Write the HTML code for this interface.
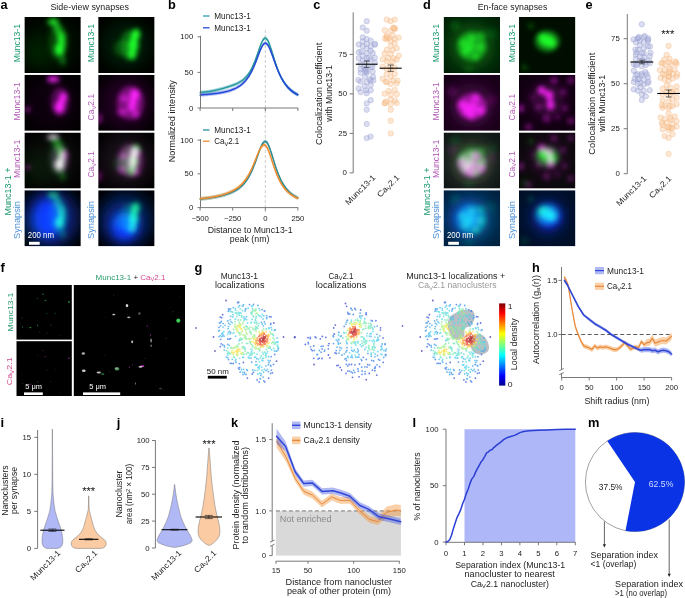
<!DOCTYPE html><html><head><meta charset="utf-8"><title>Figure</title><style>html,body{margin:0;padding:0;background:#fff}svg{display:block}text{font-family:"Liberation Sans",sans-serif}</style></head><body><svg width="685" height="598" viewBox="0 0 685 598" font-family="'Liberation Sans', sans-serif">
<defs>
<filter id="b3" x="-50%" y="-50%" width="200%" height="200%"><feGaussianBlur stdDeviation="2.7"/></filter>
<filter id="b4" x="-50%" y="-50%" width="200%" height="200%"><feGaussianBlur stdDeviation="4"/></filter>
<filter id="b5" x="-50%" y="-50%" width="200%" height="200%"><feGaussianBlur stdDeviation="4.5"/></filter>
<filter id="b8" x="-50%" y="-50%" width="200%" height="200%"><feGaussianBlur stdDeviation="8"/></filter>
<filter id="b1" x="-50%" y="-50%" width="200%" height="200%"><feGaussianBlur stdDeviation="0.5"/></filter>
<linearGradient id="jet" x1="0" y1="1" x2="0" y2="0">
<stop offset="0" stop-color="#00008f"/><stop offset="0.12" stop-color="#0000ff"/><stop offset="0.37" stop-color="#00ffff"/><stop offset="0.5" stop-color="#80ff80"/><stop offset="0.63" stop-color="#ffff00"/><stop offset="0.88" stop-color="#ff0000"/><stop offset="1" stop-color="#800000"/>
</linearGradient>
</defs>
<rect width="685" height="598" fill="#fff"/>
<clipPath id="c1"><rect x="24.4" y="17" width="56.4" height="56.1"/></clipPath>
<g clip-path="url(#c1)" style="isolation:isolate"><rect x="24.4" y="17" width="56.4" height="56.1" fill="#000"/>
<g style="mix-blend-mode:screen"><g filter="url(#b8)" fill="#1fff2a"><ellipse cx="35.7" cy="53.5" rx="16.9" ry="16.8" opacity="0.08"/><ellipse cx="52.6" cy="45.0" rx="28.2" ry="28.1" opacity="0.06"/></g><g filter="url(#b3)" fill="#1fff2a"><ellipse cx="53.2" cy="22.0" rx="5.6" ry="3.9" opacity="0.8"/><ellipse cx="57.7" cy="29.3" rx="3.9" ry="5.0" opacity="0.6"/><ellipse cx="61.1" cy="37.2" rx="4.2" ry="5.6" opacity="0.85"/><ellipse cx="59.4" cy="49.5" rx="4.8" ry="6.2" opacity="1"/><ellipse cx="59.9" cy="48.4" rx="2.8" ry="3.9" opacity="1"/><ellipse cx="61.6" cy="43.4" rx="3.9" ry="5.0" opacity="0.8"/><ellipse cx="62.8" cy="60.8" rx="3.4" ry="5.0" opacity="0.35"/><ellipse cx="58.2" cy="42.2" rx="9.6" ry="18.5" opacity="0.2"/></g></g>
</g>
<clipPath id="c2"><rect x="24.4" y="74.75" width="56.4" height="56.1"/></clipPath>
<g clip-path="url(#c2)" style="isolation:isolate"><rect x="24.4" y="74.75" width="56.4" height="56.1" fill="#000"/>
<g style="mix-blend-mode:screen"><g filter="url(#b8)" fill="#ff22ff"><ellipse cx="52.6" cy="102.8" rx="28.2" ry="28.1" opacity="0.05"/></g><g filter="url(#b3)" fill="#ff22ff"><ellipse cx="53.2" cy="79.2" rx="6.2" ry="3.1" opacity="0.9"/><ellipse cx="63.3" cy="96.6" rx="3.9" ry="4.2" opacity="0.95"/><ellipse cx="59.4" cy="107.3" rx="4.8" ry="5.6" opacity="1"/><ellipse cx="59.4" cy="107.3" rx="2.8" ry="3.4" opacity="1"/><ellipse cx="61.6" cy="101.7" rx="3.7" ry="4.5" opacity="0.9"/><ellipse cx="27.8" cy="109.5" rx="2.5" ry="2.5" opacity="0.6"/><ellipse cx="59.9" cy="101.7" rx="9.6" ry="14.6" opacity="0.28"/></g></g>
</g>
<clipPath id="c3"><rect x="24.4" y="132.5" width="56.4" height="56.1"/></clipPath>
<g clip-path="url(#c3)" style="isolation:isolate"><rect x="24.4" y="132.5" width="56.4" height="56.1" fill="#000"/>
<g style="mix-blend-mode:screen"><g filter="url(#b8)" fill="#1fff2a"><ellipse cx="35.7" cy="169.0" rx="16.9" ry="16.8" opacity="0.0576"/><ellipse cx="52.6" cy="160.6" rx="28.2" ry="28.1" opacity="0.043199999999999995"/></g><g filter="url(#b3)" fill="#1fff2a"><ellipse cx="53.2" cy="137.5" rx="5.6" ry="3.9" opacity="0.576"/><ellipse cx="57.7" cy="144.8" rx="3.9" ry="5.0" opacity="0.432"/><ellipse cx="61.1" cy="152.7" rx="4.2" ry="5.6" opacity="0.612"/><ellipse cx="59.4" cy="165.0" rx="4.8" ry="6.2" opacity="0.72"/><ellipse cx="59.9" cy="163.9" rx="2.8" ry="3.9" opacity="0.72"/><ellipse cx="61.6" cy="158.9" rx="3.9" ry="5.0" opacity="0.576"/><ellipse cx="62.8" cy="176.3" rx="3.4" ry="5.0" opacity="0.252"/><ellipse cx="58.2" cy="157.7" rx="9.6" ry="18.5" opacity="0.144"/></g></g>
<g style="mix-blend-mode:screen"><g filter="url(#b8)" fill="#ff22ff"><ellipse cx="52.6" cy="160.6" rx="28.2" ry="28.1" opacity="0.036"/></g><g filter="url(#b3)" fill="#ff22ff"><ellipse cx="53.2" cy="137.0" rx="6.2" ry="3.1" opacity="0.648"/><ellipse cx="63.3" cy="154.4" rx="3.9" ry="4.2" opacity="0.6839999999999999"/><ellipse cx="59.4" cy="165.0" rx="4.8" ry="5.6" opacity="0.72"/><ellipse cx="59.4" cy="165.0" rx="2.8" ry="3.4" opacity="0.72"/><ellipse cx="61.6" cy="159.4" rx="3.7" ry="4.5" opacity="0.648"/><ellipse cx="27.8" cy="167.3" rx="2.5" ry="2.5" opacity="0.432"/><ellipse cx="59.9" cy="159.4" rx="9.6" ry="14.6" opacity="0.2016"/></g></g>
</g>
<clipPath id="c4"><rect x="24.4" y="190.25" width="56.4" height="56.1"/></clipPath>
<g clip-path="url(#c4)" style="isolation:isolate"><rect x="24.4" y="190.25" width="56.4" height="56.1" fill="#000"/>
<g style="mix-blend-mode:screen"><g filter="url(#b8)" fill="#1030ff"><ellipse cx="52.6" cy="218.3" rx="28.2" ry="28.1" opacity="0.35"/><ellipse cx="47.0" cy="218.3" rx="21.4" ry="26.9" opacity="0.4"/></g><g filter="url(#b5)" fill="#1030ff"><ellipse cx="48.1" cy="218.3" rx="13.5" ry="18.0" opacity="1"/><ellipse cx="49.8" cy="221.1" rx="9.0" ry="12.3" opacity="0.8"/></g></g>
<g style="mix-blend-mode:screen"><g filter="url(#b8)" fill="#10ff70"><ellipse cx="35.7" cy="226.7" rx="16.9" ry="16.8" opacity="0.0576"/><ellipse cx="52.6" cy="218.3" rx="28.2" ry="28.1" opacity="0.043199999999999995"/></g><g filter="url(#b3)" fill="#10ff70"><ellipse cx="53.2" cy="195.3" rx="5.6" ry="3.9" opacity="0.576"/><ellipse cx="57.7" cy="202.6" rx="3.9" ry="5.0" opacity="0.432"/><ellipse cx="61.1" cy="210.4" rx="4.2" ry="5.6" opacity="0.612"/><ellipse cx="59.4" cy="222.8" rx="4.8" ry="6.2" opacity="0.72"/><ellipse cx="59.9" cy="221.7" rx="2.8" ry="3.9" opacity="0.72"/><ellipse cx="61.6" cy="216.6" rx="3.9" ry="5.0" opacity="0.576"/><ellipse cx="62.8" cy="234.0" rx="3.4" ry="5.0" opacity="0.252"/><ellipse cx="58.2" cy="215.5" rx="9.6" ry="18.5" opacity="0.144"/></g></g>
</g>
<clipPath id="c5"><rect x="98.2" y="17" width="56.4" height="56.1"/></clipPath>
<g clip-path="url(#c5)" style="isolation:isolate"><rect x="98.2" y="17" width="56.4" height="56.1" fill="#000"/>
<g style="mix-blend-mode:screen"><g filter="url(#b8)" fill="#1fff2a"><ellipse cx="126.4" cy="45.0" rx="25.4" ry="25.2" opacity="0.1"/></g><g filter="url(#b3)" fill="#1fff2a"><ellipse cx="136.0" cy="34.4" rx="4.2" ry="5.6" opacity="1"/><ellipse cx="133.2" cy="45.0" rx="4.8" ry="6.2" opacity="1"/><ellipse cx="132.0" cy="54.6" rx="4.2" ry="5.0" opacity="0.95"/><ellipse cx="133.7" cy="42.2" rx="3.4" ry="11.2" opacity="1"/><ellipse cx="129.8" cy="45.0" rx="9.6" ry="15.1" opacity="0.33"/><ellipse cx="121.9" cy="48.4" rx="8.5" ry="8.4" opacity="0.2"/></g></g>
</g>
<clipPath id="c6"><rect x="98.2" y="74.75" width="56.4" height="56.1"/></clipPath>
<g clip-path="url(#c6)" style="isolation:isolate"><rect x="98.2" y="74.75" width="56.4" height="56.1" fill="#000"/>
<g style="mix-blend-mode:screen"><g filter="url(#b8)" fill="#ff22ff"><ellipse cx="126.4" cy="102.8" rx="28.2" ry="28.1" opacity="0.12"/></g><g filter="url(#b3)" fill="#ff22ff"><ellipse cx="134.9" cy="94.4" rx="4.8" ry="5.6" opacity="1"/><ellipse cx="134.3" cy="96.1" rx="2.8" ry="3.4" opacity="1"/><ellipse cx="133.2" cy="100.6" rx="3.9" ry="6.7" opacity="0.9"/><ellipse cx="124.1" cy="98.3" rx="3.9" ry="3.4" opacity="0.65"/><ellipse cx="132.0" cy="106.7" rx="4.5" ry="5.0" opacity="0.85"/><ellipse cx="121.9" cy="112.3" rx="5.1" ry="3.9" opacity="0.5"/><ellipse cx="136.0" cy="114.6" rx="3.7" ry="3.6" opacity="0.65"/><ellipse cx="130.3" cy="102.8" rx="13.5" ry="16.8" opacity="0.4"/><ellipse cx="99.3" cy="118.5" rx="2.8" ry="5.6" opacity="0.45"/></g></g>
</g>
<clipPath id="c7"><rect x="98.2" y="132.5" width="56.4" height="56.1"/></clipPath>
<g clip-path="url(#c7)" style="isolation:isolate"><rect x="98.2" y="132.5" width="56.4" height="56.1" fill="#000"/>
<g style="mix-blend-mode:screen"><g filter="url(#b8)" fill="#1fff2a"><ellipse cx="126.4" cy="160.6" rx="25.4" ry="25.2" opacity="0.072"/></g><g filter="url(#b3)" fill="#1fff2a"><ellipse cx="136.0" cy="149.9" rx="4.2" ry="5.6" opacity="0.72"/><ellipse cx="133.2" cy="160.6" rx="4.8" ry="6.2" opacity="0.72"/><ellipse cx="132.0" cy="170.1" rx="4.2" ry="5.0" opacity="0.6839999999999999"/><ellipse cx="133.7" cy="157.7" rx="3.4" ry="11.2" opacity="0.72"/><ellipse cx="129.8" cy="160.6" rx="9.6" ry="15.1" opacity="0.2376"/><ellipse cx="121.9" cy="163.9" rx="8.5" ry="8.4" opacity="0.144"/></g></g>
<g style="mix-blend-mode:screen"><g filter="url(#b8)" fill="#ff22ff"><ellipse cx="126.4" cy="160.6" rx="28.2" ry="28.1" opacity="0.08639999999999999"/></g><g filter="url(#b3)" fill="#ff22ff"><ellipse cx="134.9" cy="152.1" rx="4.8" ry="5.6" opacity="0.72"/><ellipse cx="134.3" cy="153.8" rx="2.8" ry="3.4" opacity="0.72"/><ellipse cx="133.2" cy="158.3" rx="3.9" ry="6.7" opacity="0.648"/><ellipse cx="124.1" cy="156.1" rx="3.9" ry="3.4" opacity="0.46799999999999997"/><ellipse cx="132.0" cy="164.5" rx="4.5" ry="5.0" opacity="0.612"/><ellipse cx="121.9" cy="170.1" rx="5.1" ry="3.9" opacity="0.36"/><ellipse cx="136.0" cy="172.3" rx="3.7" ry="3.6" opacity="0.46799999999999997"/><ellipse cx="130.3" cy="160.6" rx="13.5" ry="16.8" opacity="0.288"/><ellipse cx="99.3" cy="176.3" rx="2.8" ry="5.6" opacity="0.324"/></g></g>
</g>
<clipPath id="c8"><rect x="98.2" y="190.25" width="56.4" height="56.1"/></clipPath>
<g clip-path="url(#c8)" style="isolation:isolate"><rect x="98.2" y="190.25" width="56.4" height="56.1" fill="#000"/>
<g style="mix-blend-mode:screen"><g filter="url(#b8)" fill="#1030ff"><ellipse cx="123.6" cy="223.9" rx="21.4" ry="22.4" opacity="0.4"/><ellipse cx="126.4" cy="218.3" rx="28.2" ry="28.1" opacity="0.22"/></g><g filter="url(#b5)" fill="#1030ff"><ellipse cx="124.7" cy="226.2" rx="12.4" ry="13.5" opacity="1"/><ellipse cx="126.4" cy="227.3" rx="8.5" ry="9.5" opacity="0.8"/></g></g>
<g style="mix-blend-mode:screen"><g filter="url(#b8)" fill="#10ff70"><ellipse cx="126.4" cy="218.3" rx="25.4" ry="25.2" opacity="0.072"/></g><g filter="url(#b3)" fill="#10ff70"><ellipse cx="136.0" cy="207.6" rx="4.2" ry="5.6" opacity="0.72"/><ellipse cx="133.2" cy="218.3" rx="4.8" ry="6.2" opacity="0.72"/><ellipse cx="132.0" cy="227.8" rx="4.2" ry="5.0" opacity="0.6839999999999999"/><ellipse cx="133.7" cy="215.5" rx="3.4" ry="11.2" opacity="0.72"/><ellipse cx="129.8" cy="218.3" rx="9.6" ry="15.1" opacity="0.2376"/><ellipse cx="121.9" cy="221.7" rx="8.5" ry="8.4" opacity="0.144"/></g></g>
</g>
<clipPath id="c9"><rect x="443.6" y="17" width="56.5" height="56.1"/></clipPath>
<g clip-path="url(#c9)" style="isolation:isolate"><rect x="443.6" y="17" width="56.5" height="56.1" fill="#000"/>
<g style="mix-blend-mode:screen"><g filter="url(#b8)" fill="#1fff2a"><ellipse cx="471.9" cy="46.2" rx="23.7" ry="23.6" opacity="0.22"/><ellipse cx="471.9" cy="45.0" rx="50.9" ry="50.5" opacity="0.12"/></g><g filter="url(#b3)" fill="#1fff2a"><ellipse cx="469.6" cy="47.3" rx="4.8" ry="4.8" opacity="0.7"/><ellipse cx="462.8" cy="42.8" rx="4.2" ry="4.2" opacity="0.65"/><ellipse cx="471.3" cy="38.9" rx="4.2" ry="4.2" opacity="0.65"/><ellipse cx="481.5" cy="35.5" rx="4.0" ry="3.9" opacity="0.4"/><ellipse cx="475.8" cy="56.8" rx="3.7" ry="3.6" opacity="0.6"/><ellipse cx="465.1" cy="51.8" rx="4.2" ry="4.2" opacity="0.65"/><ellipse cx="480.3" cy="47.3" rx="4.0" ry="4.2" opacity="0.6"/><ellipse cx="471.9" cy="46.2" rx="14.7" ry="14.6" opacity="0.45"/><ellipse cx="454.9" cy="25.4" rx="5.7" ry="5.6" opacity="0.15"/><ellipse cx="491.6" cy="33.8" rx="5.7" ry="5.6" opacity="0.12"/><ellipse cx="469.0" cy="68.6" rx="5.7" ry="3.4" opacity="0.15"/></g></g>
</g>
<clipPath id="c10"><rect x="443.6" y="74.75" width="56.5" height="56.1"/></clipPath>
<g clip-path="url(#c10)" style="isolation:isolate"><rect x="443.6" y="74.75" width="56.5" height="56.1" fill="#000"/>
<g style="mix-blend-mode:screen"><g filter="url(#b8)" fill="#ff22ff"><ellipse cx="471.9" cy="102.8" rx="50.9" ry="50.5" opacity="0.09"/><ellipse cx="471.9" cy="105.6" rx="22.6" ry="22.4" opacity="0.16"/></g><g filter="url(#b3)" fill="#ff22ff"><ellipse cx="471.3" cy="107.3" rx="6.2" ry="5.6" opacity="0.85"/><ellipse cx="462.2" cy="104.5" rx="4.5" ry="4.5" opacity="0.85"/><ellipse cx="475.8" cy="97.8" rx="4.5" ry="4.5" opacity="0.8"/><ellipse cx="480.9" cy="110.7" rx="4.5" ry="4.5" opacity="0.85"/><ellipse cx="471.3" cy="115.7" rx="4.5" ry="3.9" opacity="0.85"/><ellipse cx="466.8" cy="111.2" rx="4.5" ry="4.5" opacity="0.85"/><ellipse cx="471.9" cy="106.7" rx="14.7" ry="12.9" opacity="0.5"/><ellipse cx="452.1" cy="91.6" rx="5.7" ry="5.6" opacity="0.15"/><ellipse cx="491.6" cy="100.0" rx="5.7" ry="5.6" opacity="0.12"/></g></g>
</g>
<clipPath id="c11"><rect x="443.6" y="132.5" width="56.5" height="56.1"/></clipPath>
<g clip-path="url(#c11)" style="isolation:isolate"><rect x="443.6" y="132.5" width="56.5" height="56.1" fill="#000"/>
<g style="mix-blend-mode:screen"><g filter="url(#b8)" fill="#1fff2a"><ellipse cx="471.9" cy="161.7" rx="23.7" ry="23.6" opacity="0.15839999999999999"/><ellipse cx="471.9" cy="160.6" rx="50.9" ry="50.5" opacity="0.08639999999999999"/></g><g filter="url(#b3)" fill="#1fff2a"><ellipse cx="469.6" cy="162.8" rx="4.8" ry="4.8" opacity="0.504"/><ellipse cx="462.8" cy="158.3" rx="4.2" ry="4.2" opacity="0.46799999999999997"/><ellipse cx="471.3" cy="154.4" rx="4.2" ry="4.2" opacity="0.46799999999999997"/><ellipse cx="481.5" cy="151.0" rx="4.0" ry="3.9" opacity="0.288"/><ellipse cx="475.8" cy="172.3" rx="3.7" ry="3.6" opacity="0.432"/><ellipse cx="465.1" cy="167.3" rx="4.2" ry="4.2" opacity="0.46799999999999997"/><ellipse cx="480.3" cy="162.8" rx="4.0" ry="4.2" opacity="0.432"/><ellipse cx="471.9" cy="161.7" rx="14.7" ry="14.6" opacity="0.324"/><ellipse cx="454.9" cy="140.9" rx="5.7" ry="5.6" opacity="0.108"/><ellipse cx="491.6" cy="149.3" rx="5.7" ry="5.6" opacity="0.08639999999999999"/><ellipse cx="469.0" cy="184.1" rx="5.7" ry="3.4" opacity="0.108"/></g></g>
<g style="mix-blend-mode:screen"><g filter="url(#b8)" fill="#ff22ff"><ellipse cx="471.9" cy="160.6" rx="50.9" ry="50.5" opacity="0.0648"/><ellipse cx="471.9" cy="163.4" rx="22.6" ry="22.4" opacity="0.1152"/></g><g filter="url(#b3)" fill="#ff22ff"><ellipse cx="471.3" cy="165.0" rx="6.2" ry="5.6" opacity="0.612"/><ellipse cx="462.2" cy="162.2" rx="4.5" ry="4.5" opacity="0.612"/><ellipse cx="475.8" cy="155.5" rx="4.5" ry="4.5" opacity="0.576"/><ellipse cx="480.9" cy="168.4" rx="4.5" ry="4.5" opacity="0.612"/><ellipse cx="471.3" cy="173.5" rx="4.5" ry="3.9" opacity="0.612"/><ellipse cx="466.8" cy="169.0" rx="4.5" ry="4.5" opacity="0.612"/><ellipse cx="471.9" cy="164.5" rx="14.7" ry="12.9" opacity="0.36"/><ellipse cx="452.1" cy="149.3" rx="5.7" ry="5.6" opacity="0.108"/><ellipse cx="491.6" cy="157.7" rx="5.7" ry="5.6" opacity="0.08639999999999999"/></g></g>
</g>
<clipPath id="c12"><rect x="443.6" y="190.25" width="56.5" height="56.1"/></clipPath>
<g clip-path="url(#c12)" style="isolation:isolate"><rect x="443.6" y="190.25" width="56.5" height="56.1" fill="#000"/>
<g style="mix-blend-mode:screen"><g filter="url(#b8)" fill="#1030ff"><ellipse cx="471.9" cy="218.3" rx="50.9" ry="50.5" opacity="0.22"/><ellipse cx="469.0" cy="218.3" rx="22.6" ry="22.4" opacity="0.4"/></g><g filter="url(#b5)" fill="#1030ff"><ellipse cx="469.0" cy="218.3" rx="13.6" ry="13.5" opacity="0.8"/><ellipse cx="469.0" cy="217.2" rx="7.9" ry="7.9" opacity="0.6"/></g></g>
<g style="mix-blend-mode:screen"><g filter="url(#b8)" fill="#10ff70"><ellipse cx="471.9" cy="219.4" rx="23.7" ry="23.6" opacity="0.15839999999999999"/><ellipse cx="471.9" cy="218.3" rx="50.9" ry="50.5" opacity="0.08639999999999999"/></g><g filter="url(#b3)" fill="#10ff70"><ellipse cx="469.6" cy="220.5" rx="4.8" ry="4.8" opacity="0.504"/><ellipse cx="462.8" cy="216.1" rx="4.2" ry="4.2" opacity="0.46799999999999997"/><ellipse cx="471.3" cy="212.1" rx="4.2" ry="4.2" opacity="0.46799999999999997"/><ellipse cx="481.5" cy="208.8" rx="4.0" ry="3.9" opacity="0.288"/><ellipse cx="475.8" cy="230.1" rx="3.7" ry="3.6" opacity="0.432"/><ellipse cx="465.1" cy="225.0" rx="4.2" ry="4.2" opacity="0.46799999999999997"/><ellipse cx="480.3" cy="220.5" rx="4.0" ry="4.2" opacity="0.432"/><ellipse cx="471.9" cy="219.4" rx="14.7" ry="14.6" opacity="0.324"/><ellipse cx="454.9" cy="198.7" rx="5.7" ry="5.6" opacity="0.108"/><ellipse cx="491.6" cy="207.1" rx="5.7" ry="5.6" opacity="0.08639999999999999"/><ellipse cx="469.0" cy="241.9" rx="5.7" ry="3.4" opacity="0.108"/></g></g>
</g>
<clipPath id="c13"><rect x="519" y="17" width="56.4" height="56.1"/></clipPath>
<g clip-path="url(#c13)" style="isolation:isolate"><rect x="519" y="17" width="56.4" height="56.1" fill="#000"/>
<g style="mix-blend-mode:screen"><g filter="url(#b8)" fill="#1fff2a"><ellipse cx="547.2" cy="45.0" rx="50.8" ry="50.5" opacity="0.05"/></g><g filter="url(#b3)" fill="#1fff2a"><ellipse cx="542.7" cy="37.8" rx="4.8" ry="4.8" opacity="0.9"/><ellipse cx="551.7" cy="43.4" rx="4.8" ry="4.8" opacity="0.9"/><ellipse cx="547.2" cy="40.6" rx="7.3" ry="6.2" opacity="0.9"/><ellipse cx="547.2" cy="41.1" rx="12.4" ry="10.7" opacity="0.45"/><ellipse cx="530.8" cy="26.0" rx="2.8" ry="2.8" opacity="0.3"/><ellipse cx="524.6" cy="67.5" rx="3.4" ry="3.4" opacity="0.2"/></g></g>
</g>
<clipPath id="c14"><rect x="519" y="74.75" width="56.4" height="56.1"/></clipPath>
<g clip-path="url(#c14)" style="isolation:isolate"><rect x="519" y="74.75" width="56.4" height="56.1" fill="#000"/>
<g style="mix-blend-mode:screen"><g filter="url(#b8)" fill="#ff22ff"><ellipse cx="547.2" cy="100.0" rx="16.9" ry="16.8" opacity="0.18"/><ellipse cx="547.2" cy="102.8" rx="50.8" ry="50.5" opacity="0.06"/></g><g filter="url(#b3)" fill="#ff22ff"><ellipse cx="541.6" cy="90.5" rx="3.9" ry="3.9" opacity="0.95"/><ellipse cx="548.9" cy="94.4" rx="4.5" ry="3.9" opacity="0.95"/><ellipse cx="550.6" cy="105.6" rx="3.7" ry="4.5" opacity="0.95"/><ellipse cx="550.0" cy="100.0" rx="2.8" ry="4.5" opacity="0.8"/><ellipse cx="554.0" cy="80.4" rx="3.4" ry="3.4" opacity="0.45"/><ellipse cx="520.7" cy="108.4" rx="2.8" ry="3.9" opacity="0.6"/><ellipse cx="570.9" cy="80.4" rx="3.4" ry="3.4" opacity="0.4"/><ellipse cx="564.7" cy="108.4" rx="3.4" ry="3.4" opacity="0.3"/><ellipse cx="546.6" cy="118.5" rx="3.4" ry="3.9" opacity="0.4"/><ellipse cx="570.9" cy="120.8" rx="3.4" ry="3.4" opacity="0.4"/><ellipse cx="528.6" cy="126.9" rx="3.9" ry="2.8" opacity="0.4"/><ellipse cx="538.7" cy="106.7" rx="3.4" ry="3.4" opacity="0.35"/><ellipse cx="563.0" cy="92.1" rx="3.4" ry="3.4" opacity="0.35"/><ellipse cx="557.4" cy="116.8" rx="2.8" ry="2.8" opacity="0.3"/><ellipse cx="533.1" cy="97.2" rx="2.8" ry="2.8" opacity="0.25"/></g></g>
</g>
<clipPath id="c15"><rect x="519" y="132.5" width="56.4" height="56.1"/></clipPath>
<g clip-path="url(#c15)" style="isolation:isolate"><rect x="519" y="132.5" width="56.4" height="56.1" fill="#000"/>
<g style="mix-blend-mode:screen"><g filter="url(#b8)" fill="#1fff2a"><ellipse cx="547.2" cy="160.6" rx="50.8" ry="50.5" opacity="0.036"/></g><g filter="url(#b3)" fill="#1fff2a"><ellipse cx="542.7" cy="153.3" rx="4.8" ry="4.8" opacity="0.648"/><ellipse cx="551.7" cy="158.9" rx="4.8" ry="4.8" opacity="0.648"/><ellipse cx="547.2" cy="156.1" rx="7.3" ry="6.2" opacity="0.648"/><ellipse cx="547.2" cy="156.6" rx="12.4" ry="10.7" opacity="0.324"/><ellipse cx="530.8" cy="141.5" rx="2.8" ry="2.8" opacity="0.216"/><ellipse cx="524.6" cy="183.0" rx="3.4" ry="3.4" opacity="0.144"/></g></g>
<g style="mix-blend-mode:screen"><g filter="url(#b8)" fill="#ff22ff"><ellipse cx="547.2" cy="157.7" rx="16.9" ry="16.8" opacity="0.1296"/><ellipse cx="547.2" cy="160.6" rx="50.8" ry="50.5" opacity="0.043199999999999995"/></g><g filter="url(#b3)" fill="#ff22ff"><ellipse cx="541.6" cy="148.2" rx="3.9" ry="3.9" opacity="0.6839999999999999"/><ellipse cx="548.9" cy="152.1" rx="4.5" ry="3.9" opacity="0.6839999999999999"/><ellipse cx="550.6" cy="163.4" rx="3.7" ry="4.5" opacity="0.6839999999999999"/><ellipse cx="550.0" cy="157.7" rx="2.8" ry="4.5" opacity="0.576"/><ellipse cx="554.0" cy="138.1" rx="3.4" ry="3.4" opacity="0.324"/><ellipse cx="520.7" cy="166.2" rx="2.8" ry="3.9" opacity="0.432"/><ellipse cx="570.9" cy="138.1" rx="3.4" ry="3.4" opacity="0.288"/><ellipse cx="564.7" cy="166.2" rx="3.4" ry="3.4" opacity="0.216"/><ellipse cx="546.6" cy="176.3" rx="3.4" ry="3.9" opacity="0.288"/><ellipse cx="570.9" cy="178.5" rx="3.4" ry="3.4" opacity="0.288"/><ellipse cx="528.6" cy="184.7" rx="3.9" ry="2.8" opacity="0.288"/><ellipse cx="538.7" cy="164.5" rx="3.4" ry="3.4" opacity="0.252"/><ellipse cx="563.0" cy="149.9" rx="3.4" ry="3.4" opacity="0.252"/><ellipse cx="557.4" cy="174.6" rx="2.8" ry="2.8" opacity="0.216"/><ellipse cx="533.1" cy="154.9" rx="2.8" ry="2.8" opacity="0.18"/></g></g>
</g>
<clipPath id="c16"><rect x="519" y="190.25" width="56.4" height="56.1"/></clipPath>
<g clip-path="url(#c16)" style="isolation:isolate"><rect x="519" y="190.25" width="56.4" height="56.1" fill="#000"/>
<g style="mix-blend-mode:screen"><g filter="url(#b8)" fill="#1030ff"><ellipse cx="547.2" cy="218.3" rx="50.8" ry="50.5" opacity="0.14"/><ellipse cx="547.2" cy="217.2" rx="18.0" ry="18.0" opacity="0.35"/></g><g filter="url(#b5)" fill="#1030ff"><ellipse cx="548.9" cy="216.1" rx="11.3" ry="11.2" opacity="1"/><ellipse cx="547.2" cy="215.5" rx="7.3" ry="6.7" opacity="0.8"/></g></g>
<g style="mix-blend-mode:screen"><g filter="url(#b8)" fill="#10ff70"><ellipse cx="547.2" cy="218.3" rx="50.8" ry="50.5" opacity="0.036"/></g><g filter="url(#b3)" fill="#10ff70"><ellipse cx="542.7" cy="211.0" rx="4.8" ry="4.8" opacity="0.648"/><ellipse cx="551.7" cy="216.6" rx="4.8" ry="4.8" opacity="0.648"/><ellipse cx="547.2" cy="213.8" rx="7.3" ry="6.2" opacity="0.648"/><ellipse cx="547.2" cy="214.4" rx="12.4" ry="10.7" opacity="0.324"/><ellipse cx="530.8" cy="199.2" rx="2.8" ry="2.8" opacity="0.216"/><ellipse cx="524.6" cy="240.7" rx="3.4" ry="3.4" opacity="0.144"/></g></g>
</g>
<rect x="29" y="241.8" width="10.7" height="3" fill="#fff"/>
<text x="27.8" y="238.4" font-size="8.3" fill="#fff" text-anchor="start" textLength="26.2" lengthAdjust="spacingAndGlyphs" >200 nm</text>
<rect x="448.2" y="241.8" width="10.7" height="3" fill="#fff"/>
<text x="447.0" y="238.4" font-size="8.3" fill="#fff" text-anchor="start" textLength="26.2" lengthAdjust="spacingAndGlyphs" >200 nm</text>
<text x="89.7" y="10.2" font-size="8.6" fill="#222" text-anchor="middle" textLength="78.6" lengthAdjust="spacingAndGlyphs" >Side-view synapses</text>
<text x="512.5" y="10.2" font-size="8.6" fill="#222" text-anchor="middle" textLength="69.6" lengthAdjust="spacingAndGlyphs" >En-face synapses</text>
<text x="20.0" y="62.2" font-size="8.6" fill="#1b9a6e" text-anchor="start" transform="rotate(-90 20.0 62.2)" textLength="38.2" lengthAdjust="spacingAndGlyphs" >Munc13-1</text>
<text x="20.0" y="120.4" font-size="8.6" fill="#b25ab5" text-anchor="start" transform="rotate(-90 20.0 120.4)" textLength="38.2" lengthAdjust="spacingAndGlyphs" >Munc13-1</text>
<text x="20.0" y="178" font-size="8.6" fill="#b25ab5" text-anchor="start" transform="rotate(-90 20.0 178)" textLength="38.2" lengthAdjust="spacingAndGlyphs" >Munc13-1</text>
<text x="11.2" y="215.5" font-size="8.6" fill="#1b9a6e" text-anchor="start" transform="rotate(-90 11.2 215.5)" textLength="48.0" lengthAdjust="spacingAndGlyphs" >Munc13-1 +</text>
<text x="20.0" y="239" font-size="8.6" fill="#4a8fd6" text-anchor="start" transform="rotate(-90 20.0 239)" textLength="38.0" lengthAdjust="spacingAndGlyphs" >Synapsin</text>
<text x="94.3" y="62.2" font-size="8.6" fill="#1b9a6e" text-anchor="start" transform="rotate(-90 94.3 62.2)" textLength="38.2" lengthAdjust="spacingAndGlyphs" >Munc13-1</text>
<text x="94.3" y="120.4" font-size="8.6" fill="#b25ab5" text-anchor="start" transform="rotate(-90 94.3 120.4)" textLength="26.5" lengthAdjust="spacingAndGlyphs" >Ca<tspan font-size="70%" dy="1.5">V</tspan><tspan dy="-1.5">2.1</tspan></text>
<text x="94.3" y="177.5" font-size="8.6" fill="#b25ab5" text-anchor="start" transform="rotate(-90 94.3 177.5)" textLength="26.5" lengthAdjust="spacingAndGlyphs" >Ca<tspan font-size="70%" dy="1.5">V</tspan><tspan dy="-1.5">2.1</tspan></text>
<text x="94.3" y="239" font-size="8.6" fill="#4a8fd6" text-anchor="start" transform="rotate(-90 94.3 239)" textLength="38.0" lengthAdjust="spacingAndGlyphs" >Synapsin</text>
<text x="439.1" y="62.2" font-size="8.6" fill="#1b9a6e" text-anchor="start" transform="rotate(-90 439.1 62.2)" textLength="38.2" lengthAdjust="spacingAndGlyphs" >Munc13-1</text>
<text x="439.1" y="120.4" font-size="8.6" fill="#b25ab5" text-anchor="start" transform="rotate(-90 439.1 120.4)" textLength="38.2" lengthAdjust="spacingAndGlyphs" >Munc13-1</text>
<text x="439.1" y="178" font-size="8.6" fill="#b25ab5" text-anchor="start" transform="rotate(-90 439.1 178)" textLength="38.2" lengthAdjust="spacingAndGlyphs" >Munc13-1</text>
<text x="430.3" y="215.5" font-size="8.6" fill="#1b9a6e" text-anchor="start" transform="rotate(-90 430.3 215.5)" textLength="48.0" lengthAdjust="spacingAndGlyphs" >Munc13-1 +</text>
<text x="439.1" y="239" font-size="8.6" fill="#4a8fd6" text-anchor="start" transform="rotate(-90 439.1 239)" textLength="38.0" lengthAdjust="spacingAndGlyphs" >Synapsin</text>
<text x="514.7" y="62.2" font-size="8.6" fill="#1b9a6e" text-anchor="start" transform="rotate(-90 514.7 62.2)" textLength="38.2" lengthAdjust="spacingAndGlyphs" >Munc13-1</text>
<text x="514.7" y="120.4" font-size="8.6" fill="#b25ab5" text-anchor="start" transform="rotate(-90 514.7 120.4)" textLength="26.5" lengthAdjust="spacingAndGlyphs" >Ca<tspan font-size="70%" dy="1.5">V</tspan><tspan dy="-1.5">2.1</tspan></text>
<text x="514.7" y="177.5" font-size="8.6" fill="#b25ab5" text-anchor="start" transform="rotate(-90 514.7 177.5)" textLength="26.5" lengthAdjust="spacingAndGlyphs" >Ca<tspan font-size="70%" dy="1.5">V</tspan><tspan dy="-1.5">2.1</tspan></text>
<text x="514.7" y="239" font-size="8.6" fill="#4a8fd6" text-anchor="start" transform="rotate(-90 514.7 239)" textLength="38.0" lengthAdjust="spacingAndGlyphs" >Synapsin</text>
<text x="0.6" y="9.2" font-size="12.8" fill="#000" text-anchor="start" font-weight="bold" textLength="7.1" lengthAdjust="spacingAndGlyphs" >a</text>
<text x="168" y="9.2" font-size="12.8" fill="#000" text-anchor="start" font-weight="bold" textLength="7.8" lengthAdjust="spacingAndGlyphs" >b</text>
<text x="313.2" y="9.2" font-size="12.8" fill="#000" text-anchor="start" font-weight="bold" textLength="7.1" lengthAdjust="spacingAndGlyphs" >c</text>
<text x="423" y="9.2" font-size="12.8" fill="#000" text-anchor="start" font-weight="bold" textLength="7.8" lengthAdjust="spacingAndGlyphs" >d</text>
<text x="585.5" y="9.2" font-size="12.8" fill="#000" text-anchor="start" font-weight="bold" textLength="7.1" lengthAdjust="spacingAndGlyphs" >e</text>
<text x="0.6" y="272.4" font-size="12.8" fill="#000" text-anchor="start" font-weight="bold" textLength="4.3" lengthAdjust="spacingAndGlyphs" >f</text>
<text x="194.6" y="272" font-size="12.8" fill="#000" text-anchor="start" font-weight="bold" textLength="7.8" lengthAdjust="spacingAndGlyphs" >g</text>
<text x="532" y="271.6" font-size="12.8" fill="#000" text-anchor="start" font-weight="bold" textLength="7.8" lengthAdjust="spacingAndGlyphs" >h</text>
<text x="0.6" y="427.2" font-size="12.8" fill="#000" text-anchor="start" font-weight="bold" textLength="3.6" lengthAdjust="spacingAndGlyphs" >i</text>
<text x="116.8" y="427.2" font-size="12.8" fill="#000" text-anchor="start" font-weight="bold" textLength="3.6" lengthAdjust="spacingAndGlyphs" >j</text>
<text x="231" y="427.3" font-size="12.8" fill="#000" text-anchor="start" font-weight="bold" textLength="7.1" lengthAdjust="spacingAndGlyphs" >k</text>
<text x="412.6" y="427.3" font-size="12.8" fill="#000" text-anchor="start" font-weight="bold" textLength="3.6" lengthAdjust="spacingAndGlyphs" >l</text>
<text x="588" y="427.3" font-size="12.8" fill="#000" text-anchor="start" font-weight="bold" textLength="11.4" lengthAdjust="spacingAndGlyphs" >m</text>
<line x1="265.30" y1="30.00" x2="265.30" y2="212.00" stroke="#aaa" stroke-width="0.6" stroke-dasharray="3 2"/>
<polygon points="200.1,90.6 200.8,90.6 201.4,90.5 202.1,90.5 202.7,90.4 203.4,90.4 204.0,90.3 204.7,90.2 205.3,90.2 206.0,90.1 206.6,90.0 207.3,89.9 207.9,89.9 208.6,89.8 209.2,89.7 209.9,89.6 210.5,89.5 211.2,89.4 211.8,89.2 212.5,89.1 213.1,89.0 213.8,88.9 214.4,88.7 215.1,88.6 215.7,88.5 216.4,88.3 217.1,88.1 217.7,88.0 218.4,87.8 219.0,87.7 219.7,87.5 220.3,87.3 221.0,87.1 221.6,87.0 222.3,86.8 222.9,86.6 223.6,86.4 224.2,86.2 224.9,86.0 225.5,85.8 226.2,85.6 226.8,85.4 227.5,85.2 228.1,85.0 228.8,84.8 229.4,84.6 230.1,84.4 230.7,84.1 231.4,83.9 232.0,83.7 232.7,83.5 233.4,83.2 234.0,83.0 234.7,82.7 235.3,82.4 236.0,82.2 236.6,81.9 237.3,81.6 237.9,81.3 238.6,80.9 239.2,80.6 239.9,80.2 240.5,79.8 241.2,79.4 241.8,79.0 242.5,78.5 243.1,78.0 243.8,77.4 244.4,76.8 245.1,76.2 245.7,75.5 246.4,74.8 247.0,74.0 247.7,73.2 248.3,72.3 249.0,71.4 249.7,70.3 250.3,69.2 251.0,68.1 251.6,66.8 252.3,65.5 252.9,64.1 253.6,62.6 254.2,61.1 254.9,59.4 255.5,57.7 256.2,56.0 256.8,54.1 257.5,52.3 258.1,50.4 258.8,48.5 259.4,46.6 260.1,44.8 260.7,43.0 261.4,41.4 262.0,40.0 262.7,38.7 263.3,37.7 264.0,37.0 264.6,36.5 265.3,36.4 266.0,36.6 266.6,37.1 267.3,37.9 267.9,38.9 268.6,40.3 269.2,41.8 269.9,43.6 270.5,45.5 271.2,47.5 271.8,49.5 272.5,51.6 273.1,53.8 273.8,55.9 274.4,58.0 275.1,60.0 275.7,62.0 276.4,63.9 277.0,65.7 277.7,67.5 278.3,69.2 279.0,70.8 279.6,72.3 280.3,73.7 280.9,75.1 281.6,76.4 282.3,77.6 282.9,78.7 283.6,79.8 284.2,80.8 284.9,81.8 285.5,82.7 286.2,83.5 286.8,84.3 287.5,85.1 288.1,85.8 288.8,86.5 289.4,87.1 290.1,87.7 290.7,88.3 291.4,88.8 292.0,89.3 292.7,89.8 293.3,90.3 294.0,90.7 294.6,91.1 295.3,91.5 295.9,91.9 296.6,92.2 297.2,92.6 297.9,92.9 297.9,96.5 297.2,96.2 296.6,95.8 295.9,95.5 295.3,95.1 294.6,94.7 294.0,94.3 293.3,93.9 292.7,93.4 292.0,92.9 291.4,92.4 290.7,91.9 290.1,91.3 289.4,90.7 288.8,90.1 288.1,89.4 287.5,88.7 286.8,87.9 286.2,87.1 285.5,86.3 284.9,85.4 284.2,84.4 283.6,83.4 282.9,82.3 282.3,81.2 281.6,80.0 280.9,78.7 280.3,77.3 279.6,75.9 279.0,74.4 278.3,72.8 277.7,71.1 277.0,69.3 276.4,67.5 275.7,65.6 275.1,63.6 274.4,61.6 273.8,59.5 273.1,57.4 272.5,55.2 271.8,53.1 271.2,51.1 270.5,49.1 269.9,47.2 269.2,45.4 268.6,43.9 267.9,42.5 267.3,41.5 266.6,40.7 266.0,40.2 265.3,40.0 264.6,40.1 264.0,40.6 263.3,41.3 262.7,42.3 262.0,43.6 261.4,45.0 260.7,46.6 260.1,48.4 259.4,50.2 258.8,52.1 258.1,54.0 257.5,55.9 256.8,57.7 256.2,59.6 255.5,61.3 254.9,63.0 254.2,64.7 253.6,66.2 252.9,67.7 252.3,69.1 251.6,70.4 251.0,71.7 250.3,72.8 249.7,73.9 249.0,75.0 248.3,75.9 247.7,76.8 247.0,77.6 246.4,78.4 245.7,79.1 245.1,79.8 244.4,80.4 243.8,81.0 243.1,81.6 242.5,82.1 241.8,82.6 241.2,83.0 240.5,83.4 239.9,83.8 239.2,84.2 238.6,84.5 237.9,84.9 237.3,85.2 236.6,85.5 236.0,85.8 235.3,86.0 234.7,86.3 234.0,86.6 233.4,86.8 232.7,87.1 232.0,87.3 231.4,87.5 230.7,87.7 230.1,88.0 229.4,88.2 228.8,88.4 228.1,88.6 227.5,88.8 226.8,89.0 226.2,89.2 225.5,89.4 224.9,89.6 224.2,89.8 223.6,90.0 222.9,90.2 222.3,90.4 221.6,90.6 221.0,90.7 220.3,90.9 219.7,91.1 219.0,91.3 218.4,91.4 217.7,91.6 217.1,91.7 216.4,91.9 215.7,92.1 215.1,92.2 214.4,92.3 213.8,92.5 213.1,92.6 212.5,92.7 211.8,92.8 211.2,93.0 210.5,93.1 209.9,93.2 209.2,93.3 208.6,93.4 207.9,93.5 207.3,93.5 206.6,93.6 206.0,93.7 205.3,93.8 204.7,93.8 204.0,93.9 203.4,94.0 202.7,94.0 202.1,94.1 201.4,94.1 200.8,94.2 200.1,94.2" fill="#2a9db5" opacity="0.4"/>
<polygon points="200.1,93.1 200.8,93.1 201.4,93.0 202.1,93.0 202.7,92.9 203.4,92.9 204.0,92.8 204.7,92.8 205.3,92.7 206.0,92.7 206.6,92.6 207.3,92.6 207.9,92.5 208.6,92.5 209.2,92.4 209.9,92.3 210.5,92.3 211.2,92.2 211.8,92.1 212.5,92.1 213.1,92.0 213.8,91.9 214.4,91.8 215.1,91.8 215.7,91.7 216.4,91.6 217.1,91.5 217.7,91.4 218.4,91.3 219.0,91.2 219.7,91.1 220.3,91.0 221.0,90.9 221.6,90.8 222.3,90.6 222.9,90.5 223.6,90.4 224.2,90.2 224.9,90.1 225.5,89.9 226.2,89.8 226.8,89.6 227.5,89.5 228.1,89.3 228.8,89.1 229.4,88.9 230.1,88.7 230.7,88.5 231.4,88.2 232.0,88.0 232.7,87.7 233.4,87.5 234.0,87.2 234.7,86.9 235.3,86.6 236.0,86.3 236.6,86.0 237.3,85.6 237.9,85.2 238.6,84.8 239.2,84.4 239.9,84.0 240.5,83.5 241.2,83.0 241.8,82.5 242.5,81.9 243.1,81.3 243.8,80.7 244.4,80.1 245.1,79.4 245.7,78.6 246.4,77.8 247.0,77.0 247.7,76.1 248.3,75.2 249.0,74.2 249.7,73.1 250.3,72.0 251.0,70.8 251.6,69.6 252.3,68.3 252.9,66.9 253.6,65.5 254.2,64.0 254.9,62.4 255.5,60.8 256.2,59.1 256.8,57.4 257.5,55.6 258.1,53.9 258.8,52.2 259.4,50.5 260.1,48.8 260.7,47.3 261.4,45.8 262.0,44.6 262.7,43.5 263.3,42.6 264.0,41.9 264.6,41.5 265.3,41.4 266.0,41.5 266.6,41.9 267.3,42.6 267.9,43.4 268.6,44.5 269.2,45.8 269.9,47.2 270.5,48.8 271.2,50.5 271.8,52.2 272.5,54.0 273.1,55.8 273.8,57.7 274.4,59.5 275.1,61.3 275.7,63.1 276.4,64.8 277.0,66.5 277.7,68.1 278.3,69.7 279.0,71.2 279.6,72.6 280.3,73.9 280.9,75.2 281.6,76.5 282.3,77.6 282.9,78.7 283.6,79.8 284.2,80.8 284.9,81.7 285.5,82.6 286.2,83.5 286.8,84.3 287.5,85.0 288.1,85.8 288.8,86.4 289.4,87.1 290.1,87.7 290.7,88.3 291.4,88.8 292.0,89.3 292.7,89.8 293.3,90.3 294.0,90.7 294.6,91.2 295.3,91.6 295.9,92.0 296.6,92.3 297.2,92.7 297.9,93.0 297.9,96.6 297.2,96.3 296.6,95.9 295.9,95.6 295.3,95.2 294.6,94.8 294.0,94.3 293.3,93.9 292.7,93.4 292.0,92.9 291.4,92.4 290.7,91.9 290.1,91.3 289.4,90.7 288.8,90.0 288.1,89.4 287.5,88.6 286.8,87.9 286.2,87.1 285.5,86.2 284.9,85.3 284.2,84.4 283.6,83.4 282.9,82.3 282.3,81.2 281.6,80.1 280.9,78.8 280.3,77.5 279.6,76.2 279.0,74.8 278.3,73.3 277.7,71.7 277.0,70.1 276.4,68.4 275.7,66.7 275.1,64.9 274.4,63.1 273.8,61.3 273.1,59.4 272.5,57.6 271.8,55.8 271.2,54.1 270.5,52.4 269.9,50.8 269.2,49.4 268.6,48.1 267.9,47.0 267.3,46.2 266.6,45.5 266.0,45.1 265.3,45.0 264.6,45.1 264.0,45.5 263.3,46.2 262.7,47.1 262.0,48.2 261.4,49.4 260.7,50.9 260.1,52.4 259.4,54.1 258.8,55.8 258.1,57.5 257.5,59.2 256.8,61.0 256.2,62.7 255.5,64.4 254.9,66.0 254.2,67.6 253.6,69.1 252.9,70.5 252.3,71.9 251.6,73.2 251.0,74.4 250.3,75.6 249.7,76.7 249.0,77.8 248.3,78.8 247.7,79.7 247.0,80.6 246.4,81.4 245.7,82.2 245.1,83.0 244.4,83.7 243.8,84.3 243.1,84.9 242.5,85.5 241.8,86.1 241.2,86.6 240.5,87.1 239.9,87.6 239.2,88.0 238.6,88.4 237.9,88.8 237.3,89.2 236.6,89.6 236.0,89.9 235.3,90.2 234.7,90.5 234.0,90.8 233.4,91.1 232.7,91.3 232.0,91.6 231.4,91.8 230.7,92.1 230.1,92.3 229.4,92.5 228.8,92.7 228.1,92.9 227.5,93.1 226.8,93.2 226.2,93.4 225.5,93.5 224.9,93.7 224.2,93.8 223.6,94.0 222.9,94.1 222.3,94.2 221.6,94.4 221.0,94.5 220.3,94.6 219.7,94.7 219.0,94.8 218.4,94.9 217.7,95.0 217.1,95.1 216.4,95.2 215.7,95.3 215.1,95.4 214.4,95.4 213.8,95.5 213.1,95.6 212.5,95.7 211.8,95.7 211.2,95.8 210.5,95.9 209.9,95.9 209.2,96.0 208.6,96.1 207.9,96.1 207.3,96.2 206.6,96.2 206.0,96.3 205.3,96.3 204.7,96.4 204.0,96.4 203.4,96.5 202.7,96.5 202.1,96.6 201.4,96.6 200.8,96.7 200.1,96.7" fill="#2a50e0" opacity="0.35"/>
<polyline points="200.1,92.4 200.8,92.4 201.4,92.3 202.1,92.3 202.7,92.2 203.4,92.2 204.0,92.1 204.7,92.0 205.3,92.0 206.0,91.9 206.6,91.8 207.3,91.7 207.9,91.7 208.6,91.6 209.2,91.5 209.9,91.4 210.5,91.3 211.2,91.2 211.8,91.0 212.5,90.9 213.1,90.8 213.8,90.7 214.4,90.5 215.1,90.4 215.7,90.3 216.4,90.1 217.1,89.9 217.7,89.8 218.4,89.6 219.0,89.5 219.7,89.3 220.3,89.1 221.0,88.9 221.6,88.8 222.3,88.6 222.9,88.4 223.6,88.2 224.2,88.0 224.9,87.8 225.5,87.6 226.2,87.4 226.8,87.2 227.5,87.0 228.1,86.8 228.8,86.6 229.4,86.4 230.1,86.2 230.7,85.9 231.4,85.7 232.0,85.5 232.7,85.3 233.4,85.0 234.0,84.8 234.7,84.5 235.3,84.2 236.0,84.0 236.6,83.7 237.3,83.4 237.9,83.1 238.6,82.7 239.2,82.4 239.9,82.0 240.5,81.6 241.2,81.2 241.8,80.8 242.5,80.3 243.1,79.8 243.8,79.2 244.4,78.6 245.1,78.0 245.7,77.3 246.4,76.6 247.0,75.8 247.7,75.0 248.3,74.1 249.0,73.2 249.7,72.1 250.3,71.0 251.0,69.9 251.6,68.6 252.3,67.3 252.9,65.9 253.6,64.4 254.2,62.9 254.9,61.2 255.5,59.5 256.2,57.8 256.8,55.9 257.5,54.1 258.1,52.2 258.8,50.3 259.4,48.4 260.1,46.6 260.7,44.8 261.4,43.2 262.0,41.8 262.7,40.5 263.3,39.5 264.0,38.8 264.6,38.3 265.3,38.2 266.0,38.4 266.6,38.9 267.3,39.7 267.9,40.7 268.6,42.1 269.2,43.6 269.9,45.4 270.5,47.3 271.2,49.3 271.8,51.3 272.5,53.4 273.1,55.6 273.8,57.7 274.4,59.8 275.1,61.8 275.7,63.8 276.4,65.7 277.0,67.5 277.7,69.3 278.3,71.0 279.0,72.6 279.6,74.1 280.3,75.5 280.9,76.9 281.6,78.2 282.3,79.4 282.9,80.5 283.6,81.6 284.2,82.6 284.9,83.6 285.5,84.5 286.2,85.3 286.8,86.1 287.5,86.9 288.1,87.6 288.8,88.3 289.4,88.9 290.1,89.5 290.7,90.1 291.4,90.6 292.0,91.1 292.7,91.6 293.3,92.1 294.0,92.5 294.6,92.9 295.3,93.3 295.9,93.7 296.6,94.0 297.2,94.4 297.9,94.7" fill="none" stroke="#2a9a9a" stroke-width="1.5" stroke-linejoin="round" stroke-linecap="round" />
<polyline points="200.1,94.9 200.8,94.9 201.4,94.8 202.1,94.8 202.7,94.7 203.4,94.7 204.0,94.6 204.7,94.6 205.3,94.5 206.0,94.5 206.6,94.4 207.3,94.4 207.9,94.3 208.6,94.3 209.2,94.2 209.9,94.1 210.5,94.1 211.2,94.0 211.8,93.9 212.5,93.9 213.1,93.8 213.8,93.7 214.4,93.6 215.1,93.6 215.7,93.5 216.4,93.4 217.1,93.3 217.7,93.2 218.4,93.1 219.0,93.0 219.7,92.9 220.3,92.8 221.0,92.7 221.6,92.6 222.3,92.4 222.9,92.3 223.6,92.2 224.2,92.0 224.9,91.9 225.5,91.7 226.2,91.6 226.8,91.4 227.5,91.3 228.1,91.1 228.8,90.9 229.4,90.7 230.1,90.5 230.7,90.3 231.4,90.0 232.0,89.8 232.7,89.5 233.4,89.3 234.0,89.0 234.7,88.7 235.3,88.4 236.0,88.1 236.6,87.8 237.3,87.4 237.9,87.0 238.6,86.6 239.2,86.2 239.9,85.8 240.5,85.3 241.2,84.8 241.8,84.3 242.5,83.7 243.1,83.1 243.8,82.5 244.4,81.9 245.1,81.2 245.7,80.4 246.4,79.6 247.0,78.8 247.7,77.9 248.3,77.0 249.0,76.0 249.7,74.9 250.3,73.8 251.0,72.6 251.6,71.4 252.3,70.1 252.9,68.7 253.6,67.3 254.2,65.8 254.9,64.2 255.5,62.6 256.2,60.9 256.8,59.2 257.5,57.4 258.1,55.7 258.8,54.0 259.4,52.3 260.1,50.6 260.7,49.1 261.4,47.6 262.0,46.4 262.7,45.3 263.3,44.4 264.0,43.7 264.6,43.3 265.3,43.2 266.0,43.3 266.6,43.7 267.3,44.4 267.9,45.2 268.6,46.3 269.2,47.6 269.9,49.0 270.5,50.6 271.2,52.3 271.8,54.0 272.5,55.8 273.1,57.6 273.8,59.5 274.4,61.3 275.1,63.1 275.7,64.9 276.4,66.6 277.0,68.3 277.7,69.9 278.3,71.5 279.0,73.0 279.6,74.4 280.3,75.7 280.9,77.0 281.6,78.3 282.3,79.4 282.9,80.5 283.6,81.6 284.2,82.6 284.9,83.5 285.5,84.4 286.2,85.3 286.8,86.1 287.5,86.8 288.1,87.6 288.8,88.2 289.4,88.9 290.1,89.5 290.7,90.1 291.4,90.6 292.0,91.1 292.7,91.6 293.3,92.1 294.0,92.5 294.6,93.0 295.3,93.4 295.9,93.8 296.6,94.1 297.2,94.5 297.9,94.8" fill="none" stroke="#2348d8" stroke-width="1.5" stroke-linejoin="round" stroke-linecap="round" />
<line x1="200.50" y1="35.80" x2="200.50" y2="108.00" stroke="#6a6a6a" stroke-width="0.9" />
<line x1="200.50" y1="108.00" x2="298.20" y2="108.00" stroke="#6a6a6a" stroke-width="0.9" />
<line x1="197.50" y1="108.00" x2="200.50" y2="108.00" stroke="#6a6a6a" stroke-width="0.9" />
<text x="193.2" y="110.6" font-size="7.2" fill="#222" text-anchor="end" textLength="4.3" lengthAdjust="spacingAndGlyphs" >0</text>
<line x1="197.50" y1="72.40" x2="200.50" y2="72.40" stroke="#6a6a6a" stroke-width="0.9" />
<text x="193.2" y="75.0" font-size="7.2" fill="#222" text-anchor="end" textLength="8.6" lengthAdjust="spacingAndGlyphs" >50</text>
<line x1="197.50" y1="36.80" x2="200.50" y2="36.80" stroke="#6a6a6a" stroke-width="0.9" />
<text x="193.2" y="39.4" font-size="7.2" fill="#222" text-anchor="end" textLength="12.9" lengthAdjust="spacingAndGlyphs" >100</text>
<line x1="200.10" y1="108.00" x2="200.10" y2="111.00" stroke="#6a6a6a" stroke-width="0.9" />
<line x1="232.70" y1="108.00" x2="232.70" y2="111.00" stroke="#6a6a6a" stroke-width="0.9" />
<line x1="265.30" y1="108.00" x2="265.30" y2="111.00" stroke="#6a6a6a" stroke-width="0.9" />
<line x1="297.90" y1="108.00" x2="297.90" y2="111.00" stroke="#6a6a6a" stroke-width="0.9" />
<line x1="200.50" y1="139.10" x2="200.50" y2="207.60" stroke="#6a6a6a" stroke-width="0.9" />
<line x1="200.50" y1="207.60" x2="298.20" y2="207.60" stroke="#6a6a6a" stroke-width="0.9" />
<line x1="197.50" y1="207.60" x2="200.50" y2="207.60" stroke="#6a6a6a" stroke-width="0.9" />
<text x="193.2" y="210.2" font-size="7.2" fill="#222" text-anchor="end" textLength="4.3" lengthAdjust="spacingAndGlyphs" >0</text>
<line x1="197.50" y1="173.85" x2="200.50" y2="173.85" stroke="#6a6a6a" stroke-width="0.9" />
<text x="193.2" y="176.45" font-size="7.2" fill="#222" text-anchor="end" textLength="8.6" lengthAdjust="spacingAndGlyphs" >50</text>
<line x1="197.50" y1="140.10" x2="200.50" y2="140.10" stroke="#6a6a6a" stroke-width="0.9" />
<text x="193.2" y="142.7" font-size="7.2" fill="#222" text-anchor="end" textLength="12.9" lengthAdjust="spacingAndGlyphs" >100</text>
<line x1="200.10" y1="207.60" x2="200.10" y2="210.60" stroke="#6a6a6a" stroke-width="0.9" />
<line x1="232.70" y1="207.60" x2="232.70" y2="210.60" stroke="#6a6a6a" stroke-width="0.9" />
<line x1="265.30" y1="207.60" x2="265.30" y2="210.60" stroke="#6a6a6a" stroke-width="0.9" />
<line x1="297.90" y1="207.60" x2="297.90" y2="210.60" stroke="#6a6a6a" stroke-width="0.9" />
<polygon points="200.1,197.1 200.8,197.0 201.4,197.0 202.1,196.9 202.7,196.8 203.4,196.8 204.0,196.7 204.7,196.7 205.3,196.6 206.0,196.5 206.6,196.4 207.3,196.4 207.9,196.3 208.6,196.2 209.2,196.1 209.9,196.0 210.5,195.9 211.2,195.8 211.8,195.7 212.5,195.6 213.1,195.5 213.8,195.4 214.4,195.3 215.1,195.2 215.7,195.1 216.4,194.9 217.1,194.8 217.7,194.7 218.4,194.5 219.0,194.4 219.7,194.2 220.3,194.1 221.0,193.9 221.6,193.8 222.3,193.6 222.9,193.4 223.6,193.2 224.2,193.1 224.9,192.9 225.5,192.7 226.2,192.5 226.8,192.2 227.5,192.0 228.1,191.8 228.8,191.6 229.4,191.3 230.1,191.1 230.7,190.8 231.4,190.5 232.0,190.2 232.7,189.9 233.4,189.6 234.0,189.3 234.7,189.0 235.3,188.6 236.0,188.3 236.6,187.9 237.3,187.5 237.9,187.0 238.6,186.6 239.2,186.1 239.9,185.6 240.5,185.1 241.2,184.5 241.8,183.9 242.5,183.3 243.1,182.6 243.8,181.9 244.4,181.2 245.1,180.4 245.7,179.5 246.4,178.7 247.0,177.7 247.7,176.7 248.3,175.7 249.0,174.5 249.7,173.4 250.3,172.1 251.0,170.8 251.6,169.4 252.3,168.0 252.9,166.5 253.6,164.9 254.2,163.2 254.9,161.5 255.5,159.8 256.2,158.0 256.8,156.1 257.5,154.3 258.1,152.4 258.8,150.6 259.4,148.8 260.1,147.1 260.7,145.5 261.4,144.1 262.0,142.7 262.7,141.6 263.3,140.7 264.0,140.1 264.6,139.7 265.3,139.5 266.0,139.7 266.6,140.2 267.3,141.0 267.9,142.1 268.6,143.4 269.2,145.0 269.9,146.7 270.5,148.6 271.2,150.6 271.8,152.6 272.5,154.8 273.1,156.9 273.8,159.0 274.4,161.1 275.1,163.1 275.7,165.1 276.4,167.0 277.0,168.9 277.7,170.6 278.3,172.3 279.0,173.9 279.6,175.4 280.3,176.8 280.9,178.2 281.6,179.5 282.3,180.7 282.9,181.8 283.6,182.9 284.2,183.9 284.9,184.9 285.5,185.8 286.2,186.6 286.8,187.4 287.5,188.2 288.1,188.9 288.8,189.6 289.4,190.2 290.1,190.8 290.7,191.4 291.4,191.9 292.0,192.4 292.7,192.9 293.3,193.4 294.0,193.8 294.6,194.2 295.3,194.6 295.9,195.0 296.6,195.3 297.2,195.7 297.9,196.0 297.9,199.8 297.2,199.5 296.6,199.1 295.9,198.8 295.3,198.4 294.6,198.0 294.0,197.6 293.3,197.2 292.7,196.7 292.0,196.2 291.4,195.7 290.7,195.2 290.1,194.6 289.4,194.0 288.8,193.4 288.1,192.7 287.5,192.0 286.8,191.2 286.2,190.4 285.5,189.6 284.9,188.7 284.2,187.7 283.6,186.7 282.9,185.6 282.3,184.5 281.6,183.3 280.9,182.0 280.3,180.6 279.6,179.2 279.0,177.7 278.3,176.1 277.7,174.4 277.0,172.7 276.4,170.8 275.7,168.9 275.1,166.9 274.4,164.9 273.8,162.8 273.1,160.7 272.5,158.6 271.8,156.4 271.2,154.4 270.5,152.4 269.9,150.5 269.2,148.8 268.6,147.2 267.9,145.9 267.3,144.8 266.6,144.0 266.0,143.5 265.3,143.3 264.6,143.5 264.0,143.9 263.3,144.5 262.7,145.4 262.0,146.5 261.4,147.9 260.7,149.3 260.1,150.9 259.4,152.6 258.8,154.4 258.1,156.2 257.5,158.1 256.8,159.9 256.2,161.8 255.5,163.6 254.9,165.3 254.2,167.0 253.6,168.7 252.9,170.3 252.3,171.8 251.6,173.2 251.0,174.6 250.3,175.9 249.7,177.2 249.0,178.3 248.3,179.5 247.7,180.5 247.0,181.5 246.4,182.5 245.7,183.3 245.1,184.2 244.4,185.0 243.8,185.7 243.1,186.4 242.5,187.1 241.8,187.7 241.2,188.3 240.5,188.9 239.9,189.4 239.2,189.9 238.6,190.4 237.9,190.8 237.3,191.3 236.6,191.7 236.0,192.1 235.3,192.4 234.7,192.8 234.0,193.1 233.4,193.4 232.7,193.7 232.0,194.0 231.4,194.3 230.7,194.6 230.1,194.9 229.4,195.1 228.8,195.4 228.1,195.6 227.5,195.8 226.8,196.0 226.2,196.3 225.5,196.5 224.9,196.7 224.2,196.9 223.6,197.0 222.9,197.2 222.3,197.4 221.6,197.6 221.0,197.7 220.3,197.9 219.7,198.0 219.0,198.2 218.4,198.3 217.7,198.5 217.1,198.6 216.4,198.7 215.7,198.9 215.1,199.0 214.4,199.1 213.8,199.2 213.1,199.3 212.5,199.4 211.8,199.5 211.2,199.6 210.5,199.7 209.9,199.8 209.2,199.9 208.6,200.0 207.9,200.1 207.3,200.2 206.6,200.2 206.0,200.3 205.3,200.4 204.7,200.5 204.0,200.5 203.4,200.6 202.7,200.6 202.1,200.7 201.4,200.8 200.8,200.8 200.1,200.9" fill="#2a9db5" opacity="0.4"/>
<polygon points="200.1,196.8 200.8,196.8 201.4,196.7 202.1,196.6 202.7,196.6 203.4,196.5 204.0,196.4 204.7,196.4 205.3,196.3 206.0,196.2 206.6,196.1 207.3,196.0 207.9,196.0 208.6,195.9 209.2,195.8 209.9,195.7 210.5,195.6 211.2,195.5 211.8,195.4 212.5,195.3 213.1,195.1 213.8,195.0 214.4,194.9 215.1,194.8 215.7,194.6 216.4,194.5 217.1,194.3 217.7,194.2 218.4,194.0 219.0,193.9 219.7,193.7 220.3,193.5 221.0,193.4 221.6,193.2 222.3,193.0 222.9,192.8 223.6,192.6 224.2,192.4 224.9,192.2 225.5,192.0 226.2,191.7 226.8,191.5 227.5,191.3 228.1,191.0 228.8,190.7 229.4,190.5 230.1,190.2 230.7,189.9 231.4,189.6 232.0,189.3 232.7,189.0 233.4,188.6 234.0,188.2 234.7,187.9 235.3,187.5 236.0,187.1 236.6,186.6 237.3,186.2 237.9,185.7 238.6,185.2 239.2,184.7 239.9,184.1 240.5,183.5 241.2,182.9 241.8,182.3 242.5,181.6 243.1,180.9 243.8,180.1 244.4,179.3 245.1,178.4 245.7,177.5 246.4,176.6 247.0,175.6 247.7,174.6 248.3,173.4 249.0,172.3 249.7,171.1 250.3,169.8 251.0,168.5 251.6,167.1 252.3,165.6 252.9,164.1 253.6,162.6 254.2,161.0 254.9,159.4 255.5,157.8 256.2,156.1 256.8,154.5 257.5,152.9 258.1,151.4 258.8,149.9 259.4,148.5 260.1,147.2 260.7,146.0 261.4,145.0 262.0,144.2 262.7,143.5 263.3,143.1 264.0,142.9 264.6,143.0 265.3,143.3 266.0,143.9 266.6,144.9 267.3,146.0 267.9,147.4 268.6,149.0 269.2,150.7 269.9,152.5 270.5,154.4 271.2,156.4 271.8,158.4 272.5,160.4 273.1,162.3 273.8,164.3 274.4,166.2 275.1,168.0 275.7,169.7 276.4,171.4 277.0,173.0 277.7,174.5 278.3,176.0 279.0,177.4 279.6,178.7 280.3,179.9 280.9,181.1 281.6,182.2 282.3,183.2 282.9,184.2 283.6,185.1 284.2,186.0 284.9,186.8 285.5,187.6 286.2,188.3 286.8,189.0 287.5,189.6 288.1,190.2 288.8,190.8 289.4,191.3 290.1,191.9 290.7,192.4 291.4,192.8 292.0,193.3 292.7,193.7 293.3,194.1 294.0,194.4 294.6,194.8 295.3,195.1 295.9,195.5 296.6,195.8 297.2,196.1 297.9,196.3 297.9,200.1 297.2,199.9 296.6,199.6 295.9,199.3 295.3,198.9 294.6,198.6 294.0,198.2 293.3,197.9 292.7,197.5 292.0,197.1 291.4,196.6 290.7,196.2 290.1,195.7 289.4,195.1 288.8,194.6 288.1,194.0 287.5,193.4 286.8,192.8 286.2,192.1 285.5,191.4 284.9,190.6 284.2,189.8 283.6,188.9 282.9,188.0 282.3,187.0 281.6,186.0 280.9,184.9 280.3,183.7 279.6,182.5 279.0,181.2 278.3,179.8 277.7,178.3 277.0,176.8 276.4,175.2 275.7,173.5 275.1,171.8 274.4,170.0 273.8,168.1 273.1,166.1 272.5,164.2 271.8,162.2 271.2,160.2 270.5,158.2 269.9,156.3 269.2,154.5 268.6,152.8 267.9,151.2 267.3,149.8 266.6,148.7 266.0,147.7 265.3,147.1 264.6,146.8 264.0,146.7 263.3,146.9 262.7,147.3 262.0,148.0 261.4,148.8 260.7,149.8 260.1,151.0 259.4,152.3 258.8,153.7 258.1,155.2 257.5,156.7 256.8,158.3 256.2,159.9 255.5,161.6 254.9,163.2 254.2,164.8 253.6,166.4 252.9,167.9 252.3,169.4 251.6,170.9 251.0,172.3 250.3,173.6 249.7,174.9 249.0,176.1 248.3,177.2 247.7,178.4 247.0,179.4 246.4,180.4 245.7,181.3 245.1,182.2 244.4,183.1 243.8,183.9 243.1,184.7 242.5,185.4 241.8,186.1 241.2,186.7 240.5,187.3 239.9,187.9 239.2,188.5 238.6,189.0 237.9,189.5 237.3,190.0 236.6,190.4 236.0,190.9 235.3,191.3 234.7,191.7 234.0,192.0 233.4,192.4 232.7,192.8 232.0,193.1 231.4,193.4 230.7,193.7 230.1,194.0 229.4,194.3 228.8,194.5 228.1,194.8 227.5,195.1 226.8,195.3 226.2,195.5 225.5,195.8 224.9,196.0 224.2,196.2 223.6,196.4 222.9,196.6 222.3,196.8 221.6,197.0 221.0,197.2 220.3,197.3 219.7,197.5 219.0,197.7 218.4,197.8 217.7,198.0 217.1,198.1 216.4,198.3 215.7,198.4 215.1,198.6 214.4,198.7 213.8,198.8 213.1,198.9 212.5,199.1 211.8,199.2 211.2,199.3 210.5,199.4 209.9,199.5 209.2,199.6 208.6,199.7 207.9,199.8 207.3,199.8 206.6,199.9 206.0,200.0 205.3,200.1 204.7,200.2 204.0,200.2 203.4,200.3 202.7,200.4 202.1,200.4 201.4,200.5 200.8,200.6 200.1,200.6" fill="#f59a3c" opacity="0.4"/>
<polyline points="200.1,199.0 200.8,198.9 201.4,198.9 202.1,198.8 202.7,198.7 203.4,198.7 204.0,198.6 204.7,198.6 205.3,198.5 206.0,198.4 206.6,198.3 207.3,198.3 207.9,198.2 208.6,198.1 209.2,198.0 209.9,197.9 210.5,197.8 211.2,197.7 211.8,197.6 212.5,197.5 213.1,197.4 213.8,197.3 214.4,197.2 215.1,197.1 215.7,197.0 216.4,196.8 217.1,196.7 217.7,196.6 218.4,196.4 219.0,196.3 219.7,196.1 220.3,196.0 221.0,195.8 221.6,195.7 222.3,195.5 222.9,195.3 223.6,195.1 224.2,195.0 224.9,194.8 225.5,194.6 226.2,194.4 226.8,194.1 227.5,193.9 228.1,193.7 228.8,193.5 229.4,193.2 230.1,193.0 230.7,192.7 231.4,192.4 232.0,192.1 232.7,191.8 233.4,191.5 234.0,191.2 234.7,190.9 235.3,190.5 236.0,190.2 236.6,189.8 237.3,189.4 237.9,188.9 238.6,188.5 239.2,188.0 239.9,187.5 240.5,187.0 241.2,186.4 241.8,185.8 242.5,185.2 243.1,184.5 243.8,183.8 244.4,183.1 245.1,182.3 245.7,181.4 246.4,180.6 247.0,179.6 247.7,178.6 248.3,177.6 249.0,176.4 249.7,175.3 250.3,174.0 251.0,172.7 251.6,171.3 252.3,169.9 252.9,168.4 253.6,166.8 254.2,165.1 254.9,163.4 255.5,161.7 256.2,159.9 256.8,158.0 257.5,156.2 258.1,154.3 258.8,152.5 259.4,150.7 260.1,149.0 260.7,147.4 261.4,146.0 262.0,144.6 262.7,143.5 263.3,142.6 264.0,142.0 264.6,141.6 265.3,141.4 266.0,141.6 266.6,142.1 267.3,142.9 267.9,144.0 268.6,145.3 269.2,146.9 269.9,148.6 270.5,150.5 271.2,152.5 271.8,154.5 272.5,156.7 273.1,158.8 273.8,160.9 274.4,163.0 275.1,165.0 275.7,167.0 276.4,168.9 277.0,170.8 277.7,172.5 278.3,174.2 279.0,175.8 279.6,177.3 280.3,178.7 280.9,180.1 281.6,181.4 282.3,182.6 282.9,183.7 283.6,184.8 284.2,185.8 284.9,186.8 285.5,187.7 286.2,188.5 286.8,189.3 287.5,190.1 288.1,190.8 288.8,191.5 289.4,192.1 290.1,192.7 290.7,193.3 291.4,193.8 292.0,194.3 292.7,194.8 293.3,195.3 294.0,195.7 294.6,196.1 295.3,196.5 295.9,196.9 296.6,197.2 297.2,197.6 297.9,197.9" fill="none" stroke="#2a8a90" stroke-width="1.5" stroke-linejoin="round" stroke-linecap="round" />
<polyline points="200.1,198.7 200.8,198.7 201.4,198.6 202.1,198.5 202.7,198.5 203.4,198.4 204.0,198.3 204.7,198.3 205.3,198.2 206.0,198.1 206.6,198.0 207.3,197.9 207.9,197.9 208.6,197.8 209.2,197.7 209.9,197.6 210.5,197.5 211.2,197.4 211.8,197.3 212.5,197.2 213.1,197.0 213.8,196.9 214.4,196.8 215.1,196.7 215.7,196.5 216.4,196.4 217.1,196.2 217.7,196.1 218.4,195.9 219.0,195.8 219.7,195.6 220.3,195.4 221.0,195.3 221.6,195.1 222.3,194.9 222.9,194.7 223.6,194.5 224.2,194.3 224.9,194.1 225.5,193.9 226.2,193.6 226.8,193.4 227.5,193.2 228.1,192.9 228.8,192.6 229.4,192.4 230.1,192.1 230.7,191.8 231.4,191.5 232.0,191.2 232.7,190.9 233.4,190.5 234.0,190.1 234.7,189.8 235.3,189.4 236.0,189.0 236.6,188.5 237.3,188.1 237.9,187.6 238.6,187.1 239.2,186.6 239.9,186.0 240.5,185.4 241.2,184.8 241.8,184.2 242.5,183.5 243.1,182.8 243.8,182.0 244.4,181.2 245.1,180.3 245.7,179.4 246.4,178.5 247.0,177.5 247.7,176.5 248.3,175.3 249.0,174.2 249.7,173.0 250.3,171.7 251.0,170.4 251.6,169.0 252.3,167.5 252.9,166.0 253.6,164.5 254.2,162.9 254.9,161.3 255.5,159.7 256.2,158.0 256.8,156.4 257.5,154.8 258.1,153.3 258.8,151.8 259.4,150.4 260.1,149.1 260.7,147.9 261.4,146.9 262.0,146.1 262.7,145.4 263.3,145.0 264.0,144.8 264.6,144.9 265.3,145.2 266.0,145.8 266.6,146.8 267.3,147.9 267.9,149.3 268.6,150.9 269.2,152.6 269.9,154.4 270.5,156.3 271.2,158.3 271.8,160.3 272.5,162.3 273.1,164.2 273.8,166.2 274.4,168.1 275.1,169.9 275.7,171.6 276.4,173.3 277.0,174.9 277.7,176.4 278.3,177.9 279.0,179.3 279.6,180.6 280.3,181.8 280.9,183.0 281.6,184.1 282.3,185.1 282.9,186.1 283.6,187.0 284.2,187.9 284.9,188.7 285.5,189.5 286.2,190.2 286.8,190.9 287.5,191.5 288.1,192.1 288.8,192.7 289.4,193.2 290.1,193.8 290.7,194.3 291.4,194.7 292.0,195.2 292.7,195.6 293.3,196.0 294.0,196.3 294.6,196.7 295.3,197.0 295.9,197.4 296.6,197.7 297.2,198.0 297.9,198.2" fill="none" stroke="#f08c2e" stroke-width="1.5" stroke-linejoin="round" stroke-linecap="round" />
<text x="200.10000000000002" y="220.8" font-size="7.2" fill="#222" text-anchor="middle" textLength="17.4" lengthAdjust="spacingAndGlyphs" >−500</text>
<text x="232.70000000000002" y="220.8" font-size="7.2" fill="#222" text-anchor="middle" textLength="17.4" lengthAdjust="spacingAndGlyphs" >−250</text>
<text x="265.3" y="220.8" font-size="7.2" fill="#222" text-anchor="middle" textLength="4.3" lengthAdjust="spacingAndGlyphs" >0</text>
<text x="297.90000000000003" y="220.8" font-size="7.2" fill="#222" text-anchor="middle" textLength="12.9" lengthAdjust="spacingAndGlyphs" >250</text>
<text x="250.1" y="233.2" font-size="8.5" fill="#222" text-anchor="middle" textLength="84.8" lengthAdjust="spacingAndGlyphs" >Distance to Munc13-1</text>
<text x="249.6" y="241.8" font-size="8.5" fill="#222" text-anchor="middle" textLength="39.6" lengthAdjust="spacingAndGlyphs" >peak (nm)</text>
<text x="175.4" y="121.2" font-size="8.5" fill="#222" text-anchor="middle" transform="rotate(-90 175.4 121.2)" textLength="82.3" lengthAdjust="spacingAndGlyphs" >Normalized intensity</text>
<line x1="203.00" y1="16.00" x2="209.50" y2="16.00" stroke="#2a9db5" stroke-width="1.3" />
<text x="214.3" y="18.9" font-size="8.3" fill="#222" text-anchor="start" textLength="36.4" lengthAdjust="spacingAndGlyphs" >Munc13-1</text>
<line x1="203.00" y1="27.80" x2="209.50" y2="27.80" stroke="#2348d8" stroke-width="1.3" />
<text x="214.3" y="30.7" font-size="8.3" fill="#222" text-anchor="start" textLength="36.4" lengthAdjust="spacingAndGlyphs" >Munc13-1</text>
<line x1="203.00" y1="130.00" x2="209.50" y2="130.00" stroke="#2a8fa5" stroke-width="1.3" />
<text x="214.3" y="132.8" font-size="8.3" fill="#222" text-anchor="start" textLength="36.4" lengthAdjust="spacingAndGlyphs" >Munc13-1</text>
<line x1="203.00" y1="141.20" x2="209.50" y2="141.20" stroke="#f08c2e" stroke-width="1.3" />
<text x="214.3" y="144.1" font-size="8.3" fill="#222" text-anchor="start" textLength="25.0" lengthAdjust="spacingAndGlyphs" >Ca<tspan font-size="70%" dy="1.5">V</tspan><tspan dy="-1.5">2.1</tspan></text>
<line x1="353.20" y1="12.40" x2="353.20" y2="172.90" stroke="#6a6a6a" stroke-width="0.9" />
<line x1="349.60" y1="172.90" x2="353.20" y2="172.90" stroke="#6a6a6a" stroke-width="0.9" />
<text x="347" y="175.4" font-size="7" fill="#222" text-anchor="end" textLength="4.4" lengthAdjust="spacingAndGlyphs" >0</text>
<line x1="349.60" y1="133.40" x2="353.20" y2="133.40" stroke="#6a6a6a" stroke-width="0.9" />
<text x="347" y="135.9" font-size="7" fill="#222" text-anchor="end" textLength="8.7" lengthAdjust="spacingAndGlyphs" >25</text>
<line x1="349.60" y1="93.90" x2="353.20" y2="93.90" stroke="#6a6a6a" stroke-width="0.9" />
<text x="347" y="96.4" font-size="7" fill="#222" text-anchor="end" textLength="8.7" lengthAdjust="spacingAndGlyphs" >50</text>
<line x1="349.60" y1="54.40" x2="353.20" y2="54.40" stroke="#6a6a6a" stroke-width="0.9" />
<text x="347" y="56.900000000000006" font-size="7" fill="#222" text-anchor="end" textLength="8.7" lengthAdjust="spacingAndGlyphs" >75</text>
<g fill="#aab1dc" fill-opacity="0.42" stroke="#989fcf" stroke-opacity="0.55" stroke-width="0.7">
<circle cx="366.7" cy="138.1" r="2.7"/>
<circle cx="370.7" cy="136.6" r="2.7"/>
<circle cx="366.7" cy="123.9" r="2.7"/>
<circle cx="366.7" cy="109.7" r="2.7"/>
<circle cx="366.7" cy="103.4" r="2.7"/>
<circle cx="370.7" cy="100.2" r="2.7"/>
<circle cx="366.7" cy="93.2" r="2.7"/>
<circle cx="360.7" cy="92.1" r="2.7"/>
<circle cx="370.7" cy="90.3" r="2.7"/>
<circle cx="366.0" cy="90.2" r="2.7"/>
<circle cx="358.7" cy="88.4" r="2.7"/>
<circle cx="364.7" cy="86.2" r="2.7"/>
<circle cx="370.7" cy="85.3" r="2.7"/>
<circle cx="366.7" cy="82.1" r="2.7"/>
<circle cx="360.7" cy="81.6" r="2.7"/>
<circle cx="370.7" cy="80.6" r="2.7"/>
<circle cx="373.3" cy="80.4" r="2.7"/>
<circle cx="358.4" cy="80.0" r="2.7"/>
<circle cx="369.7" cy="79.1" r="2.7"/>
<circle cx="364.7" cy="76.8" r="2.7"/>
<circle cx="373.0" cy="76.8" r="2.7"/>
<circle cx="366.7" cy="72.9" r="2.7"/>
<circle cx="360.7" cy="72.7" r="2.7"/>
<circle cx="372.7" cy="71.7" r="2.7"/>
<circle cx="366.7" cy="71.4" r="2.7"/>
<circle cx="365.2" cy="71.3" r="2.7"/>
<circle cx="365.8" cy="69.7" r="2.7"/>
<circle cx="360.6" cy="69.1" r="2.7"/>
<circle cx="364.8" cy="68.6" r="2.7"/>
<circle cx="370.7" cy="67.2" r="2.7"/>
<circle cx="364.0" cy="67.0" r="2.7"/>
<circle cx="372.3" cy="66.8" r="2.7"/>
<circle cx="360.7" cy="64.1" r="2.7"/>
<circle cx="366.7" cy="62.9" r="2.7"/>
<circle cx="374.7" cy="62.7" r="2.7"/>
<circle cx="362.7" cy="60.3" r="2.7"/>
<circle cx="370.7" cy="59.5" r="2.7"/>
<circle cx="366.7" cy="58.3" r="2.7"/>
<circle cx="358.7" cy="58.3" r="2.7"/>
<circle cx="374.7" cy="57.8" r="2.7"/>
<circle cx="368.9" cy="57.5" r="2.7"/>
<circle cx="362.7" cy="55.7" r="2.7"/>
<circle cx="366.7" cy="53.3" r="2.7"/>
<circle cx="372.7" cy="53.0" r="2.7"/>
<circle cx="358.7" cy="52.2" r="2.7"/>
<circle cx="361.3" cy="51.7" r="2.7"/>
<circle cx="370.7" cy="50.8" r="2.7"/>
<circle cx="366.7" cy="48.3" r="2.7"/>
<circle cx="370.7" cy="46.3" r="2.7"/>
<circle cx="362.7" cy="46.3" r="2.7"/>
<circle cx="374.7" cy="44.7" r="2.7"/>
<circle cx="358.7" cy="44.5" r="2.7"/>
<circle cx="366.7" cy="43.9" r="2.7"/>
<circle cx="375.0" cy="43.9" r="2.7"/>
<circle cx="362.7" cy="41.5" r="2.7"/>
<circle cx="370.7" cy="40.7" r="2.7"/>
<circle cx="366.7" cy="39.0" r="2.7"/>
<circle cx="362.7" cy="37.3" r="2.7"/>
<circle cx="366.7" cy="30.7" r="2.7"/>
<circle cx="362.7" cy="27.5" r="2.7"/>
<circle cx="366.7" cy="21.2" r="2.7"/>
</g>
<g fill="#f9c79a" fill-opacity="0.42" stroke="#f5b27c" stroke-opacity="0.55" stroke-width="0.7">
<circle cx="390.7" cy="133.4" r="2.7"/>
<circle cx="390.7" cy="120.8" r="2.7"/>
<circle cx="390.7" cy="109.7" r="2.7"/>
<circle cx="390.7" cy="104.1" r="2.7"/>
<circle cx="384.7" cy="103.2" r="2.7"/>
<circle cx="396.7" cy="103.0" r="2.7"/>
<circle cx="385.1" cy="103.0" r="2.7"/>
<circle cx="385.9" cy="101.5" r="2.7"/>
<circle cx="394.9" cy="100.5" r="2.7"/>
<circle cx="390.7" cy="99.5" r="2.7"/>
<circle cx="390.7" cy="94.6" r="2.7"/>
<circle cx="396.7" cy="94.2" r="2.7"/>
<circle cx="384.7" cy="93.7" r="2.7"/>
<circle cx="388.7" cy="90.9" r="2.7"/>
<circle cx="394.7" cy="89.9" r="2.7"/>
<circle cx="390.7" cy="84.0" r="2.7"/>
<circle cx="396.7" cy="83.3" r="2.7"/>
<circle cx="386.7" cy="82.1" r="2.7"/>
<circle cx="385.8" cy="81.7" r="2.7"/>
<circle cx="397.6" cy="80.6" r="2.7"/>
<circle cx="393.1" cy="80.4" r="2.7"/>
<circle cx="382.7" cy="78.7" r="2.7"/>
<circle cx="390.7" cy="76.7" r="2.7"/>
<circle cx="386.7" cy="74.3" r="2.7"/>
<circle cx="394.7" cy="74.1" r="2.7"/>
<circle cx="390.7" cy="70.2" r="2.7"/>
<circle cx="386.7" cy="68.7" r="2.7"/>
<circle cx="394.7" cy="67.8" r="2.7"/>
<circle cx="382.7" cy="66.6" r="2.7"/>
<circle cx="390.7" cy="65.5" r="2.7"/>
<circle cx="392.7" cy="61.6" r="2.7"/>
<circle cx="386.7" cy="61.2" r="2.7"/>
<circle cx="396.7" cy="59.5" r="2.7"/>
<circle cx="382.7" cy="59.2" r="2.7"/>
<circle cx="393.4" cy="58.3" r="2.7"/>
<circle cx="388.1" cy="58.0" r="2.7"/>
<circle cx="398.7" cy="55.7" r="2.7"/>
<circle cx="390.7" cy="53.8" r="2.7"/>
<circle cx="384.7" cy="53.5" r="2.7"/>
<circle cx="392.7" cy="50.1" r="2.7"/>
<circle cx="386.7" cy="49.8" r="2.7"/>
<circle cx="396.7" cy="48.3" r="2.7"/>
<circle cx="390.7" cy="45.8" r="2.7"/>
<circle cx="394.7" cy="43.3" r="2.7"/>
<circle cx="390.7" cy="40.8" r="2.7"/>
<circle cx="386.7" cy="39.1" r="2.7"/>
<circle cx="394.7" cy="38.9" r="2.7"/>
<circle cx="385.0" cy="38.5" r="2.7"/>
<circle cx="389.1" cy="38.0" r="2.7"/>
<circle cx="398.7" cy="37.6" r="2.7"/>
<circle cx="386.7" cy="36.9" r="2.7"/>
<circle cx="386.6" cy="35.7" r="2.7"/>
<circle cx="392.7" cy="35.1" r="2.7"/>
<circle cx="390.7" cy="30.8" r="2.7"/>
<circle cx="384.7" cy="30.3" r="2.7"/>
<circle cx="394.7" cy="29.1" r="2.7"/>
<circle cx="394.9" cy="28.3" r="2.7"/>
<circle cx="393.5" cy="28.3" r="2.7"/>
<circle cx="393.3" cy="27.7" r="2.7"/>
<circle cx="390.7" cy="21.2" r="2.7"/>
<circle cx="386.7" cy="19.6" r="2.7"/>
<circle cx="394.7" cy="19.6" r="2.7"/>
</g>
<line x1="355.80" y1="64.20" x2="377.60" y2="64.20" stroke="#000" stroke-width="1.1" />
<line x1="366.70" y1="61.00" x2="366.70" y2="67.40" stroke="#111" stroke-width="0.6" />
<line x1="363.70" y1="61.00" x2="369.70" y2="61.00" stroke="#111" stroke-width="0.6" />
<line x1="363.70" y1="67.40" x2="369.70" y2="67.40" stroke="#111" stroke-width="0.6" />
<line x1="379.60" y1="68.20" x2="401.70" y2="68.20" stroke="#000" stroke-width="1.1" />
<line x1="390.65" y1="65.00" x2="390.65" y2="71.40" stroke="#111" stroke-width="0.6" />
<line x1="387.65" y1="65.00" x2="393.65" y2="65.00" stroke="#111" stroke-width="0.6" />
<line x1="387.65" y1="71.40" x2="393.65" y2="71.40" stroke="#111" stroke-width="0.6" />
<text x="376" y="178" font-size="8" fill="#222" text-anchor="end" transform="rotate(-45 376 178)" textLength="38.8" lengthAdjust="spacingAndGlyphs" >Munc13-1</text>
<text x="400" y="178" font-size="8" fill="#222" text-anchor="end" transform="rotate(-45 400 178)" textLength="27.9" lengthAdjust="spacingAndGlyphs" >Ca<tspan font-size="70%" dy="1.5">V</tspan><tspan dy="-1.5">2.1</tspan></text>
<text x="322.3" y="93.8" font-size="8.5" fill="#222" text-anchor="middle" transform="rotate(-90 322.3 93.8)" textLength="102.3" lengthAdjust="spacingAndGlyphs" >Colocalization coefficient</text>
<text x="332" y="93.5" font-size="8.5" fill="#222" text-anchor="middle" transform="rotate(-90 332 93.5)" textLength="56.6" lengthAdjust="spacingAndGlyphs" >with Munc13-1</text>
<line x1="627.30" y1="14.00" x2="627.30" y2="173.70" stroke="#6a6a6a" stroke-width="0.9" />
<line x1="623.70" y1="173.70" x2="627.30" y2="173.70" stroke="#6a6a6a" stroke-width="0.9" />
<text x="619.8" y="176.2" font-size="7" fill="#222" text-anchor="end" textLength="4.4" lengthAdjust="spacingAndGlyphs" >0</text>
<line x1="623.70" y1="128.70" x2="627.30" y2="128.70" stroke="#6a6a6a" stroke-width="0.9" />
<text x="619.8" y="131.2" font-size="7" fill="#222" text-anchor="end" textLength="8.7" lengthAdjust="spacingAndGlyphs" >25</text>
<line x1="623.70" y1="83.70" x2="627.30" y2="83.70" stroke="#6a6a6a" stroke-width="0.9" />
<text x="619.8" y="86.19999999999999" font-size="7" fill="#222" text-anchor="end" textLength="8.7" lengthAdjust="spacingAndGlyphs" >50</text>
<line x1="623.70" y1="38.70" x2="627.30" y2="38.70" stroke="#6a6a6a" stroke-width="0.9" />
<text x="619.8" y="41.19999999999999" font-size="7" fill="#222" text-anchor="end" textLength="8.7" lengthAdjust="spacingAndGlyphs" >75</text>
<g fill="#aab1dc" fill-opacity="0.42" stroke="#989fcf" stroke-opacity="0.55" stroke-width="0.7">
<circle cx="641.8" cy="99.9" r="2.7"/>
<circle cx="645.8" cy="96.3" r="2.7"/>
<circle cx="641.8" cy="94.5" r="2.7"/>
<circle cx="643.8" cy="90.8" r="2.7"/>
<circle cx="637.8" cy="90.7" r="2.7"/>
<circle cx="649.8" cy="90.2" r="2.7"/>
<circle cx="633.8" cy="89.3" r="2.7"/>
<circle cx="640.3" cy="87.3" r="2.7"/>
<circle cx="643.8" cy="84.6" r="2.7"/>
<circle cx="637.8" cy="83.8" r="2.7"/>
<circle cx="647.8" cy="83.2" r="2.7"/>
<circle cx="640.5" cy="82.8" r="2.7"/>
<circle cx="633.8" cy="82.0" r="2.7"/>
<circle cx="648.5" cy="81.6" r="2.7"/>
<circle cx="643.8" cy="79.5" r="2.7"/>
<circle cx="637.8" cy="79.2" r="2.7"/>
<circle cx="639.2" cy="78.9" r="2.7"/>
<circle cx="634.7" cy="78.8" r="2.7"/>
<circle cx="647.8" cy="77.1" r="2.7"/>
<circle cx="641.8" cy="75.3" r="2.7"/>
<circle cx="635.8" cy="74.8" r="2.7"/>
<circle cx="646.7" cy="74.2" r="2.7"/>
<circle cx="637.5" cy="74.1" r="2.7"/>
<circle cx="641.6" cy="73.6" r="2.7"/>
<circle cx="645.3" cy="72.0" r="2.7"/>
<circle cx="633.8" cy="70.7" r="2.7"/>
<circle cx="641.8" cy="66.2" r="2.7"/>
<circle cx="635.8" cy="65.1" r="2.7"/>
<circle cx="645.8" cy="64.9" r="2.7"/>
<circle cx="636.8" cy="64.7" r="2.7"/>
<circle cx="633.7" cy="64.1" r="2.7"/>
<circle cx="649.8" cy="63.0" r="2.7"/>
<circle cx="645.0" cy="62.4" r="2.7"/>
<circle cx="639.8" cy="60.8" r="2.7"/>
<circle cx="649.0" cy="60.6" r="2.7"/>
<circle cx="643.0" cy="60.2" r="2.7"/>
<circle cx="635.8" cy="58.9" r="2.7"/>
<circle cx="644.4" cy="57.2" r="2.7"/>
<circle cx="639.8" cy="56.4" r="2.7"/>
<circle cx="649.8" cy="56.1" r="2.7"/>
<circle cx="635.8" cy="54.7" r="2.7"/>
<circle cx="643.8" cy="53.1" r="2.7"/>
<circle cx="641.9" cy="53.1" r="2.7"/>
<circle cx="650.5" cy="52.7" r="2.7"/>
<circle cx="636.5" cy="52.4" r="2.7"/>
<circle cx="638.2" cy="49.6" r="2.7"/>
<circle cx="635.4" cy="49.5" r="2.7"/>
<circle cx="643.8" cy="48.2" r="2.7"/>
<circle cx="647.8" cy="46.5" r="2.7"/>
<circle cx="650.0" cy="46.4" r="2.7"/>
<circle cx="639.8" cy="45.2" r="2.7"/>
<circle cx="643.8" cy="42.3" r="2.7"/>
<circle cx="635.8" cy="42.2" r="2.7"/>
<circle cx="647.8" cy="41.0" r="2.7"/>
<circle cx="639.8" cy="40.6" r="2.7"/>
<circle cx="648.1" cy="39.8" r="2.7"/>
<circle cx="633.5" cy="39.4" r="2.7"/>
<circle cx="637.8" cy="38.4" r="2.7"/>
<circle cx="638.0" cy="38.3" r="2.7"/>
<circle cx="648.1" cy="38.3" r="2.7"/>
<circle cx="643.8" cy="37.2" r="2.7"/>
<circle cx="639.0" cy="37.0" r="2.7"/>
<circle cx="644.7" cy="36.1" r="2.7"/>
<circle cx="641.8" cy="24.3" r="2.7"/>
</g>
<g fill="#f9c79a" fill-opacity="0.42" stroke="#f5b27c" stroke-opacity="0.55" stroke-width="0.7">
<circle cx="668.6" cy="153.9" r="2.7"/>
<circle cx="668.6" cy="137.7" r="2.7"/>
<circle cx="664.6" cy="135.9" r="2.7"/>
<circle cx="672.6" cy="134.1" r="2.7"/>
<circle cx="668.6" cy="129.8" r="2.7"/>
<circle cx="662.6" cy="129.2" r="2.7"/>
<circle cx="672.6" cy="128.1" r="2.7"/>
<circle cx="670.8" cy="127.9" r="2.7"/>
<circle cx="668.8" cy="127.1" r="2.7"/>
<circle cx="667.6" cy="127.0" r="2.7"/>
<circle cx="676.6" cy="126.5" r="2.7"/>
<circle cx="662.6" cy="124.9" r="2.7"/>
<circle cx="672.6" cy="123.9" r="2.7"/>
<circle cx="666.6" cy="122.8" r="2.7"/>
<circle cx="661.9" cy="122.7" r="2.7"/>
<circle cx="676.6" cy="121.1" r="2.7"/>
<circle cx="670.6" cy="119.8" r="2.7"/>
<circle cx="664.6" cy="118.9" r="2.7"/>
<circle cx="670.2" cy="117.7" r="2.7"/>
<circle cx="660.6" cy="117.5" r="2.7"/>
<circle cx="674.6" cy="116.4" r="2.7"/>
<circle cx="668.6" cy="113.4" r="2.7"/>
<circle cx="668.6" cy="108.0" r="2.7"/>
<circle cx="662.6" cy="107.7" r="2.7"/>
<circle cx="672.6" cy="106.0" r="2.7"/>
<circle cx="669.8" cy="106.0" r="2.7"/>
<circle cx="664.3" cy="105.7" r="2.7"/>
<circle cx="661.8" cy="105.0" r="2.7"/>
<circle cx="676.6" cy="104.1" r="2.7"/>
<circle cx="668.6" cy="101.3" r="2.7"/>
<circle cx="662.6" cy="100.1" r="2.7"/>
<circle cx="672.6" cy="99.2" r="2.7"/>
<circle cx="676.6" cy="97.7" r="2.7"/>
<circle cx="668.6" cy="95.0" r="2.7"/>
<circle cx="662.6" cy="94.2" r="2.7"/>
<circle cx="672.6" cy="92.7" r="2.7"/>
<circle cx="672.1" cy="92.1" r="2.7"/>
<circle cx="666.6" cy="91.2" r="2.7"/>
<circle cx="676.6" cy="91.0" r="2.7"/>
<circle cx="662.6" cy="88.8" r="2.7"/>
<circle cx="670.6" cy="87.7" r="2.7"/>
<circle cx="676.6" cy="86.5" r="2.7"/>
<circle cx="666.6" cy="85.1" r="2.7"/>
<circle cx="668.6" cy="80.9" r="2.7"/>
<circle cx="664.6" cy="79.5" r="2.7"/>
<circle cx="672.6" cy="78.6" r="2.7"/>
<circle cx="660.6" cy="77.8" r="2.7"/>
<circle cx="668.6" cy="76.6" r="2.7"/>
<circle cx="676.6" cy="76.5" r="2.7"/>
<circle cx="669.0" cy="76.1" r="2.7"/>
<circle cx="664.6" cy="74.7" r="2.7"/>
<circle cx="677.3" cy="74.1" r="2.7"/>
<circle cx="672.6" cy="73.8" r="2.7"/>
<circle cx="662.7" cy="73.8" r="2.7"/>
<circle cx="668.8" cy="73.1" r="2.7"/>
<circle cx="669.7" cy="71.0" r="2.7"/>
<circle cx="659.8" cy="70.1" r="2.7"/>
<circle cx="664.6" cy="69.8" r="2.7"/>
<circle cx="674.6" cy="69.7" r="2.7"/>
<circle cx="669.5" cy="68.6" r="2.7"/>
<circle cx="670.6" cy="64.5" r="2.7"/>
<circle cx="664.6" cy="64.4" r="2.7"/>
<circle cx="676.6" cy="64.0" r="2.7"/>
<circle cx="661.2" cy="63.6" r="2.7"/>
<circle cx="662.7" cy="62.7" r="2.7"/>
<circle cx="675.4" cy="62.4" r="2.7"/>
<circle cx="669.1" cy="62.1" r="2.7"/>
<circle cx="675.5" cy="61.7" r="2.7"/>
<circle cx="664.2" cy="59.5" r="2.7"/>
<circle cx="669.6" cy="58.7" r="2.7"/>
<circle cx="666.6" cy="54.9" r="2.7"/>
<circle cx="668.6" cy="45.9" r="2.7"/>
</g>
<line x1="630.40" y1="62.00" x2="653.30" y2="62.00" stroke="#000" stroke-width="1.1" />
<line x1="641.85" y1="60.20" x2="641.85" y2="63.80" stroke="#111" stroke-width="0.6" />
<line x1="638.85" y1="60.20" x2="644.85" y2="60.20" stroke="#111" stroke-width="0.6" />
<line x1="638.85" y1="63.80" x2="644.85" y2="63.80" stroke="#111" stroke-width="0.6" />
<line x1="657.20" y1="93.50" x2="680.00" y2="93.50" stroke="#000" stroke-width="1.1" />
<line x1="668.60" y1="90.00" x2="668.60" y2="97.00" stroke="#111" stroke-width="0.6" />
<line x1="665.60" y1="90.00" x2="671.60" y2="90.00" stroke="#111" stroke-width="0.6" />
<line x1="665.60" y1="97.00" x2="671.60" y2="97.00" stroke="#111" stroke-width="0.6" />
<text x="667.8" y="37.5" font-size="10.5" fill="#111" text-anchor="middle" textLength="13.1" lengthAdjust="spacingAndGlyphs" >***</text>
<text x="647" y="179" font-size="8" fill="#222" text-anchor="end" transform="rotate(-45 647 179)" textLength="38.8" lengthAdjust="spacingAndGlyphs" >Munc13-1</text>
<text x="672" y="179" font-size="8" fill="#222" text-anchor="end" transform="rotate(-45 672 179)" textLength="27.9" lengthAdjust="spacingAndGlyphs" >Ca<tspan font-size="70%" dy="1.5">V</tspan><tspan dy="-1.5">2.1</tspan></text>
<text x="595.2" y="103.7" font-size="8.5" fill="#222" text-anchor="middle" transform="rotate(-90 595.2 103.7)" textLength="102.0" lengthAdjust="spacingAndGlyphs" >Colocalization coefficient</text>
<text x="605.3" y="103.3" font-size="8.5" fill="#222" text-anchor="middle" transform="rotate(-90 605.3 103.3)" textLength="56.8" lengthAdjust="spacingAndGlyphs" >with Munc13-1</text>
<rect x="16.5" y="285" width="55.3" height="54.6" fill="#000"/>
<rect x="16.5" y="341.2" width="55.3" height="54.8" fill="#000"/>
<rect x="73.8" y="285" width="111.2" height="111" fill="#000"/>
<g fill="#38d060" filter="url(#b1)">
<ellipse cx="43.0" cy="294.3" rx="0.68" ry="0.68" opacity="0.65"/>
<ellipse cx="37.5" cy="298.6" rx="0.77" ry="0.51" opacity="0.40"/>
<ellipse cx="45.3" cy="300.3" rx="1.10" ry="0.59" opacity="0.57"/>
<ellipse cx="69.0" cy="301.9" rx="0.85" ry="0.85" opacity="0.73"/>
<ellipse cx="46.9" cy="313.4" rx="0.51" ry="0.77" opacity="0.40"/>
<ellipse cx="55.2" cy="313.4" rx="0.51" ry="0.68" opacity="0.40"/>
<ellipse cx="22.0" cy="317.8" rx="0.59" ry="0.59" opacity="0.40"/>
<ellipse cx="22.6" cy="327.0" rx="0.51" ry="0.68" opacity="0.57"/>
<ellipse cx="30.3" cy="327.6" rx="1.19" ry="0.59" opacity="0.65"/>
<ellipse cx="37.5" cy="325.4" rx="0.68" ry="0.85" opacity="0.48"/>
<ellipse cx="50.8" cy="324.9" rx="0.85" ry="0.51" opacity="0.32"/>
<ellipse cx="39.7" cy="332.0" rx="0.51" ry="0.51" opacity="0.40"/>
<ellipse cx="46.9" cy="333.0" rx="0.51" ry="0.51" opacity="0.40"/>
<ellipse cx="59.6" cy="335.8" rx="0.68" ry="0.42" opacity="0.32"/>
<ellipse cx="32.0" cy="306.8" rx="0.42" ry="0.42" opacity="0.24"/>
<ellipse cx="63.5" cy="317.8" rx="0.42" ry="0.42" opacity="0.24"/>
</g>
<g fill="#c040c0" filter="url(#b1)">
<ellipse cx="43.0" cy="350.6" rx="0.68" ry="0.68" opacity="0.46"/>
<ellipse cx="37.5" cy="355.0" rx="0.77" ry="0.51" opacity="0.28"/>
<ellipse cx="45.3" cy="356.6" rx="1.10" ry="0.59" opacity="0.40"/>
<ellipse cx="69.0" cy="358.3" rx="0.85" ry="0.85" opacity="0.51"/>
<ellipse cx="46.9" cy="369.9" rx="0.51" ry="0.77" opacity="0.28"/>
<ellipse cx="55.2" cy="369.9" rx="0.51" ry="0.68" opacity="0.28"/>
<ellipse cx="22.0" cy="374.3" rx="0.59" ry="0.59" opacity="0.28"/>
<ellipse cx="22.6" cy="383.6" rx="0.51" ry="0.68" opacity="0.40"/>
<ellipse cx="30.3" cy="384.2" rx="1.19" ry="0.59" opacity="0.46"/>
<ellipse cx="37.5" cy="382.0" rx="0.68" ry="0.85" opacity="0.34"/>
<ellipse cx="50.8" cy="381.4" rx="0.85" ry="0.51" opacity="0.23"/>
<ellipse cx="39.7" cy="388.6" rx="0.51" ry="0.51" opacity="0.28"/>
<ellipse cx="46.9" cy="389.7" rx="0.51" ry="0.51" opacity="0.28"/>
<ellipse cx="59.6" cy="392.4" rx="0.68" ry="0.42" opacity="0.23"/>
<ellipse cx="32.0" cy="363.2" rx="0.42" ry="0.42" opacity="0.17"/>
<ellipse cx="63.5" cy="374.3" rx="0.42" ry="0.42" opacity="0.17"/>
</g>
<g fill="#40e060" filter="url(#b1)">
<ellipse cx="178.3" cy="320.6" rx="2.04" ry="2.21" opacity="0.85"/>
<ellipse cx="178.3" cy="320.6" rx="1.02" ry="1.10" opacity="0.95"/>
<ellipse cx="117.2" cy="369.0" rx="2.38" ry="1.70" opacity="0.47"/>
<ellipse cx="102.7" cy="374.0" rx="1.70" ry="0.85" opacity="0.57"/>
<ellipse cx="172.8" cy="311.7" rx="0.68" ry="0.68" opacity="0.28"/>
<ellipse cx="113.8" cy="295.0" rx="0.68" ry="0.51" opacity="0.28"/>
<ellipse cx="104.9" cy="355.1" rx="0.59" ry="0.59" opacity="0.24"/>
<ellipse cx="179.4" cy="296.1" rx="0.59" ry="0.59" opacity="0.19"/>
</g>
<g fill="#d040d0" filter="url(#b1)">
<ellipse cx="142.2" cy="366.2" rx="2.21" ry="0.85" opacity="0.85"/>
<ellipse cx="147.2" cy="326.2" rx="0.59" ry="1.02" opacity="0.47"/>
<ellipse cx="150.5" cy="335.1" rx="0.51" ry="1.36" opacity="0.47"/>
<ellipse cx="129.4" cy="367.4" rx="0.59" ry="0.85" opacity="0.47"/>
<ellipse cx="132.7" cy="365.1" rx="0.51" ry="0.68" opacity="0.47"/>
<ellipse cx="106.0" cy="317.3" rx="0.51" ry="0.51" opacity="0.38"/>
<ellipse cx="166.1" cy="338.4" rx="0.68" ry="0.51" opacity="0.38"/>
<ellipse cx="145.0" cy="358.5" rx="0.51" ry="0.51" opacity="0.38"/>
<ellipse cx="109.4" cy="371.8" rx="0.51" ry="0.51" opacity="0.38"/>
<ellipse cx="82.7" cy="347.3" rx="0.42" ry="0.42" opacity="0.38"/>
<ellipse cx="123.8" cy="380.7" rx="0.42" ry="0.42" opacity="0.28"/>
<ellipse cx="156.1" cy="385.2" rx="0.51" ry="0.51" opacity="0.28"/>
<ellipse cx="163.9" cy="389.6" rx="0.51" ry="0.51" opacity="0.28"/>
<ellipse cx="143.9" cy="349.6" rx="0.42" ry="0.42" opacity="0.28"/>
</g>
<g fill="#e0e0e0" filter="url(#b1)">
<ellipse cx="127.0" cy="305.6" rx="1.27" ry="1.70" opacity="0.95"/>
<ellipse cx="113.8" cy="314.5" rx="1.53" ry="0.85" opacity="0.85"/>
<ellipse cx="128.8" cy="317.3" rx="1.70" ry="0.85" opacity="0.76"/>
<ellipse cx="139.4" cy="313.4" rx="1.10" ry="1.27" opacity="0.43"/>
<ellipse cx="132.2" cy="341.8" rx="1.02" ry="1.36" opacity="0.85"/>
<ellipse cx="151.1" cy="340.6" rx="0.77" ry="2.04" opacity="0.66"/>
<ellipse cx="151.1" cy="345.7" rx="0.68" ry="1.27" opacity="0.57"/>
<ellipse cx="83.3" cy="353.4" rx="1.70" ry="1.27" opacity="0.76"/>
<ellipse cx="83.8" cy="370.7" rx="1.87" ry="1.19" opacity="0.90"/>
<ellipse cx="98.8" cy="372.4" rx="2.21" ry="1.02" opacity="0.85"/>
<ellipse cx="116.6" cy="368.5" rx="2.04" ry="1.36" opacity="0.52"/>
<ellipse cx="140.5" cy="366.8" rx="2.04" ry="0.85" opacity="0.85"/>
<ellipse cx="135.5" cy="383.5" rx="0.51" ry="1.27" opacity="0.47"/>
<ellipse cx="160.5" cy="388.5" rx="1.70" ry="0.77" opacity="0.28"/>
</g>
<rect x="24" y="392.4" width="18.8" height="2.6" fill="#fff"/>
<text x="25.2" y="388.6" font-size="8" fill="#fff" text-anchor="start" textLength="16.7" lengthAdjust="spacingAndGlyphs" >5 μm</text>
<rect x="83" y="392.4" width="37.2" height="2.6" fill="#fff"/>
<text x="89.3" y="388.6" font-size="8" fill="#fff" text-anchor="start" textLength="16.7" lengthAdjust="spacingAndGlyphs" >5 μm</text>
<text x="12.5" y="312" font-size="8" fill="#2a9d6f" text-anchor="middle" transform="rotate(-90 12.5 312)" textLength="38.8" lengthAdjust="spacingAndGlyphs" >Munc13-1</text>
<text x="12.5" y="371.3" font-size="8" fill="#d4488c" text-anchor="middle" transform="rotate(-90 12.5 371.3)" textLength="27.9" lengthAdjust="spacingAndGlyphs" >Ca<tspan font-size="70%" dy="1.5">V</tspan><tspan dy="-1.5">2.1</tspan></text>
<text x="130.5" y="279.5" font-size="8" text-anchor="middle"><tspan fill="#2a9d6f">Munc13-1</tspan><tspan fill="#222"> + </tspan><tspan fill="#d4488c">Ca</tspan><tspan fill="#d4488c" font-size="70%" dy="1.5">V</tspan><tspan fill="#d4488c" dy="-1.5">2.1</tspan></text>
<g opacity="0.75"><circle cx="283.5" cy="337.0" r=".9" fill="#3834ad"/><circle cx="226.0" cy="300.5" r=".9" fill="#3834ad"/><circle cx="294.5" cy="337.5" r=".9" fill="#3834ad"/><circle cx="215.0" cy="351.0" r=".9" fill="#3834ad"/><circle cx="276.5" cy="361.2" r=".9" fill="#353cc4"/><circle cx="213.5" cy="337.0" r=".9" fill="#353cc4"/><circle cx="222.6" cy="314.7" r=".9" fill="#3341d3"/><circle cx="273.8" cy="323.0" r=".9" fill="#3245df"/><circle cx="247.4" cy="378.1" r=".9" fill="#3245df"/><circle cx="271.0" cy="316.8" r=".9" fill="#3354e2"/><circle cx="268.6" cy="378.2" r=".9" fill="#3354e2"/><circle cx="243.4" cy="362.5" r=".9" fill="#3354e2"/><circle cx="272.4" cy="372.8" r=".9" fill="#3354e2"/><circle cx="257.1" cy="379.8" r=".9" fill="#3354e2"/><circle cx="252.3" cy="374.0" r=".9" fill="#3663e4"/><circle cx="221.2" cy="343.8" r=".9" fill="#3663e4"/><circle cx="253.4" cy="372.3" r=".9" fill="#3663e4"/><circle cx="220.3" cy="317.2" r=".9" fill="#3663e4"/><circle cx="237.7" cy="302.5" r=".9" fill="#3663e4"/><circle cx="221.7" cy="317.7" r=".9" fill="#3663e4"/><circle cx="269.6" cy="316.7" r=".9" fill="#3663e4"/><circle cx="259.2" cy="381.9" r=".9" fill="#3663e4"/><circle cx="220.3" cy="346.7" r=".9" fill="#3663e4"/><circle cx="263.8" cy="380.8" r=".9" fill="#3871e5"/><circle cx="270.8" cy="323.3" r=".9" fill="#3871e5"/><circle cx="227.7" cy="339.1" r=".9" fill="#3871e5"/><circle cx="233.3" cy="363.5" r=".9" fill="#3871e5"/><circle cx="264.8" cy="381.9" r=".9" fill="#3871e5"/><circle cx="264.6" cy="311.1" r=".9" fill="#3871e5"/><circle cx="230.3" cy="363.3" r=".9" fill="#3871e5"/><circle cx="249.6" cy="304.6" r=".9" fill="#3871e5"/><circle cx="274.7" cy="354.5" r=".9" fill="#3871e5"/><circle cx="238.4" cy="368.1" r=".9" fill="#3871e5"/><circle cx="273.5" cy="364.4" r=".9" fill="#3871e5"/><circle cx="229.2" cy="339.2" r=".9" fill="#3871e5"/><circle cx="270.6" cy="373.4" r=".9" fill="#3871e5"/><circle cx="230.6" cy="338.6" r=".9" fill="#3871e5"/><circle cx="228.5" cy="359.6" r=".9" fill="#397fe6"/><circle cx="219.0" cy="327.3" r=".9" fill="#397fe6"/><circle cx="239.2" cy="369.2" r=".9" fill="#397fe6"/><circle cx="238.5" cy="302.6" r=".9" fill="#397fe6"/><circle cx="271.4" cy="370.1" r=".9" fill="#397fe6"/><circle cx="220.7" cy="339.3" r=".9" fill="#397fe6"/><circle cx="231.7" cy="363.4" r=".9" fill="#397fe6"/><circle cx="239.7" cy="367.3" r=".9" fill="#397fe6"/><circle cx="262.0" cy="309.6" r=".9" fill="#397fe6"/><circle cx="270.7" cy="324.6" r=".9" fill="#397fe6"/><circle cx="238.6" cy="302.1" r=".9" fill="#397fe6"/><circle cx="264.4" cy="310.9" r=".9" fill="#397fe6"/><circle cx="221.3" cy="321.4" r=".9" fill="#397fe6"/><circle cx="222.7" cy="345.0" r=".9" fill="#397fe6"/><circle cx="271.2" cy="356.7" r=".9" fill="#3b8ce8"/><circle cx="275.2" cy="329.9" r=".9" fill="#3b8ce8"/><circle cx="268.4" cy="364.7" r=".9" fill="#3b8ce8"/><circle cx="228.6" cy="309.0" r=".9" fill="#3b8ce8"/><circle cx="239.4" cy="363.6" r=".9" fill="#3b8ce8"/><circle cx="253.5" cy="304.5" r=".9" fill="#3b8ce8"/><circle cx="251.7" cy="362.2" r=".9" fill="#3b8ce8"/><circle cx="246.0" cy="374.4" r=".9" fill="#3b8ce8"/><circle cx="246.8" cy="369.6" r=".9" fill="#3b8ce8"/><circle cx="229.1" cy="308.9" r=".9" fill="#3b8ce8"/><circle cx="268.5" cy="371.6" r=".9" fill="#3b8ce8"/><circle cx="229.0" cy="310.0" r=".9" fill="#3b8ce8"/><circle cx="219.4" cy="322.9" r=".9" fill="#3b8ce8"/><circle cx="240.2" cy="371.9" r=".9" fill="#3d99e9"/><circle cx="266.9" cy="317.6" r=".9" fill="#3d99e9"/><circle cx="220.4" cy="322.9" r=".9" fill="#3d99e9"/><circle cx="224.3" cy="345.7" r=".9" fill="#3d99e9"/><circle cx="270.2" cy="360.7" r=".9" fill="#3d99e9"/><circle cx="264.4" cy="321.9" r=".9" fill="#3d99e9"/><circle cx="220.5" cy="325.8" r=".9" fill="#3d99e9"/><circle cx="227.7" cy="344.4" r=".9" fill="#3d99e9"/><circle cx="270.6" cy="365.4" r=".9" fill="#3d99e9"/><circle cx="227.8" cy="320.9" r=".9" fill="#3d99e9"/><circle cx="244.4" cy="372.5" r=".9" fill="#3d99e9"/><circle cx="252.8" cy="369.9" r=".9" fill="#3d99e9"/><circle cx="243.0" cy="374.6" r=".9" fill="#3d99e9"/><circle cx="270.9" cy="366.1" r=".9" fill="#3d99e9"/><circle cx="245.9" cy="308.7" r=".9" fill="#3d99e9"/><circle cx="245.5" cy="309.5" r=".9" fill="#3d99e9"/><circle cx="228.6" cy="323.3" r=".9" fill="#3d99e9"/><circle cx="269.0" cy="362.5" r=".9" fill="#3d99e9"/><circle cx="228.2" cy="311.3" r=".9" fill="#3d99e9"/><circle cx="263.1" cy="377.1" r=".9" fill="#3d99e9"/><circle cx="258.0" cy="305.5" r=".9" fill="#3d99e9"/><circle cx="219.3" cy="330.4" r=".9" fill="#3d99e9"/><circle cx="230.8" cy="332.6" r=".9" fill="#3d99e9"/><circle cx="223.1" cy="323.6" r=".9" fill="#3d99e9"/><circle cx="224.6" cy="347.1" r=".9" fill="#3d99e9"/><circle cx="230.1" cy="319.8" r=".9" fill="#3fa5ea"/><circle cx="236.0" cy="362.3" r=".9" fill="#3fa5ea"/><circle cx="226.4" cy="357.1" r=".9" fill="#3fa5ea"/><circle cx="278.1" cy="349.9" r=".9" fill="#3fa5ea"/><circle cx="218.7" cy="330.9" r=".9" fill="#3fa5ea"/><circle cx="222.1" cy="336.5" r=".9" fill="#3fa5ea"/><circle cx="266.0" cy="370.6" r=".9" fill="#3fa5ea"/><circle cx="276.6" cy="351.2" r=".9" fill="#3fa5ea"/><circle cx="266.5" cy="318.6" r=".9" fill="#3fa5ea"/><circle cx="260.7" cy="375.4" r=".9" fill="#3fa5ea"/><circle cx="260.5" cy="378.7" r=".9" fill="#3fa5ea"/><circle cx="266.7" cy="315.7" r=".9" fill="#3fa5ea"/><circle cx="219.1" cy="336.7" r=".9" fill="#3fa5ea"/><circle cx="244.8" cy="373.8" r=".9" fill="#3fa5ea"/><circle cx="230.6" cy="308.9" r=".9" fill="#3fa5ea"/><circle cx="225.1" cy="325.3" r=".9" fill="#3fa5ea"/><circle cx="261.3" cy="322.3" r=".9" fill="#3fa5ea"/><circle cx="260.1" cy="378.7" r=".9" fill="#3fa5ea"/><circle cx="223.1" cy="335.2" r=".9" fill="#3fa5ea"/><circle cx="274.4" cy="330.3" r=".9" fill="#3fa5ea"/><circle cx="247.4" cy="370.6" r=".9" fill="#3fa5ea"/><circle cx="262.2" cy="324.0" r=".9" fill="#3fa5ea"/><circle cx="243.5" cy="304.6" r=".9" fill="#3fa5ea"/><circle cx="276.3" cy="351.2" r=".9" fill="#3fa5ea"/><circle cx="239.6" cy="305.7" r=".9" fill="#3fa5ea"/><circle cx="229.5" cy="331.4" r=".9" fill="#3fa5ea"/><circle cx="245.1" cy="311.0" r=".9" fill="#40b1ec"/><circle cx="222.1" cy="333.4" r=".9" fill="#40b1ec"/><circle cx="242.6" cy="372.4" r=".9" fill="#40b1ec"/><circle cx="231.1" cy="321.8" r=".9" fill="#40b1ec"/><circle cx="277.1" cy="337.9" r=".9" fill="#40b1ec"/><circle cx="233.2" cy="307.6" r=".9" fill="#40b1ec"/><circle cx="235.5" cy="360.9" r=".9" fill="#40b1ec"/><circle cx="245.2" cy="318.6" r=".9" fill="#40b1ec"/><circle cx="220.2" cy="335.8" r=".9" fill="#40b1ec"/><circle cx="259.1" cy="308.6" r=".9" fill="#40b1ec"/><circle cx="228.5" cy="326.6" r=".9" fill="#40b1ec"/><circle cx="265.9" cy="365.9" r=".9" fill="#40b1ec"/><circle cx="278.5" cy="348.2" r=".9" fill="#40b1ec"/><circle cx="224.3" cy="350.1" r=".9" fill="#40b1ec"/><circle cx="241.5" cy="369.5" r=".9" fill="#40b1ec"/><circle cx="230.7" cy="316.4" r=".9" fill="#40b1ec"/><circle cx="246.5" cy="316.7" r=".9" fill="#40b1ec"/><circle cx="256.8" cy="358.7" r=".9" fill="#40b1ec"/><circle cx="256.0" cy="361.6" r=".9" fill="#40b1ec"/><circle cx="229.1" cy="345.4" r=".9" fill="#40b1ec"/><circle cx="243.2" cy="305.8" r=".9" fill="#42bded"/><circle cx="263.8" cy="315.9" r=".9" fill="#42bded"/><circle cx="223.0" cy="327.1" r=".9" fill="#42bded"/><circle cx="263.5" cy="372.0" r=".9" fill="#42bded"/><circle cx="230.2" cy="333.9" r=".9" fill="#42bded"/><circle cx="263.3" cy="325.9" r=".9" fill="#42bded"/><circle cx="255.7" cy="364.8" r=".9" fill="#42bded"/><circle cx="243.6" cy="369.5" r=".9" fill="#42bded"/><circle cx="268.8" cy="328.0" r=".9" fill="#42bded"/><circle cx="265.1" cy="324.0" r=".9" fill="#42bded"/><circle cx="227.8" cy="357.7" r=".9" fill="#42bded"/><circle cx="228.1" cy="328.7" r=".9" fill="#42bded"/><circle cx="239.1" cy="340.5" r=".9" fill="#42bded"/><circle cx="262.0" cy="360.2" r=".9" fill="#42bded"/><circle cx="258.3" cy="367.4" r=".9" fill="#42bded"/><circle cx="274.5" cy="351.0" r=".9" fill="#42bded"/><circle cx="271.1" cy="327.6" r=".9" fill="#42bded"/><circle cx="264.4" cy="369.3" r=".9" fill="#42bded"/><circle cx="229.9" cy="324.4" r=".9" fill="#42bded"/><circle cx="254.9" cy="370.6" r=".9" fill="#42bded"/><circle cx="242.4" cy="305.9" r=".9" fill="#42bded"/><circle cx="257.9" cy="373.9" r=".9" fill="#42bded"/><circle cx="263.0" cy="318.9" r=".9" fill="#42bded"/><circle cx="261.3" cy="373.8" r=".9" fill="#42bded"/><circle cx="232.3" cy="359.3" r=".9" fill="#42bded"/><circle cx="221.7" cy="334.3" r=".9" fill="#42bded"/><circle cx="267.4" cy="369.5" r=".9" fill="#42bded"/><circle cx="228.5" cy="332.4" r=".9" fill="#42bded"/><circle cx="251.0" cy="358.0" r=".9" fill="#42bded"/><circle cx="242.9" cy="357.5" r=".9" fill="#42bded"/><circle cx="235.3" cy="308.4" r=".9" fill="#43c8ee"/><circle cx="244.0" cy="317.0" r=".9" fill="#43c8ee"/><circle cx="277.9" cy="348.0" r=".9" fill="#43c8ee"/><circle cx="268.6" cy="356.7" r=".9" fill="#43c8ee"/><circle cx="246.6" cy="319.7" r=".9" fill="#43c8ee"/><circle cx="249.2" cy="358.2" r=".9" fill="#43c8ee"/><circle cx="243.4" cy="357.2" r=".9" fill="#43c8ee"/><circle cx="230.3" cy="311.4" r=".9" fill="#43c8ee"/><circle cx="232.2" cy="322.8" r=".9" fill="#43c8ee"/><circle cx="259.8" cy="373.2" r=".9" fill="#43c8ee"/><circle cx="268.1" cy="360.5" r=".9" fill="#43c8ee"/><circle cx="257.0" cy="364.8" r=".9" fill="#43c8ee"/><circle cx="251.7" cy="306.2" r=".9" fill="#43c8ee"/><circle cx="235.6" cy="336.2" r=".9" fill="#43c8ee"/><circle cx="262.9" cy="360.8" r=".9" fill="#43c8ee"/><circle cx="224.1" cy="336.2" r=".9" fill="#43c8ee"/><circle cx="259.2" cy="366.9" r=".9" fill="#43c8ee"/><circle cx="233.0" cy="314.7" r=".9" fill="#43c8ee"/><circle cx="244.2" cy="319.0" r=".9" fill="#43c8ee"/><circle cx="260.0" cy="316.1" r=".9" fill="#43c8ee"/><circle cx="277.8" cy="341.9" r=".9" fill="#43c8ee"/><circle cx="222.8" cy="333.0" r=".9" fill="#43c8ee"/><circle cx="255.6" cy="356.9" r=".9" fill="#43c8ee"/><circle cx="258.4" cy="359.4" r=".9" fill="#43c8ee"/><circle cx="251.2" cy="322.5" r=".9" fill="#45d3ef"/><circle cx="249.5" cy="355.6" r=".9" fill="#45d3ef"/><circle cx="248.3" cy="357.3" r=".9" fill="#45d3ef"/><circle cx="261.7" cy="367.3" r=".9" fill="#45d3ef"/><circle cx="271.7" cy="329.7" r=".9" fill="#45d3ef"/><circle cx="238.5" cy="307.2" r=".9" fill="#45d3ef"/><circle cx="223.8" cy="331.7" r=".9" fill="#45d3ef"/><circle cx="271.5" cy="349.7" r=".9" fill="#45d3ef"/><circle cx="256.2" cy="365.1" r=".9" fill="#45d3ef"/><circle cx="258.0" cy="367.6" r=".9" fill="#45d3ef"/><circle cx="265.6" cy="354.3" r=".9" fill="#45d3ef"/><circle cx="251.5" cy="351.9" r=".9" fill="#45d3ef"/><circle cx="255.6" cy="320.3" r=".9" fill="#45d3ef"/><circle cx="235.3" cy="319.2" r=".9" fill="#45d3ef"/><circle cx="269.1" cy="328.6" r=".9" fill="#45d3ef"/><circle cx="261.3" cy="317.1" r=".9" fill="#45d3ef"/><circle cx="233.0" cy="316.9" r=".9" fill="#45d3ef"/><circle cx="235.9" cy="359.5" r=".9" fill="#45d3ef"/><circle cx="252.9" cy="305.8" r=".9" fill="#45d3ef"/><circle cx="277.7" cy="345.1" r=".9" fill="#4bd9e8"/><circle cx="254.7" cy="357.4" r=".9" fill="#4bd9e8"/><circle cx="259.9" cy="365.6" r=".9" fill="#4bd9e8"/><circle cx="265.7" cy="353.3" r=".9" fill="#4bd9e8"/><circle cx="276.3" cy="342.2" r=".9" fill="#4bd9e8"/><circle cx="266.9" cy="353.3" r=".9" fill="#4bd9e8"/><circle cx="248.2" cy="308.0" r=".9" fill="#4bd9e8"/><circle cx="243.6" cy="346.6" r=".9" fill="#4bd9e8"/><circle cx="242.6" cy="310.7" r=".9" fill="#4bd9e8"/><circle cx="270.0" cy="348.2" r=".9" fill="#4bd9e8"/><circle cx="252.1" cy="319.5" r=".9" fill="#4bd9e8"/><circle cx="244.9" cy="348.0" r=".9" fill="#4bd9e8"/><circle cx="276.6" cy="342.0" r=".9" fill="#4bd9e8"/><circle cx="277.7" cy="342.4" r=".9" fill="#4bd9e8"/><circle cx="239.1" cy="313.7" r=".9" fill="#4bd9e8"/><circle cx="247.6" cy="323.0" r=".9" fill="#4bd9e8"/><circle cx="227.7" cy="355.0" r=".9" fill="#4bd9e8"/><circle cx="262.4" cy="314.5" r=".9" fill="#4bd9e8"/><circle cx="263.6" cy="358.3" r=".9" fill="#4bd9e8"/><circle cx="262.7" cy="358.3" r=".9" fill="#4bd9e8"/><circle cx="235.5" cy="310.2" r=".9" fill="#4bd9e8"/><circle cx="259.2" cy="315.9" r=".9" fill="#4bd9e8"/><circle cx="260.3" cy="357.8" r=".9" fill="#53dbde"/><circle cx="255.4" cy="319.9" r=".9" fill="#53dbde"/><circle cx="232.6" cy="312.1" r=".9" fill="#53dbde"/><circle cx="239.3" cy="315.2" r=".9" fill="#53dbde"/><circle cx="227.4" cy="353.6" r=".9" fill="#53dbde"/><circle cx="241.0" cy="313.0" r=".9" fill="#53dbde"/><circle cx="233.9" cy="332.7" r=".9" fill="#53dbde"/><circle cx="250.6" cy="355.1" r=".9" fill="#53dbde"/><circle cx="244.6" cy="347.9" r=".9" fill="#53dbde"/><circle cx="238.7" cy="312.5" r=".9" fill="#53dbde"/><circle cx="252.1" cy="349.9" r=".9" fill="#53dbde"/><circle cx="257.1" cy="354.2" r=".9" fill="#53dbde"/><circle cx="277.9" cy="347.0" r=".9" fill="#53dbde"/><circle cx="274.0" cy="341.9" r=".9" fill="#53dbde"/><circle cx="257.5" cy="370.6" r=".9" fill="#53dbde"/><circle cx="263.3" cy="353.9" r=".9" fill="#53dbde"/><circle cx="259.4" cy="361.9" r=".9" fill="#53dbde"/><circle cx="259.2" cy="369.0" r=".9" fill="#53dbde"/><circle cx="233.1" cy="333.3" r=".9" fill="#53dbde"/><circle cx="275.4" cy="343.7" r=".9" fill="#53dbde"/><circle cx="227.6" cy="334.3" r=".9" fill="#53dbde"/><circle cx="262.0" cy="370.2" r=".9" fill="#53dbde"/><circle cx="239.9" cy="313.1" r=".9" fill="#53dbde"/><circle cx="231.7" cy="311.7" r=".9" fill="#53dbde"/><circle cx="259.5" cy="350.8" r=".9" fill="#5bded4"/><circle cx="251.1" cy="312.4" r=".9" fill="#5bded4"/><circle cx="259.8" cy="310.3" r=".9" fill="#5bded4"/><circle cx="244.0" cy="354.3" r=".9" fill="#5bded4"/><circle cx="264.7" cy="352.2" r=".9" fill="#5bded4"/><circle cx="250.6" cy="353.7" r=".9" fill="#5bded4"/><circle cx="236.8" cy="316.5" r=".9" fill="#5bded4"/><circle cx="240.4" cy="308.9" r=".9" fill="#5bded4"/><circle cx="266.1" cy="355.8" r=".9" fill="#5bded4"/><circle cx="246.3" cy="326.4" r=".9" fill="#5bded4"/><circle cx="273.5" cy="335.7" r=".9" fill="#5bded4"/><circle cx="256.3" cy="316.7" r=".9" fill="#5bded4"/><circle cx="251.9" cy="354.5" r=".9" fill="#5bded4"/><circle cx="254.3" cy="322.5" r=".9" fill="#5bded4"/><circle cx="267.7" cy="351.6" r=".9" fill="#5bded4"/><circle cx="234.2" cy="357.5" r=".9" fill="#5bded4"/><circle cx="239.9" cy="338.9" r=".9" fill="#5bded4"/><circle cx="226.5" cy="350.7" r=".9" fill="#5bded4"/><circle cx="256.8" cy="322.1" r=".9" fill="#5bded4"/><circle cx="251.0" cy="322.7" r=".9" fill="#5bded4"/><circle cx="236.7" cy="312.5" r=".9" fill="#5bded4"/><circle cx="235.4" cy="313.0" r=".9" fill="#5bded4"/><circle cx="251.1" cy="349.1" r=".9" fill="#5bded4"/><circle cx="274.1" cy="339.1" r=".9" fill="#5bded4"/><circle cx="258.2" cy="314.9" r=".9" fill="#5bded4"/><circle cx="251.1" cy="313.6" r=".9" fill="#63e1c9"/><circle cx="255.9" cy="328.1" r=".9" fill="#63e1c9"/><circle cx="266.0" cy="357.3" r=".9" fill="#63e1c9"/><circle cx="257.1" cy="328.2" r=".9" fill="#63e1c9"/><circle cx="254.4" cy="353.0" r=".9" fill="#63e1c9"/><circle cx="247.7" cy="343.4" r=".9" fill="#63e1c9"/><circle cx="246.2" cy="326.1" r=".9" fill="#63e1c9"/><circle cx="255.8" cy="329.5" r=".9" fill="#63e1c9"/><circle cx="266.4" cy="328.9" r=".9" fill="#63e1c9"/><circle cx="258.7" cy="323.5" r=".9" fill="#63e1c9"/><circle cx="256.8" cy="327.3" r=".9" fill="#63e1c9"/><circle cx="266.3" cy="328.9" r=".9" fill="#63e1c9"/><circle cx="227.8" cy="348.1" r=".9" fill="#63e1c9"/><circle cx="265.6" cy="355.6" r=".9" fill="#63e1c9"/><circle cx="254.9" cy="322.7" r=".9" fill="#63e1c9"/><circle cx="273.8" cy="348.4" r=".9" fill="#63e1c9"/><circle cx="248.7" cy="352.9" r=".9" fill="#63e1c9"/><circle cx="256.6" cy="327.2" r=".9" fill="#63e1c9"/><circle cx="241.9" cy="316.1" r=".9" fill="#63e1c9"/><circle cx="252.5" cy="308.5" r=".9" fill="#63e1c9"/><circle cx="261.2" cy="356.0" r=".9" fill="#63e1c9"/><circle cx="243.9" cy="320.7" r=".9" fill="#63e1c9"/><circle cx="274.2" cy="344.0" r=".9" fill="#6be4c0"/><circle cx="229.7" cy="353.4" r=".9" fill="#6be4c0"/><circle cx="256.0" cy="318.2" r=".9" fill="#6be4c0"/><circle cx="252.1" cy="312.3" r=".9" fill="#6be4c0"/><circle cx="238.1" cy="320.0" r=".9" fill="#6be4c0"/><circle cx="273.0" cy="334.7" r=".9" fill="#6be4c0"/><circle cx="244.1" cy="348.8" r=".9" fill="#6be4c0"/><circle cx="253.1" cy="315.9" r=".9" fill="#6be4c0"/><circle cx="252.2" cy="353.2" r=".9" fill="#6be4c0"/><circle cx="237.1" cy="313.9" r=".9" fill="#6be4c0"/><circle cx="241.4" cy="315.4" r=".9" fill="#6be4c0"/><circle cx="240.6" cy="339.6" r=".9" fill="#6be4c0"/><circle cx="245.0" cy="349.3" r=".9" fill="#6be4c0"/><circle cx="241.7" cy="317.3" r=".9" fill="#6be4c0"/><circle cx="272.9" cy="334.2" r=".9" fill="#6be4c0"/><circle cx="277.2" cy="345.9" r=".9" fill="#6be4c0"/><circle cx="239.7" cy="358.2" r=".9" fill="#6be4c0"/><circle cx="229.6" cy="353.5" r=".9" fill="#6be4c0"/><circle cx="262.5" cy="352.2" r=".9" fill="#6be4c0"/><circle cx="255.2" cy="328.7" r=".9" fill="#6be4c0"/><circle cx="253.5" cy="316.7" r=".9" fill="#6be4c0"/><circle cx="241.1" cy="340.2" r=".9" fill="#6be4c0"/><circle cx="258.5" cy="326.0" r=".9" fill="#6be4c0"/><circle cx="256.1" cy="309.1" r=".9" fill="#72e7b6"/><circle cx="228.1" cy="352.1" r=".9" fill="#72e7b6"/><circle cx="252.2" cy="312.4" r=".9" fill="#72e7b6"/><circle cx="231.0" cy="347.5" r=".9" fill="#72e7b6"/><circle cx="253.0" cy="309.8" r=".9" fill="#72e7b6"/><circle cx="270.2" cy="347.3" r=".9" fill="#72e7b6"/><circle cx="245.2" cy="351.1" r=".9" fill="#72e7b6"/><circle cx="252.8" cy="310.6" r=".9" fill="#72e7b6"/><circle cx="266.5" cy="349.7" r=".9" fill="#72e7b6"/><circle cx="249.9" cy="331.7" r=".9" fill="#72e7b6"/><circle cx="241.3" cy="338.8" r=".9" fill="#72e7b6"/><circle cx="228.7" cy="352.9" r=".9" fill="#72e7b6"/><circle cx="245.8" cy="336.9" r=".9" fill="#72e7b6"/><circle cx="243.0" cy="347.1" r=".9" fill="#72e7b6"/><circle cx="228.4" cy="352.3" r=".9" fill="#72e7b6"/><circle cx="255.4" cy="326.6" r=".9" fill="#72e7b6"/><circle cx="257.8" cy="328.6" r=".9" fill="#72e7b6"/><circle cx="252.7" cy="347.1" r=".9" fill="#72e7b6"/><circle cx="247.2" cy="326.9" r=".9" fill="#72e7b6"/><circle cx="247.5" cy="352.7" r=".9" fill="#72e7b6"/><circle cx="250.3" cy="332.1" r=".9" fill="#7ae9ac"/><circle cx="242.6" cy="339.1" r=".9" fill="#7ae9ac"/><circle cx="256.6" cy="324.0" r=".9" fill="#7ae9ac"/><circle cx="256.0" cy="310.1" r=".9" fill="#7ae9ac"/><circle cx="249.8" cy="341.4" r=".9" fill="#7ae9ac"/><circle cx="235.1" cy="321.7" r=".9" fill="#7ae9ac"/><circle cx="252.6" cy="328.9" r=".9" fill="#7ae9ac"/><circle cx="274.7" cy="343.4" r=".9" fill="#7ae9ac"/><circle cx="251.9" cy="314.2" r=".9" fill="#7ae9ac"/><circle cx="268.5" cy="348.1" r=".9" fill="#7ae9ac"/><circle cx="250.5" cy="332.9" r=".9" fill="#7ae9ac"/><circle cx="242.0" cy="342.9" r=".9" fill="#7ae9ac"/><circle cx="240.0" cy="332.7" r=".9" fill="#7ae9ac"/><circle cx="249.3" cy="329.7" r=".9" fill="#7ae9ac"/><circle cx="252.7" cy="311.8" r=".9" fill="#7ae9ac"/><circle cx="238.9" cy="343.7" r=".9" fill="#7ae9ac"/><circle cx="248.8" cy="328.2" r=".9" fill="#7ae9ac"/><circle cx="246.4" cy="343.3" r=".9" fill="#7ae9ac"/><circle cx="246.3" cy="354.0" r=".9" fill="#7ae9ac"/><circle cx="250.7" cy="331.7" r=".9" fill="#81eca3"/><circle cx="269.6" cy="346.3" r=".9" fill="#81eca3"/><circle cx="263.6" cy="329.1" r=".9" fill="#81eca3"/><circle cx="251.4" cy="334.0" r=".9" fill="#81eca3"/><circle cx="238.6" cy="332.5" r=".9" fill="#81eca3"/><circle cx="240.6" cy="320.0" r=".9" fill="#81eca3"/><circle cx="247.1" cy="329.1" r=".9" fill="#81eca3"/><circle cx="271.3" cy="333.7" r=".9" fill="#81eca3"/><circle cx="240.9" cy="338.2" r=".9" fill="#81eca3"/><circle cx="233.5" cy="356.8" r=".9" fill="#81eca3"/><circle cx="233.6" cy="329.5" r=".9" fill="#81eca3"/><circle cx="255.3" cy="309.4" r=".9" fill="#81eca3"/><circle cx="230.6" cy="353.8" r=".9" fill="#81eca3"/><circle cx="239.8" cy="334.9" r=".9" fill="#89ee99"/><circle cx="246.7" cy="338.9" r=".9" fill="#89ee99"/><circle cx="251.4" cy="344.4" r=".9" fill="#89ee99"/><circle cx="250.2" cy="342.3" r=".9" fill="#89ee99"/><circle cx="238.0" cy="344.6" r=".9" fill="#89ee99"/><circle cx="250.8" cy="343.8" r=".9" fill="#89ee99"/><circle cx="252.5" cy="345.7" r=".9" fill="#89ee99"/><circle cx="236.5" cy="346.1" r=".9" fill="#89ee99"/><circle cx="267.5" cy="347.1" r=".9" fill="#89ee99"/><circle cx="255.6" cy="313.8" r=".9" fill="#89ee99"/><circle cx="255.2" cy="310.4" r=".9" fill="#89ee99"/><circle cx="259.9" cy="349.0" r=".9" fill="#89ee99"/><circle cx="254.0" cy="329.9" r=".9" fill="#89ee99"/><circle cx="245.1" cy="329.2" r=".9" fill="#89ee99"/><circle cx="272.5" cy="342.2" r=".9" fill="#89ee99"/><circle cx="239.2" cy="333.3" r=".9" fill="#89ee99"/><circle cx="271.8" cy="343.4" r=".9" fill="#89ee99"/><circle cx="242.4" cy="347.0" r=".9" fill="#89ee99"/><circle cx="239.1" cy="322.1" r=".9" fill="#89ee99"/><circle cx="237.1" cy="346.6" r=".9" fill="#89ee99"/><circle cx="250.4" cy="327.3" r=".9" fill="#89ee99"/><circle cx="246.1" cy="339.3" r=".9" fill="#93ef90"/><circle cx="256.5" cy="348.4" r=".9" fill="#93ef90"/><circle cx="246.0" cy="338.5" r=".9" fill="#93ef90"/><circle cx="231.1" cy="348.1" r=".9" fill="#93ef90"/><circle cx="232.8" cy="348.2" r=".9" fill="#93ef90"/><circle cx="258.5" cy="349.0" r=".9" fill="#93ef90"/><circle cx="255.0" cy="311.1" r=".9" fill="#93ef90"/><circle cx="234.8" cy="326.7" r=".9" fill="#93ef90"/><circle cx="236.4" cy="347.0" r=".9" fill="#93ef90"/><circle cx="271.0" cy="333.6" r=".9" fill="#93ef90"/><circle cx="245.1" cy="335.9" r=".9" fill="#93ef90"/><circle cx="273.1" cy="338.0" r=".9" fill="#93ef90"/><circle cx="270.2" cy="331.9" r=".9" fill="#93ef90"/><circle cx="243.6" cy="327.7" r=".9" fill="#9fef87"/><circle cx="242.9" cy="323.0" r=".9" fill="#9fef87"/><circle cx="254.4" cy="335.0" r=".9" fill="#9fef87"/><circle cx="253.9" cy="335.7" r=".9" fill="#9fef87"/><circle cx="243.1" cy="335.1" r=".9" fill="#9fef87"/><circle cx="236.8" cy="354.9" r=".9" fill="#9fef87"/><circle cx="255.9" cy="348.7" r=".9" fill="#9fef87"/><circle cx="244.3" cy="337.7" r=".9" fill="#9fef87"/><circle cx="252.7" cy="327.8" r=".9" fill="#9fef87"/><circle cx="254.8" cy="348.0" r=".9" fill="#9fef87"/><circle cx="257.1" cy="313.5" r=".9" fill="#9fef87"/><circle cx="242.3" cy="354.0" r=".9" fill="#9fef87"/><circle cx="241.6" cy="354.2" r=".9" fill="#9fef87"/><circle cx="239.8" cy="323.4" r=".9" fill="#9fef87"/><circle cx="256.8" cy="313.1" r=".9" fill="#9fef87"/><circle cx="252.8" cy="336.7" r=".9" fill="#9fef87"/><circle cx="238.2" cy="346.9" r=".9" fill="#9fef87"/><circle cx="234.7" cy="324.3" r=".9" fill="#9fef87"/><circle cx="246.5" cy="333.9" r=".9" fill="#9fef87"/><circle cx="243.0" cy="352.6" r=".9" fill="#9fef87"/><circle cx="248.5" cy="338.7" r=".9" fill="#9fef87"/><circle cx="250.0" cy="339.2" r=".9" fill="#9fef87"/><circle cx="247.1" cy="333.6" r=".9" fill="#abef7f"/><circle cx="237.2" cy="355.4" r=".9" fill="#abef7f"/><circle cx="242.1" cy="347.9" r=".9" fill="#abef7f"/><circle cx="235.4" cy="326.3" r=".9" fill="#abef7f"/><circle cx="242.3" cy="324.3" r=".9" fill="#abef7f"/><circle cx="244.4" cy="335.3" r=".9" fill="#abef7f"/><circle cx="253.9" cy="338.0" r=".9" fill="#abef7f"/><circle cx="244.4" cy="335.4" r=".9" fill="#abef7f"/><circle cx="241.3" cy="333.9" r=".9" fill="#abef7f"/><circle cx="234.3" cy="347.9" r=".9" fill="#abef7f"/><circle cx="246.1" cy="332.1" r=".9" fill="#abef7f"/><circle cx="242.3" cy="331.5" r=".9" fill="#abef7f"/><circle cx="262.3" cy="330.7" r=".9" fill="#abef7f"/><circle cx="234.6" cy="348.1" r=".9" fill="#abef7f"/><circle cx="245.7" cy="330.0" r=".9" fill="#abef7f"/><circle cx="254.9" cy="336.1" r=".9" fill="#abef7f"/><circle cx="256.1" cy="331.4" r=".9" fill="#b7ef76"/><circle cx="234.6" cy="347.3" r=".9" fill="#b7ef76"/><circle cx="249.3" cy="338.8" r=".9" fill="#b7ef76"/><circle cx="244.5" cy="327.1" r=".9" fill="#b7ef76"/><circle cx="234.4" cy="347.6" r=".9" fill="#b7ef76"/><circle cx="240.5" cy="324.7" r=".9" fill="#b7ef76"/><circle cx="236.2" cy="329.3" r=".9" fill="#b7ef76"/><circle cx="233.2" cy="354.6" r=".9" fill="#b7ef76"/><circle cx="236.0" cy="327.5" r=".9" fill="#b7ef76"/><circle cx="258.3" cy="348.5" r=".9" fill="#b7ef76"/><circle cx="237.4" cy="326.5" r=".9" fill="#b7ef76"/><circle cx="241.3" cy="353.5" r=".9" fill="#c2ef6e"/><circle cx="231.4" cy="352.2" r=".9" fill="#c2ef6e"/><circle cx="237.4" cy="331.3" r=".9" fill="#c2ef6e"/><circle cx="237.3" cy="353.5" r=".9" fill="#c2ef6e"/><circle cx="236.9" cy="353.4" r=".9" fill="#ceee65"/><circle cx="260.4" cy="347.6" r=".9" fill="#ceee65"/><circle cx="239.9" cy="325.8" r=".9" fill="#ceee65"/><circle cx="252.0" cy="338.3" r=".9" fill="#ceee65"/><circle cx="236.7" cy="328.6" r=".9" fill="#ceee65"/><circle cx="263.2" cy="331.6" r=".9" fill="#ceee65"/><circle cx="236.8" cy="328.8" r=".9" fill="#ceee65"/><circle cx="237.1" cy="325.6" r=".9" fill="#ceee65"/><circle cx="236.5" cy="354.1" r=".9" fill="#d9ee5d"/><circle cx="267.8" cy="345.3" r=".9" fill="#d9ee5d"/><circle cx="238.6" cy="325.6" r=".9" fill="#d9ee5d"/><circle cx="254.9" cy="337.8" r=".9" fill="#d9ee5d"/><circle cx="237.5" cy="330.4" r=".9" fill="#d9ee5d"/><circle cx="238.0" cy="354.7" r=".9" fill="#d9ee5d"/><circle cx="237.6" cy="330.0" r=".9" fill="#d9ee5d"/><circle cx="242.2" cy="331.1" r=".9" fill="#d9ee5d"/><circle cx="239.1" cy="325.5" r=".9" fill="#d9ee5d"/><circle cx="239.8" cy="324.9" r=".9" fill="#e5ee55"/><circle cx="266.6" cy="346.2" r=".9" fill="#e5ee55"/><circle cx="238.6" cy="326.4" r=".9" fill="#e5ee55"/><circle cx="239.8" cy="351.3" r=".9" fill="#e5ee55"/><circle cx="239.9" cy="326.2" r=".9" fill="#e5ee55"/><circle cx="258.8" cy="331.9" r=".9" fill="#e5ee55"/><circle cx="241.4" cy="352.6" r=".9" fill="#f0ee4c"/><circle cx="259.9" cy="333.1" r=".9" fill="#f0ee4c"/><circle cx="251.9" cy="341.3" r=".9" fill="#f0ee4c"/><circle cx="270.5" cy="339.5" r=".9" fill="#f0ee4c"/><circle cx="237.8" cy="348.8" r=".9" fill="#f0ee4c"/><circle cx="232.3" cy="350.7" r=".9" fill="#f0ee4c"/><circle cx="255.8" cy="346.5" r=".9" fill="#f0ee4c"/><circle cx="239.5" cy="327.1" r=".9" fill="#faec45"/><circle cx="253.3" cy="341.9" r=".9" fill="#faec45"/><circle cx="237.3" cy="349.6" r=".9" fill="#faec45"/><circle cx="238.4" cy="351.8" r=".9" fill="#faec45"/><circle cx="235.4" cy="351.0" r=".9" fill="#faec45"/><circle cx="239.9" cy="327.7" r=".9" fill="#faec45"/><circle cx="234.0" cy="352.7" r=".9" fill="#faec45"/><circle cx="269.3" cy="342.7" r=".9" fill="#faec45"/><circle cx="240.9" cy="328.7" r=".9" fill="#faec45"/><circle cx="253.8" cy="339.4" r=".9" fill="#faec45"/><circle cx="233.8" cy="352.5" r=".9" fill="#fae343"/><circle cx="268.4" cy="334.9" r=".9" fill="#fae343"/><circle cx="268.9" cy="335.3" r=".9" fill="#fae343"/><circle cx="255.7" cy="339.6" r=".9" fill="#fada41"/><circle cx="255.2" cy="343.9" r=".9" fill="#fada41"/><circle cx="261.8" cy="333.1" r=".9" fill="#fada41"/><circle cx="232.5" cy="352.8" r=".9" fill="#fada41"/><circle cx="266.0" cy="331.7" r=".9" fill="#fada41"/><circle cx="262.3" cy="333.0" r=".9" fill="#fada41"/><circle cx="237.2" cy="351.0" r=".9" fill="#fada41"/><circle cx="262.9" cy="346.9" r=".9" fill="#fada41"/><circle cx="236.7" cy="351.9" r=".9" fill="#fada41"/><circle cx="241.5" cy="329.2" r=".9" fill="#fada41"/><circle cx="254.7" cy="343.3" r=".9" fill="#fada41"/><circle cx="237.6" cy="350.5" r=".9" fill="#fad13e"/><circle cx="268.8" cy="334.6" r=".9" fill="#fad13e"/><circle cx="237.8" cy="350.0" r=".9" fill="#fad13e"/><circle cx="267.7" cy="343.3" r=".9" fill="#fac83c"/><circle cx="263.7" cy="332.5" r=".9" fill="#fac83c"/><circle cx="260.0" cy="334.0" r=".9" fill="#fac83c"/><circle cx="263.4" cy="332.7" r=".9" fill="#fac83c"/><circle cx="239.8" cy="349.3" r=".9" fill="#fac83c"/><circle cx="263.6" cy="346.2" r=".9" fill="#fac83c"/><circle cx="268.1" cy="335.1" r=".9" fill="#fac83c"/><circle cx="255.6" cy="344.1" r=".9" fill="#fabf3a"/><circle cx="262.2" cy="333.6" r=".9" fill="#fabf3a"/><circle cx="261.6" cy="333.6" r=".9" fill="#fabf3a"/><circle cx="268.5" cy="336.5" r=".9" fill="#fabf3a"/><circle cx="261.1" cy="346.5" r=".9" fill="#fabf3a"/><circle cx="256.5" cy="342.2" r=".9" fill="#fab738"/><circle cx="256.5" cy="338.3" r=".9" fill="#fab738"/><circle cx="255.7" cy="342.4" r=".9" fill="#faae35"/><circle cx="267.8" cy="336.0" r=".9" fill="#faae35"/><circle cx="255.9" cy="340.9" r=".9" fill="#faa533"/><circle cx="268.1" cy="336.7" r=".9" fill="#faa533"/><circle cx="257.8" cy="345.3" r=".9" fill="#faa533"/><circle cx="261.8" cy="334.9" r=".9" fill="#fa9d31"/><circle cx="267.9" cy="338.4" r=".9" fill="#fa9d31"/><circle cx="259.9" cy="335.0" r=".9" fill="#fa942f"/><circle cx="263.0" cy="344.7" r=".9" fill="#fa942f"/><circle cx="257.8" cy="337.9" r=".9" fill="#fa8c2d"/><circle cx="264.4" cy="333.3" r=".9" fill="#fa8c2d"/><circle cx="265.5" cy="344.1" r=".9" fill="#fa8c2d"/><circle cx="257.5" cy="343.3" r=".9" fill="#fa8c2d"/><circle cx="256.9" cy="343.5" r=".9" fill="#fa8c2d"/><circle cx="257.0" cy="340.4" r=".9" fill="#fa8c2d"/><circle cx="262.1" cy="345.0" r=".9" fill="#fa832b"/><circle cx="258.3" cy="344.0" r=".9" fill="#fa832b"/><circle cx="264.9" cy="344.4" r=".9" fill="#fa832b"/><circle cx="265.4" cy="344.1" r=".9" fill="#fa832b"/><circle cx="264.3" cy="343.6" r=".9" fill="#fa832b"/><circle cx="267.7" cy="341.0" r=".9" fill="#fa832b"/><circle cx="261.3" cy="344.6" r=".9" fill="#fa7b28"/><circle cx="265.9" cy="335.2" r=".9" fill="#fa7b28"/><circle cx="267.3" cy="338.5" r=".9" fill="#fa7b28"/><circle cx="266.7" cy="342.2" r=".9" fill="#fa7b28"/><circle cx="267.0" cy="339.4" r=".9" fill="#f87327"/><circle cx="258.7" cy="336.4" r=".9" fill="#f87327"/><circle cx="260.6" cy="344.7" r=".9" fill="#f66a26"/><circle cx="257.5" cy="340.3" r=".9" fill="#f66a26"/><circle cx="265.8" cy="335.7" r=".9" fill="#f66a26"/><circle cx="263.5" cy="334.0" r=".9" fill="#f66a26"/><circle cx="261.2" cy="335.8" r=".9" fill="#f66a26"/><circle cx="259.9" cy="344.6" r=".9" fill="#f36125"/><circle cx="267.3" cy="339.4" r=".9" fill="#f36125"/><circle cx="266.1" cy="340.8" r=".9" fill="#f36125"/><circle cx="264.1" cy="334.2" r=".9" fill="#f15824"/><circle cx="259.6" cy="336.1" r=".9" fill="#ee4f23"/><circle cx="265.9" cy="336.4" r=".9" fill="#ee4f23"/><circle cx="259.1" cy="341.1" r=".9" fill="#ec4722"/><circle cx="264.0" cy="343.3" r=".9" fill="#ec4722"/><circle cx="260.4" cy="343.8" r=".9" fill="#e93e21"/><circle cx="259.7" cy="342.3" r=".9" fill="#e93e21"/><circle cx="260.5" cy="343.0" r=".9" fill="#e73520"/><circle cx="265.5" cy="341.4" r=".9" fill="#e52d1f"/><circle cx="260.1" cy="338.5" r=".9" fill="#e2241e"/><circle cx="264.6" cy="341.6" r=".9" fill="#e2241e"/><circle cx="264.7" cy="341.8" r=".9" fill="#e2241e"/><circle cx="263.6" cy="341.6" r=".9" fill="#de1d1d"/><circle cx="260.4" cy="339.0" r=".9" fill="#de1d1d"/><circle cx="260.0" cy="339.9" r=".9" fill="#de1d1d"/><circle cx="260.2" cy="339.8" r=".9" fill="#d41a1a"/><circle cx="264.1" cy="340.8" r=".9" fill="#d41a1a"/><circle cx="265.2" cy="337.1" r=".9" fill="#d41a1a"/><circle cx="262.5" cy="342.3" r=".9" fill="#d41a1a"/><circle cx="261.8" cy="338.2" r=".9" fill="#c91717"/><circle cx="262.0" cy="337.9" r=".9" fill="#c91717"/><circle cx="265.0" cy="338.7" r=".9" fill="#c91717"/><circle cx="260.3" cy="341.2" r=".9" fill="#c91717"/><circle cx="262.5" cy="341.0" r=".9" fill="#bf1515"/><circle cx="264.7" cy="337.4" r=".9" fill="#bf1515"/><circle cx="264.6" cy="337.6" r=".9" fill="#bf1515"/><circle cx="259.5" cy="339.9" r=".9" fill="#bf1515"/><circle cx="264.1" cy="339.2" r=".9" fill="#bf1515"/><circle cx="263.2" cy="340.1" r=".9" fill="#bf1515"/><circle cx="264.5" cy="337.2" r=".9" fill="#b41212"/><circle cx="263.2" cy="336.1" r=".9" fill="#b41212"/><circle cx="261.8" cy="341.1" r=".9" fill="#aa0f0f"/><circle cx="264.0" cy="337.2" r=".9" fill="#aa0f0f"/><circle cx="262.8" cy="339.4" r=".9" fill="#a00c0c"/><circle cx="263.5" cy="338.7" r=".9" fill="#960a0a"/><circle cx="263.2" cy="339.4" r=".9" fill="#960a0a"/></g>
<g opacity="0.75"><circle cx="295.0" cy="337.0" r=".9" fill="#3834ad"/><circle cx="314.0" cy="364.5" r=".9" fill="#3834ad"/><circle cx="329.9" cy="357.8" r=".9" fill="#353cc4"/><circle cx="376.8" cy="375.1" r=".9" fill="#353cc4"/><circle cx="333.7" cy="327.9" r=".9" fill="#353cc4"/><circle cx="335.3" cy="325.1" r=".9" fill="#353cc4"/><circle cx="366.2" cy="379.7" r=".9" fill="#353cc4"/><circle cx="345.5" cy="303.5" r=".9" fill="#353cc4"/><circle cx="328.4" cy="355.0" r=".9" fill="#3341d3"/><circle cx="359.0" cy="376.8" r=".9" fill="#3341d3"/><circle cx="380.6" cy="327.8" r=".9" fill="#3341d3"/><circle cx="322.3" cy="336.4" r=".9" fill="#3341d3"/><circle cx="325.8" cy="337.3" r=".9" fill="#3341d3"/><circle cx="336.9" cy="365.6" r=".9" fill="#3341d3"/><circle cx="369.3" cy="373.4" r=".9" fill="#3245e0"/><circle cx="360.6" cy="309.9" r=".9" fill="#3245e0"/><circle cx="308.0" cy="337.7" r=".9" fill="#3245e0"/><circle cx="341.6" cy="370.1" r=".9" fill="#3245e0"/><circle cx="338.2" cy="365.3" r=".9" fill="#3245e0"/><circle cx="329.0" cy="343.6" r=".9" fill="#3245e0"/><circle cx="322.0" cy="358.5" r=".9" fill="#3245e0"/><circle cx="352.5" cy="377.3" r=".9" fill="#3245e0"/><circle cx="305.3" cy="344.4" r=".9" fill="#3245e0"/><circle cx="366.1" cy="314.5" r=".9" fill="#3245e0"/><circle cx="346.6" cy="306.3" r=".9" fill="#3245e0"/><circle cx="340.2" cy="367.4" r=".9" fill="#3245e0"/><circle cx="380.4" cy="330.1" r=".9" fill="#3456e2"/><circle cx="375.9" cy="320.7" r=".9" fill="#3456e2"/><circle cx="351.5" cy="364.5" r=".9" fill="#3456e2"/><circle cx="366.1" cy="313.0" r=".9" fill="#3456e2"/><circle cx="311.2" cy="349.3" r=".9" fill="#3456e2"/><circle cx="315.1" cy="336.8" r=".9" fill="#3456e2"/><circle cx="320.3" cy="338.9" r=".9" fill="#3456e2"/><circle cx="316.0" cy="337.7" r=".9" fill="#3456e2"/><circle cx="346.0" cy="373.4" r=".9" fill="#3456e2"/><circle cx="335.1" cy="352.9" r=".9" fill="#3456e2"/><circle cx="313.7" cy="358.3" r=".9" fill="#3456e2"/><circle cx="383.1" cy="337.9" r=".9" fill="#3456e2"/><circle cx="383.2" cy="362.3" r=".9" fill="#3456e2"/><circle cx="328.3" cy="348.8" r=".9" fill="#3665e4"/><circle cx="333.2" cy="335.9" r=".9" fill="#3665e4"/><circle cx="336.3" cy="353.5" r=".9" fill="#3665e4"/><circle cx="348.2" cy="314.0" r=".9" fill="#3665e4"/><circle cx="318.1" cy="359.0" r=".9" fill="#3665e4"/><circle cx="374.9" cy="370.7" r=".9" fill="#3665e4"/><circle cx="319.2" cy="358.2" r=".9" fill="#3665e4"/><circle cx="310.3" cy="337.4" r=".9" fill="#3665e4"/><circle cx="379.6" cy="366.7" r=".9" fill="#3665e4"/><circle cx="354.8" cy="308.4" r=".9" fill="#3665e4"/><circle cx="334.2" cy="334.0" r=".9" fill="#3665e4"/><circle cx="354.9" cy="364.8" r=".9" fill="#3665e4"/><circle cx="328.3" cy="345.6" r=".9" fill="#3665e4"/><circle cx="312.3" cy="350.7" r=".9" fill="#3665e4"/><circle cx="372.4" cy="370.2" r=".9" fill="#3665e4"/><circle cx="362.0" cy="374.3" r=".9" fill="#3665e4"/><circle cx="349.1" cy="364.5" r=".9" fill="#3665e4"/><circle cx="359.5" cy="364.0" r=".9" fill="#3665e4"/><circle cx="365.1" cy="373.9" r=".9" fill="#3665e4"/><circle cx="313.7" cy="346.0" r=".9" fill="#3665e4"/><circle cx="367.0" cy="367.1" r=".9" fill="#3665e4"/><circle cx="308.4" cy="343.8" r=".9" fill="#3665e4"/><circle cx="367.7" cy="364.7" r=".9" fill="#3665e4"/><circle cx="353.3" cy="314.4" r=".9" fill="#3665e4"/><circle cx="349.6" cy="314.0" r=".9" fill="#3874e5"/><circle cx="321.2" cy="346.3" r=".9" fill="#3874e5"/><circle cx="322.1" cy="348.9" r=".9" fill="#3874e5"/><circle cx="375.3" cy="367.0" r=".9" fill="#3874e5"/><circle cx="347.9" cy="365.9" r=".9" fill="#3874e5"/><circle cx="385.2" cy="343.9" r=".9" fill="#3874e5"/><circle cx="346.3" cy="364.3" r=".9" fill="#3874e5"/><circle cx="344.2" cy="326.4" r=".9" fill="#3874e5"/><circle cx="363.3" cy="357.4" r=".9" fill="#3874e5"/><circle cx="369.6" cy="364.9" r=".9" fill="#3874e5"/><circle cx="334.4" cy="334.2" r=".9" fill="#3874e5"/><circle cx="347.8" cy="312.4" r=".9" fill="#3874e5"/><circle cx="347.9" cy="371.2" r=".9" fill="#3874e5"/><circle cx="361.7" cy="360.4" r=".9" fill="#3874e5"/><circle cx="308.2" cy="342.4" r=".9" fill="#3874e5"/><circle cx="375.1" cy="368.1" r=".9" fill="#3874e5"/><circle cx="366.3" cy="359.4" r=".9" fill="#3874e5"/><circle cx="352.5" cy="372.8" r=".9" fill="#3874e5"/><circle cx="364.8" cy="366.8" r=".9" fill="#3874e5"/><circle cx="371.8" cy="360.4" r=".9" fill="#3874e5"/><circle cx="310.3" cy="338.7" r=".9" fill="#3874e5"/><circle cx="377.0" cy="364.8" r=".9" fill="#3a82e7"/><circle cx="373.7" cy="361.0" r=".9" fill="#3a82e7"/><circle cx="351.1" cy="371.9" r=".9" fill="#3a82e7"/><circle cx="374.5" cy="368.3" r=".9" fill="#3a82e7"/><circle cx="323.0" cy="346.2" r=".9" fill="#3a82e7"/><circle cx="321.1" cy="352.2" r=".9" fill="#3a82e7"/><circle cx="310.5" cy="346.8" r=".9" fill="#3a82e7"/><circle cx="338.8" cy="332.4" r=".9" fill="#3a82e7"/><circle cx="365.0" cy="371.6" r=".9" fill="#3a82e7"/><circle cx="358.3" cy="371.2" r=".9" fill="#3a82e7"/><circle cx="362.1" cy="371.0" r=".9" fill="#3a82e7"/><circle cx="345.0" cy="358.9" r=".9" fill="#3a82e7"/><circle cx="372.4" cy="321.0" r=".9" fill="#3a82e7"/><circle cx="347.3" cy="320.3" r=".9" fill="#3a82e7"/><circle cx="385.0" cy="344.4" r=".9" fill="#3a82e7"/><circle cx="358.0" cy="369.0" r=".9" fill="#3a82e7"/><circle cx="314.3" cy="350.5" r=".9" fill="#3a82e7"/><circle cx="354.7" cy="372.4" r=".9" fill="#3a82e7"/><circle cx="351.0" cy="308.2" r=".9" fill="#3a82e7"/><circle cx="333.5" cy="343.6" r=".9" fill="#3a82e7"/><circle cx="379.6" cy="360.2" r=".9" fill="#3a82e7"/><circle cx="336.2" cy="350.6" r=".9" fill="#3a82e7"/><circle cx="385.6" cy="355.7" r=".9" fill="#3a82e7"/><circle cx="360.1" cy="313.1" r=".9" fill="#3a82e7"/><circle cx="349.5" cy="371.1" r=".9" fill="#3a82e7"/><circle cx="355.5" cy="309.7" r=".9" fill="#3a82e7"/><circle cx="361.7" cy="367.2" r=".9" fill="#3a82e7"/><circle cx="371.2" cy="320.3" r=".9" fill="#3a82e7"/><circle cx="339.9" cy="347.3" r=".9" fill="#3c8fe8"/><circle cx="351.1" cy="308.8" r=".9" fill="#3c8fe8"/><circle cx="324.4" cy="351.2" r=".9" fill="#3c8fe8"/><circle cx="378.5" cy="359.3" r=".9" fill="#3c8fe8"/><circle cx="337.0" cy="347.1" r=".9" fill="#3c8fe8"/><circle cx="341.9" cy="355.0" r=".9" fill="#3c8fe8"/><circle cx="316.9" cy="354.6" r=".9" fill="#3c8fe8"/><circle cx="383.7" cy="357.4" r=".9" fill="#3c8fe8"/><circle cx="317.5" cy="354.5" r=".9" fill="#3c8fe8"/><circle cx="324.7" cy="350.1" r=".9" fill="#3c8fe8"/><circle cx="346.5" cy="360.5" r=".9" fill="#3c8fe8"/><circle cx="333.6" cy="336.8" r=".9" fill="#3c8fe8"/><circle cx="347.0" cy="347.6" r=".9" fill="#3c8fe8"/><circle cx="377.2" cy="326.1" r=".9" fill="#3c8fe8"/><circle cx="385.4" cy="354.6" r=".9" fill="#3c8fe8"/><circle cx="358.3" cy="350.9" r=".9" fill="#3c8fe8"/><circle cx="347.3" cy="320.5" r=".9" fill="#3c8fe8"/><circle cx="377.5" cy="355.6" r=".9" fill="#3c8fe8"/><circle cx="385.8" cy="354.6" r=".9" fill="#3c8fe8"/><circle cx="346.9" cy="350.5" r=".9" fill="#3c8fe8"/><circle cx="353.5" cy="370.3" r=".9" fill="#3c8fe8"/><circle cx="352.2" cy="310.1" r=".9" fill="#3c8fe8"/><circle cx="339.0" cy="353.1" r=".9" fill="#3c8fe8"/><circle cx="345.9" cy="352.0" r=".9" fill="#3c8fe8"/><circle cx="381.5" cy="346.2" r=".9" fill="#3d9ce9"/><circle cx="358.8" cy="357.2" r=".9" fill="#3d9ce9"/><circle cx="367.9" cy="353.4" r=".9" fill="#3d9ce9"/><circle cx="319.4" cy="350.5" r=".9" fill="#3d9ce9"/><circle cx="346.3" cy="358.3" r=".9" fill="#3d9ce9"/><circle cx="359.9" cy="316.0" r=".9" fill="#3d9ce9"/><circle cx="377.0" cy="334.3" r=".9" fill="#3d9ce9"/><circle cx="339.8" cy="350.4" r=".9" fill="#3d9ce9"/><circle cx="382.2" cy="344.0" r=".9" fill="#3d9ce9"/><circle cx="371.3" cy="356.2" r=".9" fill="#3d9ce9"/><circle cx="337.6" cy="341.1" r=".9" fill="#3d9ce9"/><circle cx="351.7" cy="350.3" r=".9" fill="#3d9ce9"/><circle cx="341.2" cy="336.0" r=".9" fill="#3d9ce9"/><circle cx="338.3" cy="343.0" r=".9" fill="#3d9ce9"/><circle cx="361.1" cy="359.3" r=".9" fill="#3d9ce9"/><circle cx="374.9" cy="356.8" r=".9" fill="#3fa9eb"/><circle cx="385.7" cy="350.9" r=".9" fill="#3fa9eb"/><circle cx="352.3" cy="357.6" r=".9" fill="#3fa9eb"/><circle cx="338.4" cy="344.3" r=".9" fill="#3fa9eb"/><circle cx="341.4" cy="348.4" r=".9" fill="#3fa9eb"/><circle cx="340.3" cy="343.2" r=".9" fill="#3fa9eb"/><circle cx="346.4" cy="322.3" r=".9" fill="#3fa9eb"/><circle cx="371.0" cy="336.4" r=".9" fill="#3fa9eb"/><circle cx="344.3" cy="353.8" r=".9" fill="#3fa9eb"/><circle cx="381.2" cy="346.8" r=".9" fill="#3fa9eb"/><circle cx="379.8" cy="335.8" r=".9" fill="#3fa9eb"/><circle cx="362.0" cy="316.0" r=".9" fill="#3fa9eb"/><circle cx="364.9" cy="349.5" r=".9" fill="#41b5ec"/><circle cx="346.8" cy="342.9" r=".9" fill="#41b5ec"/><circle cx="377.8" cy="337.5" r=".9" fill="#41b5ec"/><circle cx="357.5" cy="352.4" r=".9" fill="#41b5ec"/><circle cx="359.0" cy="354.5" r=".9" fill="#41b5ec"/><circle cx="351.0" cy="357.2" r=".9" fill="#41b5ec"/><circle cx="352.9" cy="351.2" r=".9" fill="#41b5ec"/><circle cx="370.2" cy="333.9" r=".9" fill="#41b5ec"/><circle cx="357.8" cy="357.1" r=".9" fill="#41b5ec"/><circle cx="380.8" cy="349.8" r=".9" fill="#41b5ec"/><circle cx="378.4" cy="339.3" r=".9" fill="#41b5ec"/><circle cx="348.1" cy="357.3" r=".9" fill="#41b5ec"/><circle cx="338.7" cy="339.9" r=".9" fill="#41b5ec"/><circle cx="338.6" cy="339.1" r=".9" fill="#41b5ec"/><circle cx="354.3" cy="349.9" r=".9" fill="#41b5ec"/><circle cx="386.2" cy="349.2" r=".9" fill="#41b5ec"/><circle cx="345.8" cy="324.2" r=".9" fill="#41b5ec"/><circle cx="340.3" cy="336.3" r=".9" fill="#41b5ec"/><circle cx="357.7" cy="348.9" r=".9" fill="#41b5ec"/><circle cx="371.1" cy="354.2" r=".9" fill="#43c1ed"/><circle cx="381.9" cy="354.4" r=".9" fill="#43c1ed"/><circle cx="381.7" cy="349.3" r=".9" fill="#43c1ed"/><circle cx="336.3" cy="339.9" r=".9" fill="#43c1ed"/><circle cx="351.7" cy="356.3" r=".9" fill="#43c1ed"/><circle cx="375.4" cy="354.0" r=".9" fill="#43c1ed"/><circle cx="384.0" cy="350.5" r=".9" fill="#43c1ed"/><circle cx="355.9" cy="357.3" r=".9" fill="#43c1ed"/><circle cx="374.6" cy="326.7" r=".9" fill="#43c1ed"/><circle cx="355.8" cy="357.2" r=".9" fill="#43c1ed"/><circle cx="347.3" cy="343.7" r=".9" fill="#43c1ed"/><circle cx="376.9" cy="340.8" r=".9" fill="#43c1ed"/><circle cx="377.1" cy="339.6" r=".9" fill="#44cdee"/><circle cx="374.8" cy="347.7" r=".9" fill="#44cdee"/><circle cx="360.0" cy="317.3" r=".9" fill="#44cdee"/><circle cx="371.1" cy="333.5" r=".9" fill="#44cdee"/><circle cx="382.2" cy="348.7" r=".9" fill="#44cdee"/><circle cx="364.7" cy="318.7" r=".9" fill="#44cdee"/><circle cx="347.8" cy="356.2" r=".9" fill="#44cdee"/><circle cx="378.5" cy="340.0" r=".9" fill="#44cdee"/><circle cx="377.6" cy="340.4" r=".9" fill="#44cdee"/><circle cx="351.9" cy="355.1" r=".9" fill="#44cdee"/><circle cx="338.5" cy="335.0" r=".9" fill="#44cdee"/><circle cx="373.0" cy="331.4" r=".9" fill="#47d7ee"/><circle cx="377.8" cy="351.5" r=".9" fill="#47d7ee"/><circle cx="366.7" cy="335.9" r=".9" fill="#47d7ee"/><circle cx="360.2" cy="344.8" r=".9" fill="#47d7ee"/><circle cx="351.5" cy="347.6" r=".9" fill="#47d7ee"/><circle cx="381.0" cy="354.2" r=".9" fill="#47d7ee"/><circle cx="361.2" cy="318.3" r=".9" fill="#47d7ee"/><circle cx="372.1" cy="341.0" r=".9" fill="#47d7ee"/><circle cx="369.3" cy="336.1" r=".9" fill="#47d7ee"/><circle cx="361.6" cy="346.4" r=".9" fill="#47d7ee"/><circle cx="374.8" cy="347.4" r=".9" fill="#47d7ee"/><circle cx="371.2" cy="353.1" r=".9" fill="#4fdae3"/><circle cx="355.0" cy="343.7" r=".9" fill="#4fdae3"/><circle cx="354.1" cy="342.7" r=".9" fill="#4fdae3"/><circle cx="366.0" cy="347.3" r=".9" fill="#4fdae3"/><circle cx="355.3" cy="342.0" r=".9" fill="#4fdae3"/><circle cx="375.0" cy="337.1" r=".9" fill="#4fdae3"/><circle cx="373.5" cy="340.2" r=".9" fill="#4fdae3"/><circle cx="374.6" cy="341.5" r=".9" fill="#4fdae3"/><circle cx="367.2" cy="333.3" r=".9" fill="#4fdae3"/><circle cx="351.3" cy="320.1" r=".9" fill="#4fdae3"/><circle cx="355.4" cy="351.8" r=".9" fill="#4fdae3"/><circle cx="364.1" cy="339.5" r=".9" fill="#4fdae3"/><circle cx="346.3" cy="341.1" r=".9" fill="#4fdae3"/><circle cx="344.1" cy="333.2" r=".9" fill="#4fdae3"/><circle cx="372.8" cy="329.0" r=".9" fill="#57ddd9"/><circle cx="367.9" cy="351.0" r=".9" fill="#57ddd9"/><circle cx="372.1" cy="327.6" r=".9" fill="#57ddd9"/><circle cx="364.2" cy="338.8" r=".9" fill="#57ddd9"/><circle cx="373.7" cy="343.2" r=".9" fill="#57ddd9"/><circle cx="355.1" cy="355.1" r=".9" fill="#57ddd9"/><circle cx="349.6" cy="352.8" r=".9" fill="#57ddd9"/><circle cx="343.7" cy="332.3" r=".9" fill="#57ddd9"/><circle cx="355.9" cy="345.2" r=".9" fill="#57ddd9"/><circle cx="357.9" cy="343.1" r=".9" fill="#60e0ce"/><circle cx="343.0" cy="338.0" r=".9" fill="#60e0ce"/><circle cx="363.9" cy="337.8" r=".9" fill="#60e0ce"/><circle cx="365.5" cy="340.2" r=".9" fill="#60e0ce"/><circle cx="369.6" cy="340.7" r=".9" fill="#60e0ce"/><circle cx="358.1" cy="341.3" r=".9" fill="#60e0ce"/><circle cx="374.2" cy="350.1" r=".9" fill="#60e0ce"/><circle cx="363.2" cy="345.5" r=".9" fill="#60e0ce"/><circle cx="357.4" cy="342.0" r=".9" fill="#60e0ce"/><circle cx="372.9" cy="328.7" r=".9" fill="#60e0ce"/><circle cx="364.3" cy="321.5" r=".9" fill="#60e0ce"/><circle cx="366.0" cy="341.9" r=".9" fill="#60e0ce"/><circle cx="372.7" cy="347.5" r=".9" fill="#68e3c4"/><circle cx="366.9" cy="340.9" r=".9" fill="#68e3c4"/><circle cx="373.8" cy="346.0" r=".9" fill="#68e3c4"/><circle cx="362.1" cy="343.4" r=".9" fill="#68e3c4"/><circle cx="362.8" cy="336.8" r=".9" fill="#68e3c4"/><circle cx="371.5" cy="325.7" r=".9" fill="#68e3c4"/><circle cx="357.3" cy="319.1" r=".9" fill="#68e3c4"/><circle cx="362.8" cy="329.7" r=".9" fill="#68e3c4"/><circle cx="370.2" cy="327.8" r=".9" fill="#68e3c4"/><circle cx="351.7" cy="343.6" r=".9" fill="#68e3c4"/><circle cx="364.4" cy="342.3" r=".9" fill="#68e3c4"/><circle cx="372.4" cy="347.0" r=".9" fill="#68e3c4"/><circle cx="373.4" cy="352.3" r=".9" fill="#68e3c4"/><circle cx="361.3" cy="337.0" r=".9" fill="#68e3c4"/><circle cx="368.8" cy="348.4" r=".9" fill="#68e3c4"/><circle cx="365.3" cy="322.7" r=".9" fill="#6fe5ba"/><circle cx="361.9" cy="340.7" r=".9" fill="#6fe5ba"/><circle cx="351.2" cy="322.0" r=".9" fill="#6fe5ba"/><circle cx="371.0" cy="324.3" r=".9" fill="#6fe5ba"/><circle cx="373.9" cy="344.6" r=".9" fill="#6fe5ba"/><circle cx="347.1" cy="339.5" r=".9" fill="#6fe5ba"/><circle cx="363.7" cy="341.9" r=".9" fill="#6fe5ba"/><circle cx="368.4" cy="326.8" r=".9" fill="#6fe5ba"/><circle cx="365.9" cy="328.3" r=".9" fill="#6fe5ba"/><circle cx="369.3" cy="326.1" r=".9" fill="#6fe5ba"/><circle cx="368.7" cy="346.6" r=".9" fill="#6fe5ba"/><circle cx="372.2" cy="349.2" r=".9" fill="#6fe5ba"/><circle cx="368.6" cy="348.0" r=".9" fill="#6fe5ba"/><circle cx="370.4" cy="325.9" r=".9" fill="#6fe5ba"/><circle cx="365.8" cy="323.4" r=".9" fill="#6fe5ba"/><circle cx="357.7" cy="320.5" r=".9" fill="#6fe5ba"/><circle cx="366.4" cy="342.9" r=".9" fill="#6fe5ba"/><circle cx="370.5" cy="323.4" r=".9" fill="#6fe5ba"/><circle cx="372.6" cy="349.4" r=".9" fill="#77e8b0"/><circle cx="351.0" cy="342.8" r=".9" fill="#77e8b0"/><circle cx="372.8" cy="349.6" r=".9" fill="#77e8b0"/><circle cx="363.8" cy="328.8" r=".9" fill="#77e8b0"/><circle cx="368.6" cy="327.7" r=".9" fill="#77e8b0"/><circle cx="368.5" cy="323.6" r=".9" fill="#77e8b0"/><circle cx="365.2" cy="343.9" r=".9" fill="#77e8b0"/><circle cx="370.1" cy="328.2" r=".9" fill="#77e8b0"/><circle cx="349.6" cy="323.4" r=".9" fill="#77e8b0"/><circle cx="369.7" cy="349.6" r=".9" fill="#77e8b0"/><circle cx="355.4" cy="320.2" r=".9" fill="#7feba6"/><circle cx="363.1" cy="323.6" r=".9" fill="#7feba6"/><circle cx="364.5" cy="323.1" r=".9" fill="#7feba6"/><circle cx="346.2" cy="332.7" r=".9" fill="#87ee9c"/><circle cx="368.6" cy="328.4" r=".9" fill="#87ee9c"/><circle cx="358.5" cy="321.0" r=".9" fill="#87ee9c"/><circle cx="346.2" cy="336.8" r=".9" fill="#87ee9c"/><circle cx="361.3" cy="332.8" r=".9" fill="#90ef92"/><circle cx="354.2" cy="322.1" r=".9" fill="#90ef92"/><circle cx="360.4" cy="320.5" r=".9" fill="#90ef92"/><circle cx="368.8" cy="345.3" r=".9" fill="#90ef92"/><circle cx="365.4" cy="325.9" r=".9" fill="#9cef89"/><circle cx="353.1" cy="341.6" r=".9" fill="#9cef89"/><circle cx="347.8" cy="339.1" r=".9" fill="#9cef89"/><circle cx="361.4" cy="332.3" r=".9" fill="#9cef89"/><circle cx="359.7" cy="322.8" r=".9" fill="#9cef89"/><circle cx="360.3" cy="322.4" r=".9" fill="#a9ef80"/><circle cx="351.9" cy="342.3" r=".9" fill="#a9ef80"/><circle cx="361.2" cy="325.5" r=".9" fill="#b5ef77"/><circle cx="361.1" cy="327.1" r=".9" fill="#b5ef77"/><circle cx="359.8" cy="324.2" r=".9" fill="#b5ef77"/><circle cx="360.1" cy="324.2" r=".9" fill="#b5ef77"/><circle cx="348.3" cy="339.1" r=".9" fill="#b5ef77"/><circle cx="347.6" cy="330.4" r=".9" fill="#b5ef77"/><circle cx="350.7" cy="323.4" r=".9" fill="#c1ef6f"/><circle cx="348.7" cy="339.7" r=".9" fill="#c1ef6f"/><circle cx="348.2" cy="338.2" r=".9" fill="#c1ef6f"/><circle cx="353.4" cy="323.9" r=".9" fill="#cdee66"/><circle cx="353.2" cy="323.9" r=".9" fill="#cdee66"/><circle cx="356.1" cy="322.7" r=".9" fill="#d9ee5d"/><circle cx="356.2" cy="322.7" r=".9" fill="#d9ee5d"/><circle cx="354.5" cy="339.7" r=".9" fill="#e4ee55"/><circle cx="356.6" cy="323.4" r=".9" fill="#f0ee4c"/><circle cx="351.8" cy="324.8" r=".9" fill="#f0ee4c"/><circle cx="358.7" cy="324.4" r=".9" fill="#f0ee4c"/><circle cx="348.6" cy="328.8" r=".9" fill="#faec45"/><circle cx="351.6" cy="324.5" r=".9" fill="#faec45"/><circle cx="348.1" cy="335.2" r=".9" fill="#faec45"/><circle cx="359.8" cy="326.9" r=".9" fill="#faec45"/><circle cx="358.9" cy="334.6" r=".9" fill="#fae243"/><circle cx="359.6" cy="326.3" r=".9" fill="#fae243"/><circle cx="353.7" cy="339.3" r=".9" fill="#fae243"/><circle cx="348.1" cy="335.8" r=".9" fill="#fad940"/><circle cx="356.4" cy="337.8" r=".9" fill="#fad940"/><circle cx="348.3" cy="334.6" r=".9" fill="#fac73c"/><circle cx="355.1" cy="324.5" r=".9" fill="#fabe39"/><circle cx="349.7" cy="336.4" r=".9" fill="#fabe39"/><circle cx="350.8" cy="337.7" r=".9" fill="#fab537"/><circle cx="359.2" cy="332.6" r=".9" fill="#faac35"/><circle cx="359.0" cy="332.7" r=".9" fill="#faac35"/><circle cx="356.9" cy="336.1" r=".9" fill="#faa333"/><circle cx="359.2" cy="329.7" r=".9" fill="#faa333"/><circle cx="349.4" cy="330.9" r=".9" fill="#fa9a30"/><circle cx="350.4" cy="329.6" r=".9" fill="#fa912e"/><circle cx="358.0" cy="334.0" r=".9" fill="#fa912e"/><circle cx="350.0" cy="328.0" r=".9" fill="#fa912e"/><circle cx="358.9" cy="330.7" r=".9" fill="#fa912e"/><circle cx="351.5" cy="337.1" r=".9" fill="#fa892c"/><circle cx="351.2" cy="329.3" r=".9" fill="#fa802a"/><circle cx="349.0" cy="333.7" r=".9" fill="#fa802a"/><circle cx="350.0" cy="329.0" r=".9" fill="#fa802a"/><circle cx="354.0" cy="337.1" r=".9" fill="#fa802a"/><circle cx="352.6" cy="326.7" r=".9" fill="#fa802a"/><circle cx="351.0" cy="329.2" r=".9" fill="#f97727"/><circle cx="353.6" cy="326.7" r=".9" fill="#f97727"/><circle cx="351.2" cy="336.4" r=".9" fill="#f76e26"/><circle cx="352.5" cy="336.4" r=".9" fill="#f76e26"/><circle cx="357.6" cy="329.7" r=".9" fill="#f76e26"/><circle cx="357.5" cy="330.0" r=".9" fill="#f76e26"/><circle cx="351.2" cy="336.4" r=".9" fill="#f76e26"/><circle cx="354.7" cy="327.4" r=".9" fill="#f76e26"/><circle cx="357.5" cy="331.8" r=".9" fill="#f46525"/><circle cx="355.1" cy="326.9" r=".9" fill="#f46525"/><circle cx="355.1" cy="335.3" r=".9" fill="#f25c24"/><circle cx="349.6" cy="332.5" r=".9" fill="#f25c24"/><circle cx="353.5" cy="336.1" r=".9" fill="#ef5323"/><circle cx="352.9" cy="328.3" r=".9" fill="#ed4a22"/><circle cx="353.3" cy="335.0" r=".9" fill="#ed4a22"/><circle cx="356.3" cy="334.5" r=".9" fill="#ed4a22"/><circle cx="356.0" cy="333.1" r=".9" fill="#e83820"/><circle cx="352.0" cy="330.1" r=".9" fill="#e83820"/><circle cx="354.5" cy="334.8" r=".9" fill="#e83820"/><circle cx="356.0" cy="333.2" r=".9" fill="#e83820"/><circle cx="354.7" cy="334.4" r=".9" fill="#e52f1f"/><circle cx="355.8" cy="332.9" r=".9" fill="#e52f1f"/><circle cx="355.2" cy="328.2" r=".9" fill="#e52f1f"/><circle cx="355.3" cy="329.8" r=".9" fill="#e52f1f"/><circle cx="355.2" cy="334.2" r=".9" fill="#e3261e"/><circle cx="350.8" cy="332.7" r=".9" fill="#e3261e"/><circle cx="354.4" cy="330.5" r=".9" fill="#e3261e"/><circle cx="354.6" cy="330.2" r=".9" fill="#e3261e"/><circle cx="356.1" cy="330.9" r=".9" fill="#e11e1e"/><circle cx="350.5" cy="331.9" r=".9" fill="#e11e1e"/><circle cx="355.9" cy="329.7" r=".9" fill="#e11e1e"/><circle cx="354.3" cy="328.9" r=".9" fill="#e11e1e"/><circle cx="355.3" cy="331.4" r=".9" fill="#d61b1b"/><circle cx="351.5" cy="332.5" r=".9" fill="#d61b1b"/><circle cx="350.9" cy="332.3" r=".9" fill="#d61b1b"/><circle cx="354.4" cy="330.8" r=".9" fill="#d61b1b"/><circle cx="353.0" cy="334.1" r=".9" fill="#cb1818"/><circle cx="351.3" cy="331.5" r=".9" fill="#cb1818"/><circle cx="355.2" cy="328.9" r=".9" fill="#cb1818"/><circle cx="354.2" cy="329.8" r=".9" fill="#c01515"/><circle cx="352.3" cy="333.5" r=".9" fill="#b51212"/><circle cx="352.7" cy="333.2" r=".9" fill="#b51212"/><circle cx="354.5" cy="332.5" r=".9" fill="#ab0f0f"/><circle cx="353.7" cy="331.3" r=".9" fill="#ab0f0f"/><circle cx="354.1" cy="331.8" r=".9" fill="#a00c0c"/><circle cx="353.1" cy="331.9" r=".9" fill="#960a0a"/></g>
<g fill="#4a44b0" opacity="0.75"><circle cx="196" cy="328" r="0.9"/><circle cx="402.5" cy="326" r="0.9"/></g>
<path d="M463.3,309.9 C466.2,309.5 470.7,309.4 472.6,310.7 C474.5,312.0 474.8,315.2 474.5,317.7 C474.2,320.2 472.7,323.7 471.1,325.5 C469.5,327.3 466.1,326.7 464.9,328.5 C463.7,330.3 465.3,334.5 464.1,336.4 C462.9,338.3 459.9,339.8 457.8,339.8 C455.7,339.8 453.4,338.5 451.7,336.4 C450.0,334.3 448.2,330.2 447.8,327.1 C447.4,324.0 448.0,320.1 449.3,317.7 C450.6,315.3 453.2,314.3 455.5,313.0 C457.8,311.7 460.4,310.3 463.3,309.9Z" fill="#6b7783" opacity="0.48"/>
<path d="M472.7,336.0 C474.6,334.6 479.4,333.8 481.9,334.8 C484.4,335.8 486.6,339.2 487.7,341.8 C488.8,344.4 489.6,348.1 488.6,350.2 C487.6,352.3 484.4,354.1 481.9,354.4 C479.4,354.7 475.4,353.7 473.5,351.9 C471.6,350.1 470.3,346.1 470.2,343.5 C470.1,340.9 470.8,337.4 472.7,336.0Z" fill="#6b7783" opacity="0.48"/>
<g opacity="0.75" transform="translate(206.8 0)"><circle cx="283.5" cy="337.0" r=".9" fill="#3834ad"/><circle cx="226.0" cy="300.5" r=".9" fill="#3834ad"/><circle cx="294.5" cy="337.5" r=".9" fill="#3834ad"/><circle cx="215.0" cy="351.0" r=".9" fill="#3834ad"/><circle cx="276.5" cy="361.2" r=".9" fill="#353cc4"/><circle cx="213.5" cy="337.0" r=".9" fill="#353cc4"/><circle cx="222.6" cy="314.7" r=".9" fill="#3341d3"/><circle cx="273.8" cy="323.0" r=".9" fill="#3245df"/><circle cx="247.4" cy="378.1" r=".9" fill="#3245df"/><circle cx="271.0" cy="316.8" r=".9" fill="#3354e2"/><circle cx="268.6" cy="378.2" r=".9" fill="#3354e2"/><circle cx="243.4" cy="362.5" r=".9" fill="#3354e2"/><circle cx="272.4" cy="372.8" r=".9" fill="#3354e2"/><circle cx="257.1" cy="379.8" r=".9" fill="#3354e2"/><circle cx="252.3" cy="374.0" r=".9" fill="#3663e4"/><circle cx="221.2" cy="343.8" r=".9" fill="#3663e4"/><circle cx="253.4" cy="372.3" r=".9" fill="#3663e4"/><circle cx="220.3" cy="317.2" r=".9" fill="#3663e4"/><circle cx="237.7" cy="302.5" r=".9" fill="#3663e4"/><circle cx="221.7" cy="317.7" r=".9" fill="#3663e4"/><circle cx="269.6" cy="316.7" r=".9" fill="#3663e4"/><circle cx="259.2" cy="381.9" r=".9" fill="#3663e4"/><circle cx="220.3" cy="346.7" r=".9" fill="#3663e4"/><circle cx="263.8" cy="380.8" r=".9" fill="#3871e5"/><circle cx="270.8" cy="323.3" r=".9" fill="#3871e5"/><circle cx="227.7" cy="339.1" r=".9" fill="#3871e5"/><circle cx="233.3" cy="363.5" r=".9" fill="#3871e5"/><circle cx="264.8" cy="381.9" r=".9" fill="#3871e5"/><circle cx="264.6" cy="311.1" r=".9" fill="#3871e5"/><circle cx="230.3" cy="363.3" r=".9" fill="#3871e5"/><circle cx="249.6" cy="304.6" r=".9" fill="#3871e5"/><circle cx="274.7" cy="354.5" r=".9" fill="#3871e5"/><circle cx="238.4" cy="368.1" r=".9" fill="#3871e5"/><circle cx="273.5" cy="364.4" r=".9" fill="#3871e5"/><circle cx="229.2" cy="339.2" r=".9" fill="#3871e5"/><circle cx="270.6" cy="373.4" r=".9" fill="#3871e5"/><circle cx="230.6" cy="338.6" r=".9" fill="#3871e5"/><circle cx="228.5" cy="359.6" r=".9" fill="#397fe6"/><circle cx="219.0" cy="327.3" r=".9" fill="#397fe6"/><circle cx="239.2" cy="369.2" r=".9" fill="#397fe6"/><circle cx="238.5" cy="302.6" r=".9" fill="#397fe6"/><circle cx="271.4" cy="370.1" r=".9" fill="#397fe6"/><circle cx="220.7" cy="339.3" r=".9" fill="#397fe6"/><circle cx="231.7" cy="363.4" r=".9" fill="#397fe6"/><circle cx="239.7" cy="367.3" r=".9" fill="#397fe6"/><circle cx="262.0" cy="309.6" r=".9" fill="#397fe6"/><circle cx="270.7" cy="324.6" r=".9" fill="#397fe6"/><circle cx="238.6" cy="302.1" r=".9" fill="#397fe6"/><circle cx="264.4" cy="310.9" r=".9" fill="#397fe6"/><circle cx="221.3" cy="321.4" r=".9" fill="#397fe6"/><circle cx="222.7" cy="345.0" r=".9" fill="#397fe6"/><circle cx="271.2" cy="356.7" r=".9" fill="#3b8ce8"/><circle cx="275.2" cy="329.9" r=".9" fill="#3b8ce8"/><circle cx="268.4" cy="364.7" r=".9" fill="#3b8ce8"/><circle cx="228.6" cy="309.0" r=".9" fill="#3b8ce8"/><circle cx="239.4" cy="363.6" r=".9" fill="#3b8ce8"/><circle cx="253.5" cy="304.5" r=".9" fill="#3b8ce8"/><circle cx="251.7" cy="362.2" r=".9" fill="#3b8ce8"/><circle cx="246.0" cy="374.4" r=".9" fill="#3b8ce8"/><circle cx="246.8" cy="369.6" r=".9" fill="#3b8ce8"/><circle cx="229.1" cy="308.9" r=".9" fill="#3b8ce8"/><circle cx="268.5" cy="371.6" r=".9" fill="#3b8ce8"/><circle cx="229.0" cy="310.0" r=".9" fill="#3b8ce8"/><circle cx="219.4" cy="322.9" r=".9" fill="#3b8ce8"/><circle cx="240.2" cy="371.9" r=".9" fill="#3d99e9"/><circle cx="266.9" cy="317.6" r=".9" fill="#3d99e9"/><circle cx="220.4" cy="322.9" r=".9" fill="#3d99e9"/><circle cx="224.3" cy="345.7" r=".9" fill="#3d99e9"/><circle cx="270.2" cy="360.7" r=".9" fill="#3d99e9"/><circle cx="264.4" cy="321.9" r=".9" fill="#3d99e9"/><circle cx="220.5" cy="325.8" r=".9" fill="#3d99e9"/><circle cx="227.7" cy="344.4" r=".9" fill="#3d99e9"/><circle cx="270.6" cy="365.4" r=".9" fill="#3d99e9"/><circle cx="227.8" cy="320.9" r=".9" fill="#3d99e9"/><circle cx="244.4" cy="372.5" r=".9" fill="#3d99e9"/><circle cx="252.8" cy="369.9" r=".9" fill="#3d99e9"/><circle cx="243.0" cy="374.6" r=".9" fill="#3d99e9"/><circle cx="270.9" cy="366.1" r=".9" fill="#3d99e9"/><circle cx="245.9" cy="308.7" r=".9" fill="#3d99e9"/><circle cx="245.5" cy="309.5" r=".9" fill="#3d99e9"/><circle cx="228.6" cy="323.3" r=".9" fill="#3d99e9"/><circle cx="269.0" cy="362.5" r=".9" fill="#3d99e9"/><circle cx="228.2" cy="311.3" r=".9" fill="#3d99e9"/><circle cx="263.1" cy="377.1" r=".9" fill="#3d99e9"/><circle cx="258.0" cy="305.5" r=".9" fill="#3d99e9"/><circle cx="219.3" cy="330.4" r=".9" fill="#3d99e9"/><circle cx="230.8" cy="332.6" r=".9" fill="#3d99e9"/><circle cx="223.1" cy="323.6" r=".9" fill="#3d99e9"/><circle cx="224.6" cy="347.1" r=".9" fill="#3d99e9"/><circle cx="230.1" cy="319.8" r=".9" fill="#3fa5ea"/><circle cx="236.0" cy="362.3" r=".9" fill="#3fa5ea"/><circle cx="226.4" cy="357.1" r=".9" fill="#3fa5ea"/><circle cx="278.1" cy="349.9" r=".9" fill="#3fa5ea"/><circle cx="218.7" cy="330.9" r=".9" fill="#3fa5ea"/><circle cx="222.1" cy="336.5" r=".9" fill="#3fa5ea"/><circle cx="266.0" cy="370.6" r=".9" fill="#3fa5ea"/><circle cx="276.6" cy="351.2" r=".9" fill="#3fa5ea"/><circle cx="266.5" cy="318.6" r=".9" fill="#3fa5ea"/><circle cx="260.7" cy="375.4" r=".9" fill="#3fa5ea"/><circle cx="260.5" cy="378.7" r=".9" fill="#3fa5ea"/><circle cx="266.7" cy="315.7" r=".9" fill="#3fa5ea"/><circle cx="219.1" cy="336.7" r=".9" fill="#3fa5ea"/><circle cx="244.8" cy="373.8" r=".9" fill="#3fa5ea"/><circle cx="230.6" cy="308.9" r=".9" fill="#3fa5ea"/><circle cx="225.1" cy="325.3" r=".9" fill="#3fa5ea"/><circle cx="261.3" cy="322.3" r=".9" fill="#3fa5ea"/><circle cx="260.1" cy="378.7" r=".9" fill="#3fa5ea"/><circle cx="223.1" cy="335.2" r=".9" fill="#3fa5ea"/><circle cx="274.4" cy="330.3" r=".9" fill="#3fa5ea"/><circle cx="247.4" cy="370.6" r=".9" fill="#3fa5ea"/><circle cx="262.2" cy="324.0" r=".9" fill="#3fa5ea"/><circle cx="243.5" cy="304.6" r=".9" fill="#3fa5ea"/><circle cx="276.3" cy="351.2" r=".9" fill="#3fa5ea"/><circle cx="239.6" cy="305.7" r=".9" fill="#3fa5ea"/><circle cx="229.5" cy="331.4" r=".9" fill="#3fa5ea"/><circle cx="245.1" cy="311.0" r=".9" fill="#40b1ec"/><circle cx="222.1" cy="333.4" r=".9" fill="#40b1ec"/><circle cx="242.6" cy="372.4" r=".9" fill="#40b1ec"/><circle cx="231.1" cy="321.8" r=".9" fill="#40b1ec"/><circle cx="277.1" cy="337.9" r=".9" fill="#40b1ec"/><circle cx="233.2" cy="307.6" r=".9" fill="#40b1ec"/><circle cx="235.5" cy="360.9" r=".9" fill="#40b1ec"/><circle cx="245.2" cy="318.6" r=".9" fill="#40b1ec"/><circle cx="220.2" cy="335.8" r=".9" fill="#40b1ec"/><circle cx="259.1" cy="308.6" r=".9" fill="#40b1ec"/><circle cx="228.5" cy="326.6" r=".9" fill="#40b1ec"/><circle cx="265.9" cy="365.9" r=".9" fill="#40b1ec"/><circle cx="278.5" cy="348.2" r=".9" fill="#40b1ec"/><circle cx="224.3" cy="350.1" r=".9" fill="#40b1ec"/><circle cx="241.5" cy="369.5" r=".9" fill="#40b1ec"/><circle cx="230.7" cy="316.4" r=".9" fill="#40b1ec"/><circle cx="246.5" cy="316.7" r=".9" fill="#40b1ec"/><circle cx="256.8" cy="358.7" r=".9" fill="#40b1ec"/><circle cx="256.0" cy="361.6" r=".9" fill="#40b1ec"/><circle cx="229.1" cy="345.4" r=".9" fill="#40b1ec"/><circle cx="243.2" cy="305.8" r=".9" fill="#42bded"/><circle cx="263.8" cy="315.9" r=".9" fill="#42bded"/><circle cx="223.0" cy="327.1" r=".9" fill="#42bded"/><circle cx="263.5" cy="372.0" r=".9" fill="#42bded"/><circle cx="230.2" cy="333.9" r=".9" fill="#42bded"/><circle cx="263.3" cy="325.9" r=".9" fill="#42bded"/><circle cx="255.7" cy="364.8" r=".9" fill="#42bded"/><circle cx="243.6" cy="369.5" r=".9" fill="#42bded"/><circle cx="268.8" cy="328.0" r=".9" fill="#42bded"/><circle cx="265.1" cy="324.0" r=".9" fill="#42bded"/><circle cx="227.8" cy="357.7" r=".9" fill="#42bded"/><circle cx="228.1" cy="328.7" r=".9" fill="#42bded"/><circle cx="239.1" cy="340.5" r=".9" fill="#42bded"/><circle cx="262.0" cy="360.2" r=".9" fill="#42bded"/><circle cx="258.3" cy="367.4" r=".9" fill="#42bded"/><circle cx="274.5" cy="351.0" r=".9" fill="#42bded"/><circle cx="271.1" cy="327.6" r=".9" fill="#42bded"/><circle cx="264.4" cy="369.3" r=".9" fill="#42bded"/><circle cx="229.9" cy="324.4" r=".9" fill="#42bded"/><circle cx="254.9" cy="370.6" r=".9" fill="#42bded"/><circle cx="242.4" cy="305.9" r=".9" fill="#42bded"/><circle cx="257.9" cy="373.9" r=".9" fill="#42bded"/><circle cx="263.0" cy="318.9" r=".9" fill="#42bded"/><circle cx="261.3" cy="373.8" r=".9" fill="#42bded"/><circle cx="232.3" cy="359.3" r=".9" fill="#42bded"/><circle cx="221.7" cy="334.3" r=".9" fill="#42bded"/><circle cx="267.4" cy="369.5" r=".9" fill="#42bded"/><circle cx="228.5" cy="332.4" r=".9" fill="#42bded"/><circle cx="251.0" cy="358.0" r=".9" fill="#42bded"/><circle cx="242.9" cy="357.5" r=".9" fill="#42bded"/><circle cx="235.3" cy="308.4" r=".9" fill="#43c8ee"/><circle cx="244.0" cy="317.0" r=".9" fill="#43c8ee"/><circle cx="277.9" cy="348.0" r=".9" fill="#43c8ee"/><circle cx="268.6" cy="356.7" r=".9" fill="#43c8ee"/><circle cx="246.6" cy="319.7" r=".9" fill="#43c8ee"/><circle cx="249.2" cy="358.2" r=".9" fill="#43c8ee"/><circle cx="243.4" cy="357.2" r=".9" fill="#43c8ee"/><circle cx="230.3" cy="311.4" r=".9" fill="#43c8ee"/><circle cx="232.2" cy="322.8" r=".9" fill="#43c8ee"/><circle cx="259.8" cy="373.2" r=".9" fill="#43c8ee"/><circle cx="268.1" cy="360.5" r=".9" fill="#43c8ee"/><circle cx="257.0" cy="364.8" r=".9" fill="#43c8ee"/><circle cx="251.7" cy="306.2" r=".9" fill="#43c8ee"/><circle cx="235.6" cy="336.2" r=".9" fill="#43c8ee"/><circle cx="262.9" cy="360.8" r=".9" fill="#43c8ee"/><circle cx="224.1" cy="336.2" r=".9" fill="#43c8ee"/><circle cx="259.2" cy="366.9" r=".9" fill="#43c8ee"/><circle cx="233.0" cy="314.7" r=".9" fill="#43c8ee"/><circle cx="244.2" cy="319.0" r=".9" fill="#43c8ee"/><circle cx="260.0" cy="316.1" r=".9" fill="#43c8ee"/><circle cx="277.8" cy="341.9" r=".9" fill="#43c8ee"/><circle cx="222.8" cy="333.0" r=".9" fill="#43c8ee"/><circle cx="255.6" cy="356.9" r=".9" fill="#43c8ee"/><circle cx="258.4" cy="359.4" r=".9" fill="#43c8ee"/><circle cx="251.2" cy="322.5" r=".9" fill="#45d3ef"/><circle cx="249.5" cy="355.6" r=".9" fill="#45d3ef"/><circle cx="248.3" cy="357.3" r=".9" fill="#45d3ef"/><circle cx="261.7" cy="367.3" r=".9" fill="#45d3ef"/><circle cx="271.7" cy="329.7" r=".9" fill="#45d3ef"/><circle cx="238.5" cy="307.2" r=".9" fill="#45d3ef"/><circle cx="223.8" cy="331.7" r=".9" fill="#45d3ef"/><circle cx="271.5" cy="349.7" r=".9" fill="#45d3ef"/><circle cx="256.2" cy="365.1" r=".9" fill="#45d3ef"/><circle cx="258.0" cy="367.6" r=".9" fill="#45d3ef"/><circle cx="265.6" cy="354.3" r=".9" fill="#45d3ef"/><circle cx="251.5" cy="351.9" r=".9" fill="#45d3ef"/><circle cx="255.6" cy="320.3" r=".9" fill="#45d3ef"/><circle cx="235.3" cy="319.2" r=".9" fill="#45d3ef"/><circle cx="269.1" cy="328.6" r=".9" fill="#45d3ef"/><circle cx="261.3" cy="317.1" r=".9" fill="#45d3ef"/><circle cx="233.0" cy="316.9" r=".9" fill="#45d3ef"/><circle cx="235.9" cy="359.5" r=".9" fill="#45d3ef"/><circle cx="252.9" cy="305.8" r=".9" fill="#45d3ef"/><circle cx="277.7" cy="345.1" r=".9" fill="#4bd9e8"/><circle cx="254.7" cy="357.4" r=".9" fill="#4bd9e8"/><circle cx="259.9" cy="365.6" r=".9" fill="#4bd9e8"/><circle cx="265.7" cy="353.3" r=".9" fill="#4bd9e8"/><circle cx="276.3" cy="342.2" r=".9" fill="#4bd9e8"/><circle cx="266.9" cy="353.3" r=".9" fill="#4bd9e8"/><circle cx="248.2" cy="308.0" r=".9" fill="#4bd9e8"/><circle cx="243.6" cy="346.6" r=".9" fill="#4bd9e8"/><circle cx="242.6" cy="310.7" r=".9" fill="#4bd9e8"/><circle cx="270.0" cy="348.2" r=".9" fill="#4bd9e8"/><circle cx="252.1" cy="319.5" r=".9" fill="#4bd9e8"/><circle cx="244.9" cy="348.0" r=".9" fill="#4bd9e8"/><circle cx="276.6" cy="342.0" r=".9" fill="#4bd9e8"/><circle cx="277.7" cy="342.4" r=".9" fill="#4bd9e8"/><circle cx="239.1" cy="313.7" r=".9" fill="#4bd9e8"/><circle cx="247.6" cy="323.0" r=".9" fill="#4bd9e8"/><circle cx="227.7" cy="355.0" r=".9" fill="#4bd9e8"/><circle cx="262.4" cy="314.5" r=".9" fill="#4bd9e8"/><circle cx="263.6" cy="358.3" r=".9" fill="#4bd9e8"/><circle cx="262.7" cy="358.3" r=".9" fill="#4bd9e8"/><circle cx="235.5" cy="310.2" r=".9" fill="#4bd9e8"/><circle cx="259.2" cy="315.9" r=".9" fill="#4bd9e8"/><circle cx="260.3" cy="357.8" r=".9" fill="#53dbde"/><circle cx="255.4" cy="319.9" r=".9" fill="#53dbde"/><circle cx="232.6" cy="312.1" r=".9" fill="#53dbde"/><circle cx="239.3" cy="315.2" r=".9" fill="#53dbde"/><circle cx="227.4" cy="353.6" r=".9" fill="#53dbde"/><circle cx="241.0" cy="313.0" r=".9" fill="#53dbde"/><circle cx="233.9" cy="332.7" r=".9" fill="#53dbde"/><circle cx="250.6" cy="355.1" r=".9" fill="#53dbde"/><circle cx="244.6" cy="347.9" r=".9" fill="#53dbde"/><circle cx="238.7" cy="312.5" r=".9" fill="#53dbde"/><circle cx="252.1" cy="349.9" r=".9" fill="#53dbde"/><circle cx="257.1" cy="354.2" r=".9" fill="#53dbde"/><circle cx="277.9" cy="347.0" r=".9" fill="#53dbde"/><circle cx="274.0" cy="341.9" r=".9" fill="#53dbde"/><circle cx="257.5" cy="370.6" r=".9" fill="#53dbde"/><circle cx="263.3" cy="353.9" r=".9" fill="#53dbde"/><circle cx="259.4" cy="361.9" r=".9" fill="#53dbde"/><circle cx="259.2" cy="369.0" r=".9" fill="#53dbde"/><circle cx="233.1" cy="333.3" r=".9" fill="#53dbde"/><circle cx="275.4" cy="343.7" r=".9" fill="#53dbde"/><circle cx="227.6" cy="334.3" r=".9" fill="#53dbde"/><circle cx="262.0" cy="370.2" r=".9" fill="#53dbde"/><circle cx="239.9" cy="313.1" r=".9" fill="#53dbde"/><circle cx="231.7" cy="311.7" r=".9" fill="#53dbde"/><circle cx="259.5" cy="350.8" r=".9" fill="#5bded4"/><circle cx="251.1" cy="312.4" r=".9" fill="#5bded4"/><circle cx="259.8" cy="310.3" r=".9" fill="#5bded4"/><circle cx="244.0" cy="354.3" r=".9" fill="#5bded4"/><circle cx="264.7" cy="352.2" r=".9" fill="#5bded4"/><circle cx="250.6" cy="353.7" r=".9" fill="#5bded4"/><circle cx="236.8" cy="316.5" r=".9" fill="#5bded4"/><circle cx="240.4" cy="308.9" r=".9" fill="#5bded4"/><circle cx="266.1" cy="355.8" r=".9" fill="#5bded4"/><circle cx="246.3" cy="326.4" r=".9" fill="#5bded4"/><circle cx="273.5" cy="335.7" r=".9" fill="#5bded4"/><circle cx="256.3" cy="316.7" r=".9" fill="#5bded4"/><circle cx="251.9" cy="354.5" r=".9" fill="#5bded4"/><circle cx="254.3" cy="322.5" r=".9" fill="#5bded4"/><circle cx="267.7" cy="351.6" r=".9" fill="#5bded4"/><circle cx="234.2" cy="357.5" r=".9" fill="#5bded4"/><circle cx="239.9" cy="338.9" r=".9" fill="#5bded4"/><circle cx="226.5" cy="350.7" r=".9" fill="#5bded4"/><circle cx="256.8" cy="322.1" r=".9" fill="#5bded4"/><circle cx="251.0" cy="322.7" r=".9" fill="#5bded4"/><circle cx="236.7" cy="312.5" r=".9" fill="#5bded4"/><circle cx="235.4" cy="313.0" r=".9" fill="#5bded4"/><circle cx="251.1" cy="349.1" r=".9" fill="#5bded4"/><circle cx="274.1" cy="339.1" r=".9" fill="#5bded4"/><circle cx="258.2" cy="314.9" r=".9" fill="#5bded4"/><circle cx="251.1" cy="313.6" r=".9" fill="#63e1c9"/><circle cx="255.9" cy="328.1" r=".9" fill="#63e1c9"/><circle cx="266.0" cy="357.3" r=".9" fill="#63e1c9"/><circle cx="257.1" cy="328.2" r=".9" fill="#63e1c9"/><circle cx="254.4" cy="353.0" r=".9" fill="#63e1c9"/><circle cx="247.7" cy="343.4" r=".9" fill="#63e1c9"/><circle cx="246.2" cy="326.1" r=".9" fill="#63e1c9"/><circle cx="255.8" cy="329.5" r=".9" fill="#63e1c9"/><circle cx="266.4" cy="328.9" r=".9" fill="#63e1c9"/><circle cx="258.7" cy="323.5" r=".9" fill="#63e1c9"/><circle cx="256.8" cy="327.3" r=".9" fill="#63e1c9"/><circle cx="266.3" cy="328.9" r=".9" fill="#63e1c9"/><circle cx="227.8" cy="348.1" r=".9" fill="#63e1c9"/><circle cx="265.6" cy="355.6" r=".9" fill="#63e1c9"/><circle cx="254.9" cy="322.7" r=".9" fill="#63e1c9"/><circle cx="273.8" cy="348.4" r=".9" fill="#63e1c9"/><circle cx="248.7" cy="352.9" r=".9" fill="#63e1c9"/><circle cx="256.6" cy="327.2" r=".9" fill="#63e1c9"/><circle cx="241.9" cy="316.1" r=".9" fill="#63e1c9"/><circle cx="252.5" cy="308.5" r=".9" fill="#63e1c9"/><circle cx="261.2" cy="356.0" r=".9" fill="#63e1c9"/><circle cx="243.9" cy="320.7" r=".9" fill="#63e1c9"/><circle cx="274.2" cy="344.0" r=".9" fill="#6be4c0"/><circle cx="229.7" cy="353.4" r=".9" fill="#6be4c0"/><circle cx="256.0" cy="318.2" r=".9" fill="#6be4c0"/><circle cx="252.1" cy="312.3" r=".9" fill="#6be4c0"/><circle cx="238.1" cy="320.0" r=".9" fill="#6be4c0"/><circle cx="273.0" cy="334.7" r=".9" fill="#6be4c0"/><circle cx="244.1" cy="348.8" r=".9" fill="#6be4c0"/><circle cx="253.1" cy="315.9" r=".9" fill="#6be4c0"/><circle cx="252.2" cy="353.2" r=".9" fill="#6be4c0"/><circle cx="237.1" cy="313.9" r=".9" fill="#6be4c0"/><circle cx="241.4" cy="315.4" r=".9" fill="#6be4c0"/><circle cx="240.6" cy="339.6" r=".9" fill="#6be4c0"/><circle cx="245.0" cy="349.3" r=".9" fill="#6be4c0"/><circle cx="241.7" cy="317.3" r=".9" fill="#6be4c0"/><circle cx="272.9" cy="334.2" r=".9" fill="#6be4c0"/><circle cx="277.2" cy="345.9" r=".9" fill="#6be4c0"/><circle cx="239.7" cy="358.2" r=".9" fill="#6be4c0"/><circle cx="229.6" cy="353.5" r=".9" fill="#6be4c0"/><circle cx="262.5" cy="352.2" r=".9" fill="#6be4c0"/><circle cx="255.2" cy="328.7" r=".9" fill="#6be4c0"/><circle cx="253.5" cy="316.7" r=".9" fill="#6be4c0"/><circle cx="241.1" cy="340.2" r=".9" fill="#6be4c0"/><circle cx="258.5" cy="326.0" r=".9" fill="#6be4c0"/><circle cx="256.1" cy="309.1" r=".9" fill="#72e7b6"/><circle cx="228.1" cy="352.1" r=".9" fill="#72e7b6"/><circle cx="252.2" cy="312.4" r=".9" fill="#72e7b6"/><circle cx="231.0" cy="347.5" r=".9" fill="#72e7b6"/><circle cx="253.0" cy="309.8" r=".9" fill="#72e7b6"/><circle cx="270.2" cy="347.3" r=".9" fill="#72e7b6"/><circle cx="245.2" cy="351.1" r=".9" fill="#72e7b6"/><circle cx="252.8" cy="310.6" r=".9" fill="#72e7b6"/><circle cx="266.5" cy="349.7" r=".9" fill="#72e7b6"/><circle cx="249.9" cy="331.7" r=".9" fill="#72e7b6"/><circle cx="241.3" cy="338.8" r=".9" fill="#72e7b6"/><circle cx="228.7" cy="352.9" r=".9" fill="#72e7b6"/><circle cx="245.8" cy="336.9" r=".9" fill="#72e7b6"/><circle cx="243.0" cy="347.1" r=".9" fill="#72e7b6"/><circle cx="228.4" cy="352.3" r=".9" fill="#72e7b6"/><circle cx="255.4" cy="326.6" r=".9" fill="#72e7b6"/><circle cx="257.8" cy="328.6" r=".9" fill="#72e7b6"/><circle cx="252.7" cy="347.1" r=".9" fill="#72e7b6"/><circle cx="247.2" cy="326.9" r=".9" fill="#72e7b6"/><circle cx="247.5" cy="352.7" r=".9" fill="#72e7b6"/><circle cx="250.3" cy="332.1" r=".9" fill="#7ae9ac"/><circle cx="242.6" cy="339.1" r=".9" fill="#7ae9ac"/><circle cx="256.6" cy="324.0" r=".9" fill="#7ae9ac"/><circle cx="256.0" cy="310.1" r=".9" fill="#7ae9ac"/><circle cx="249.8" cy="341.4" r=".9" fill="#7ae9ac"/><circle cx="235.1" cy="321.7" r=".9" fill="#7ae9ac"/><circle cx="252.6" cy="328.9" r=".9" fill="#7ae9ac"/><circle cx="274.7" cy="343.4" r=".9" fill="#7ae9ac"/><circle cx="251.9" cy="314.2" r=".9" fill="#7ae9ac"/><circle cx="268.5" cy="348.1" r=".9" fill="#7ae9ac"/><circle cx="250.5" cy="332.9" r=".9" fill="#7ae9ac"/><circle cx="242.0" cy="342.9" r=".9" fill="#7ae9ac"/><circle cx="240.0" cy="332.7" r=".9" fill="#7ae9ac"/><circle cx="249.3" cy="329.7" r=".9" fill="#7ae9ac"/><circle cx="252.7" cy="311.8" r=".9" fill="#7ae9ac"/><circle cx="238.9" cy="343.7" r=".9" fill="#7ae9ac"/><circle cx="248.8" cy="328.2" r=".9" fill="#7ae9ac"/><circle cx="246.4" cy="343.3" r=".9" fill="#7ae9ac"/><circle cx="246.3" cy="354.0" r=".9" fill="#7ae9ac"/><circle cx="250.7" cy="331.7" r=".9" fill="#81eca3"/><circle cx="269.6" cy="346.3" r=".9" fill="#81eca3"/><circle cx="263.6" cy="329.1" r=".9" fill="#81eca3"/><circle cx="251.4" cy="334.0" r=".9" fill="#81eca3"/><circle cx="238.6" cy="332.5" r=".9" fill="#81eca3"/><circle cx="240.6" cy="320.0" r=".9" fill="#81eca3"/><circle cx="247.1" cy="329.1" r=".9" fill="#81eca3"/><circle cx="271.3" cy="333.7" r=".9" fill="#81eca3"/><circle cx="240.9" cy="338.2" r=".9" fill="#81eca3"/><circle cx="233.5" cy="356.8" r=".9" fill="#81eca3"/><circle cx="233.6" cy="329.5" r=".9" fill="#81eca3"/><circle cx="255.3" cy="309.4" r=".9" fill="#81eca3"/><circle cx="230.6" cy="353.8" r=".9" fill="#81eca3"/><circle cx="239.8" cy="334.9" r=".9" fill="#89ee99"/><circle cx="246.7" cy="338.9" r=".9" fill="#89ee99"/><circle cx="251.4" cy="344.4" r=".9" fill="#89ee99"/><circle cx="250.2" cy="342.3" r=".9" fill="#89ee99"/><circle cx="238.0" cy="344.6" r=".9" fill="#89ee99"/><circle cx="250.8" cy="343.8" r=".9" fill="#89ee99"/><circle cx="252.5" cy="345.7" r=".9" fill="#89ee99"/><circle cx="236.5" cy="346.1" r=".9" fill="#89ee99"/><circle cx="267.5" cy="347.1" r=".9" fill="#89ee99"/><circle cx="255.6" cy="313.8" r=".9" fill="#89ee99"/><circle cx="255.2" cy="310.4" r=".9" fill="#89ee99"/><circle cx="259.9" cy="349.0" r=".9" fill="#89ee99"/><circle cx="254.0" cy="329.9" r=".9" fill="#89ee99"/><circle cx="245.1" cy="329.2" r=".9" fill="#89ee99"/><circle cx="272.5" cy="342.2" r=".9" fill="#89ee99"/><circle cx="239.2" cy="333.3" r=".9" fill="#89ee99"/><circle cx="271.8" cy="343.4" r=".9" fill="#89ee99"/><circle cx="242.4" cy="347.0" r=".9" fill="#89ee99"/><circle cx="239.1" cy="322.1" r=".9" fill="#89ee99"/><circle cx="237.1" cy="346.6" r=".9" fill="#89ee99"/><circle cx="250.4" cy="327.3" r=".9" fill="#89ee99"/><circle cx="246.1" cy="339.3" r=".9" fill="#93ef90"/><circle cx="256.5" cy="348.4" r=".9" fill="#93ef90"/><circle cx="246.0" cy="338.5" r=".9" fill="#93ef90"/><circle cx="231.1" cy="348.1" r=".9" fill="#93ef90"/><circle cx="232.8" cy="348.2" r=".9" fill="#93ef90"/><circle cx="258.5" cy="349.0" r=".9" fill="#93ef90"/><circle cx="255.0" cy="311.1" r=".9" fill="#93ef90"/><circle cx="234.8" cy="326.7" r=".9" fill="#93ef90"/><circle cx="236.4" cy="347.0" r=".9" fill="#93ef90"/><circle cx="271.0" cy="333.6" r=".9" fill="#93ef90"/><circle cx="245.1" cy="335.9" r=".9" fill="#93ef90"/><circle cx="273.1" cy="338.0" r=".9" fill="#93ef90"/><circle cx="270.2" cy="331.9" r=".9" fill="#93ef90"/><circle cx="243.6" cy="327.7" r=".9" fill="#9fef87"/><circle cx="242.9" cy="323.0" r=".9" fill="#9fef87"/><circle cx="254.4" cy="335.0" r=".9" fill="#9fef87"/><circle cx="253.9" cy="335.7" r=".9" fill="#9fef87"/><circle cx="243.1" cy="335.1" r=".9" fill="#9fef87"/><circle cx="236.8" cy="354.9" r=".9" fill="#9fef87"/><circle cx="255.9" cy="348.7" r=".9" fill="#9fef87"/><circle cx="244.3" cy="337.7" r=".9" fill="#9fef87"/><circle cx="252.7" cy="327.8" r=".9" fill="#9fef87"/><circle cx="254.8" cy="348.0" r=".9" fill="#9fef87"/><circle cx="257.1" cy="313.5" r=".9" fill="#9fef87"/><circle cx="242.3" cy="354.0" r=".9" fill="#9fef87"/><circle cx="241.6" cy="354.2" r=".9" fill="#9fef87"/><circle cx="239.8" cy="323.4" r=".9" fill="#9fef87"/><circle cx="256.8" cy="313.1" r=".9" fill="#9fef87"/><circle cx="252.8" cy="336.7" r=".9" fill="#9fef87"/><circle cx="238.2" cy="346.9" r=".9" fill="#9fef87"/><circle cx="234.7" cy="324.3" r=".9" fill="#9fef87"/><circle cx="246.5" cy="333.9" r=".9" fill="#9fef87"/><circle cx="243.0" cy="352.6" r=".9" fill="#9fef87"/><circle cx="248.5" cy="338.7" r=".9" fill="#9fef87"/><circle cx="250.0" cy="339.2" r=".9" fill="#9fef87"/><circle cx="247.1" cy="333.6" r=".9" fill="#abef7f"/><circle cx="237.2" cy="355.4" r=".9" fill="#abef7f"/><circle cx="242.1" cy="347.9" r=".9" fill="#abef7f"/><circle cx="235.4" cy="326.3" r=".9" fill="#abef7f"/><circle cx="242.3" cy="324.3" r=".9" fill="#abef7f"/><circle cx="244.4" cy="335.3" r=".9" fill="#abef7f"/><circle cx="253.9" cy="338.0" r=".9" fill="#abef7f"/><circle cx="244.4" cy="335.4" r=".9" fill="#abef7f"/><circle cx="241.3" cy="333.9" r=".9" fill="#abef7f"/><circle cx="234.3" cy="347.9" r=".9" fill="#abef7f"/><circle cx="246.1" cy="332.1" r=".9" fill="#abef7f"/><circle cx="242.3" cy="331.5" r=".9" fill="#abef7f"/><circle cx="262.3" cy="330.7" r=".9" fill="#abef7f"/><circle cx="234.6" cy="348.1" r=".9" fill="#abef7f"/><circle cx="245.7" cy="330.0" r=".9" fill="#abef7f"/><circle cx="254.9" cy="336.1" r=".9" fill="#abef7f"/><circle cx="256.1" cy="331.4" r=".9" fill="#b7ef76"/><circle cx="234.6" cy="347.3" r=".9" fill="#b7ef76"/><circle cx="249.3" cy="338.8" r=".9" fill="#b7ef76"/><circle cx="244.5" cy="327.1" r=".9" fill="#b7ef76"/><circle cx="234.4" cy="347.6" r=".9" fill="#b7ef76"/><circle cx="240.5" cy="324.7" r=".9" fill="#b7ef76"/><circle cx="236.2" cy="329.3" r=".9" fill="#b7ef76"/><circle cx="233.2" cy="354.6" r=".9" fill="#b7ef76"/><circle cx="236.0" cy="327.5" r=".9" fill="#b7ef76"/><circle cx="258.3" cy="348.5" r=".9" fill="#b7ef76"/><circle cx="237.4" cy="326.5" r=".9" fill="#b7ef76"/><circle cx="241.3" cy="353.5" r=".9" fill="#c2ef6e"/><circle cx="231.4" cy="352.2" r=".9" fill="#c2ef6e"/><circle cx="237.4" cy="331.3" r=".9" fill="#c2ef6e"/><circle cx="237.3" cy="353.5" r=".9" fill="#c2ef6e"/><circle cx="236.9" cy="353.4" r=".9" fill="#ceee65"/><circle cx="260.4" cy="347.6" r=".9" fill="#ceee65"/><circle cx="239.9" cy="325.8" r=".9" fill="#ceee65"/><circle cx="252.0" cy="338.3" r=".9" fill="#ceee65"/><circle cx="236.7" cy="328.6" r=".9" fill="#ceee65"/><circle cx="263.2" cy="331.6" r=".9" fill="#ceee65"/><circle cx="236.8" cy="328.8" r=".9" fill="#ceee65"/><circle cx="237.1" cy="325.6" r=".9" fill="#ceee65"/><circle cx="236.5" cy="354.1" r=".9" fill="#d9ee5d"/><circle cx="267.8" cy="345.3" r=".9" fill="#d9ee5d"/><circle cx="238.6" cy="325.6" r=".9" fill="#d9ee5d"/><circle cx="254.9" cy="337.8" r=".9" fill="#d9ee5d"/><circle cx="237.5" cy="330.4" r=".9" fill="#d9ee5d"/><circle cx="238.0" cy="354.7" r=".9" fill="#d9ee5d"/><circle cx="237.6" cy="330.0" r=".9" fill="#d9ee5d"/><circle cx="242.2" cy="331.1" r=".9" fill="#d9ee5d"/><circle cx="239.1" cy="325.5" r=".9" fill="#d9ee5d"/><circle cx="239.8" cy="324.9" r=".9" fill="#e5ee55"/><circle cx="266.6" cy="346.2" r=".9" fill="#e5ee55"/><circle cx="238.6" cy="326.4" r=".9" fill="#e5ee55"/><circle cx="239.8" cy="351.3" r=".9" fill="#e5ee55"/><circle cx="239.9" cy="326.2" r=".9" fill="#e5ee55"/><circle cx="258.8" cy="331.9" r=".9" fill="#e5ee55"/><circle cx="241.4" cy="352.6" r=".9" fill="#f0ee4c"/><circle cx="259.9" cy="333.1" r=".9" fill="#f0ee4c"/><circle cx="251.9" cy="341.3" r=".9" fill="#f0ee4c"/><circle cx="270.5" cy="339.5" r=".9" fill="#f0ee4c"/><circle cx="237.8" cy="348.8" r=".9" fill="#f0ee4c"/><circle cx="232.3" cy="350.7" r=".9" fill="#f0ee4c"/><circle cx="255.8" cy="346.5" r=".9" fill="#f0ee4c"/><circle cx="239.5" cy="327.1" r=".9" fill="#faec45"/><circle cx="253.3" cy="341.9" r=".9" fill="#faec45"/><circle cx="237.3" cy="349.6" r=".9" fill="#faec45"/><circle cx="238.4" cy="351.8" r=".9" fill="#faec45"/><circle cx="235.4" cy="351.0" r=".9" fill="#faec45"/><circle cx="239.9" cy="327.7" r=".9" fill="#faec45"/><circle cx="234.0" cy="352.7" r=".9" fill="#faec45"/><circle cx="269.3" cy="342.7" r=".9" fill="#faec45"/><circle cx="240.9" cy="328.7" r=".9" fill="#faec45"/><circle cx="253.8" cy="339.4" r=".9" fill="#faec45"/><circle cx="233.8" cy="352.5" r=".9" fill="#fae343"/><circle cx="268.4" cy="334.9" r=".9" fill="#fae343"/><circle cx="268.9" cy="335.3" r=".9" fill="#fae343"/><circle cx="255.7" cy="339.6" r=".9" fill="#fada41"/><circle cx="255.2" cy="343.9" r=".9" fill="#fada41"/><circle cx="261.8" cy="333.1" r=".9" fill="#fada41"/><circle cx="232.5" cy="352.8" r=".9" fill="#fada41"/><circle cx="266.0" cy="331.7" r=".9" fill="#fada41"/><circle cx="262.3" cy="333.0" r=".9" fill="#fada41"/><circle cx="237.2" cy="351.0" r=".9" fill="#fada41"/><circle cx="262.9" cy="346.9" r=".9" fill="#fada41"/><circle cx="236.7" cy="351.9" r=".9" fill="#fada41"/><circle cx="241.5" cy="329.2" r=".9" fill="#fada41"/><circle cx="254.7" cy="343.3" r=".9" fill="#fada41"/><circle cx="237.6" cy="350.5" r=".9" fill="#fad13e"/><circle cx="268.8" cy="334.6" r=".9" fill="#fad13e"/><circle cx="237.8" cy="350.0" r=".9" fill="#fad13e"/><circle cx="267.7" cy="343.3" r=".9" fill="#fac83c"/><circle cx="263.7" cy="332.5" r=".9" fill="#fac83c"/><circle cx="260.0" cy="334.0" r=".9" fill="#fac83c"/><circle cx="263.4" cy="332.7" r=".9" fill="#fac83c"/><circle cx="239.8" cy="349.3" r=".9" fill="#fac83c"/><circle cx="263.6" cy="346.2" r=".9" fill="#fac83c"/><circle cx="268.1" cy="335.1" r=".9" fill="#fac83c"/><circle cx="255.6" cy="344.1" r=".9" fill="#fabf3a"/><circle cx="262.2" cy="333.6" r=".9" fill="#fabf3a"/><circle cx="261.6" cy="333.6" r=".9" fill="#fabf3a"/><circle cx="268.5" cy="336.5" r=".9" fill="#fabf3a"/><circle cx="261.1" cy="346.5" r=".9" fill="#fabf3a"/><circle cx="256.5" cy="342.2" r=".9" fill="#fab738"/><circle cx="256.5" cy="338.3" r=".9" fill="#fab738"/><circle cx="255.7" cy="342.4" r=".9" fill="#faae35"/><circle cx="267.8" cy="336.0" r=".9" fill="#faae35"/><circle cx="255.9" cy="340.9" r=".9" fill="#faa533"/><circle cx="268.1" cy="336.7" r=".9" fill="#faa533"/><circle cx="257.8" cy="345.3" r=".9" fill="#faa533"/><circle cx="261.8" cy="334.9" r=".9" fill="#fa9d31"/><circle cx="267.9" cy="338.4" r=".9" fill="#fa9d31"/><circle cx="259.9" cy="335.0" r=".9" fill="#fa942f"/><circle cx="263.0" cy="344.7" r=".9" fill="#fa942f"/><circle cx="257.8" cy="337.9" r=".9" fill="#fa8c2d"/><circle cx="264.4" cy="333.3" r=".9" fill="#fa8c2d"/><circle cx="265.5" cy="344.1" r=".9" fill="#fa8c2d"/><circle cx="257.5" cy="343.3" r=".9" fill="#fa8c2d"/><circle cx="256.9" cy="343.5" r=".9" fill="#fa8c2d"/><circle cx="257.0" cy="340.4" r=".9" fill="#fa8c2d"/><circle cx="262.1" cy="345.0" r=".9" fill="#fa832b"/><circle cx="258.3" cy="344.0" r=".9" fill="#fa832b"/><circle cx="264.9" cy="344.4" r=".9" fill="#fa832b"/><circle cx="265.4" cy="344.1" r=".9" fill="#fa832b"/><circle cx="264.3" cy="343.6" r=".9" fill="#fa832b"/><circle cx="267.7" cy="341.0" r=".9" fill="#fa832b"/><circle cx="261.3" cy="344.6" r=".9" fill="#fa7b28"/><circle cx="265.9" cy="335.2" r=".9" fill="#fa7b28"/><circle cx="267.3" cy="338.5" r=".9" fill="#fa7b28"/><circle cx="266.7" cy="342.2" r=".9" fill="#fa7b28"/><circle cx="267.0" cy="339.4" r=".9" fill="#f87327"/><circle cx="258.7" cy="336.4" r=".9" fill="#f87327"/><circle cx="260.6" cy="344.7" r=".9" fill="#f66a26"/><circle cx="257.5" cy="340.3" r=".9" fill="#f66a26"/><circle cx="265.8" cy="335.7" r=".9" fill="#f66a26"/><circle cx="263.5" cy="334.0" r=".9" fill="#f66a26"/><circle cx="261.2" cy="335.8" r=".9" fill="#f66a26"/><circle cx="259.9" cy="344.6" r=".9" fill="#f36125"/><circle cx="267.3" cy="339.4" r=".9" fill="#f36125"/><circle cx="266.1" cy="340.8" r=".9" fill="#f36125"/><circle cx="264.1" cy="334.2" r=".9" fill="#f15824"/><circle cx="259.6" cy="336.1" r=".9" fill="#ee4f23"/><circle cx="265.9" cy="336.4" r=".9" fill="#ee4f23"/><circle cx="259.1" cy="341.1" r=".9" fill="#ec4722"/><circle cx="264.0" cy="343.3" r=".9" fill="#ec4722"/><circle cx="260.4" cy="343.8" r=".9" fill="#e93e21"/><circle cx="259.7" cy="342.3" r=".9" fill="#e93e21"/><circle cx="260.5" cy="343.0" r=".9" fill="#e73520"/><circle cx="265.5" cy="341.4" r=".9" fill="#e52d1f"/><circle cx="260.1" cy="338.5" r=".9" fill="#e2241e"/><circle cx="264.6" cy="341.6" r=".9" fill="#e2241e"/><circle cx="264.7" cy="341.8" r=".9" fill="#e2241e"/><circle cx="263.6" cy="341.6" r=".9" fill="#de1d1d"/><circle cx="260.4" cy="339.0" r=".9" fill="#de1d1d"/><circle cx="260.0" cy="339.9" r=".9" fill="#de1d1d"/><circle cx="260.2" cy="339.8" r=".9" fill="#d41a1a"/><circle cx="264.1" cy="340.8" r=".9" fill="#d41a1a"/><circle cx="265.2" cy="337.1" r=".9" fill="#d41a1a"/><circle cx="262.5" cy="342.3" r=".9" fill="#d41a1a"/><circle cx="261.8" cy="338.2" r=".9" fill="#c91717"/><circle cx="262.0" cy="337.9" r=".9" fill="#c91717"/><circle cx="265.0" cy="338.7" r=".9" fill="#c91717"/><circle cx="260.3" cy="341.2" r=".9" fill="#c91717"/><circle cx="262.5" cy="341.0" r=".9" fill="#bf1515"/><circle cx="264.7" cy="337.4" r=".9" fill="#bf1515"/><circle cx="264.6" cy="337.6" r=".9" fill="#bf1515"/><circle cx="259.5" cy="339.9" r=".9" fill="#bf1515"/><circle cx="264.1" cy="339.2" r=".9" fill="#bf1515"/><circle cx="263.2" cy="340.1" r=".9" fill="#bf1515"/><circle cx="264.5" cy="337.2" r=".9" fill="#b41212"/><circle cx="263.2" cy="336.1" r=".9" fill="#b41212"/><circle cx="261.8" cy="341.1" r=".9" fill="#aa0f0f"/><circle cx="264.0" cy="337.2" r=".9" fill="#aa0f0f"/><circle cx="262.8" cy="339.4" r=".9" fill="#a00c0c"/><circle cx="263.5" cy="338.7" r=".9" fill="#960a0a"/><circle cx="263.2" cy="339.4" r=".9" fill="#960a0a"/></g>
<rect x="207.8" y="375.8" width="19" height="2.8" fill="#000"/>
<text x="206.8" y="373.6" font-size="8" fill="#222" text-anchor="start" textLength="22.0" lengthAdjust="spacingAndGlyphs" >50 nm</text>
<text x="239.3" y="278.9" font-size="8.5" fill="#222" text-anchor="middle" textLength="37.3" lengthAdjust="spacingAndGlyphs" >Munc13-1</text>
<text x="239.7" y="288" font-size="8.5" fill="#222" text-anchor="middle" textLength="49.5" lengthAdjust="spacingAndGlyphs" >localizations</text>
<text x="341" y="278.9" font-size="8.5" fill="#222" text-anchor="middle" textLength="24.8" lengthAdjust="spacingAndGlyphs" >Ca<tspan font-size="70%" dy="1.5">V</tspan><tspan dy="-1.5">2.1</tspan></text>
<text x="341" y="288" font-size="8.5" fill="#222" text-anchor="middle" textLength="50.6" lengthAdjust="spacingAndGlyphs" >localizations</text>
<text x="455.7" y="278.6" font-size="8.5" fill="#222" text-anchor="middle" textLength="99.0" lengthAdjust="spacingAndGlyphs" >Munc13-1  localizations +</text>
<text x="457.2" y="288.3" font-size="8.5" fill="#999" text-anchor="middle" textLength="78.6" lengthAdjust="spacingAndGlyphs" >Ca<tspan font-size="70%" dy="1.5">V</tspan><tspan dy="-1.5">2.1</tspan> nanoclusters</text>
<rect x="499.1" y="303.4" width="6.2" height="82.2" fill="url(#jet)"/>
<text x="507.8" y="308.8" font-size="8" fill="#222" text-anchor="start" textLength="4.8" lengthAdjust="spacingAndGlyphs" >1</text>
<text x="507.8" y="386.6" font-size="8" fill="#222" text-anchor="start" textLength="4.8" lengthAdjust="spacingAndGlyphs" >0</text>
<text x="517.2" y="344.3" font-size="8.5" fill="#222" text-anchor="middle" transform="rotate(-90 517.2 344.3)" textLength="51.8" lengthAdjust="spacingAndGlyphs" >Local density</text>
<line x1="561.50" y1="267.00" x2="561.50" y2="369.50" stroke="#6a6a6a" stroke-width="0.9" />
<line x1="561.50" y1="373.50" x2="561.50" y2="377.50" stroke="#6a6a6a" stroke-width="0.9" />
<line x1="561.50" y1="377.50" x2="671.60" y2="377.50" stroke="#6a6a6a" stroke-width="0.9" />
<line x1="559.30" y1="370.70" x2="563.80" y2="368.50" stroke="#6a6a6a" stroke-width="0.9" />
<line x1="559.30" y1="374.70" x2="563.80" y2="372.50" stroke="#6a6a6a" stroke-width="0.9" />
<line x1="558.50" y1="334.50" x2="561.70" y2="334.50" stroke="#6a6a6a" stroke-width="0.9" />
<text x="557.6" y="337.1" font-size="7.2" fill="#222" text-anchor="end" textLength="10.7" lengthAdjust="spacingAndGlyphs" >1.0</text>
<line x1="558.50" y1="280.40" x2="561.70" y2="280.40" stroke="#6a6a6a" stroke-width="0.9" />
<text x="557.6" y="283.0" font-size="7.2" fill="#222" text-anchor="end" textLength="10.7" lengthAdjust="spacingAndGlyphs" >1.5</text>
<line x1="561.70" y1="377.50" x2="561.70" y2="380.50" stroke="#6a6a6a" stroke-width="0.9" />
<text x="561.7" y="389.8" font-size="7.2" fill="#222" text-anchor="middle" textLength="4.3" lengthAdjust="spacingAndGlyphs" >0</text>
<line x1="589.18" y1="377.50" x2="589.18" y2="380.50" stroke="#6a6a6a" stroke-width="0.9" />
<text x="589.1750000000001" y="389.8" font-size="7.2" fill="#222" text-anchor="middle" textLength="8.6" lengthAdjust="spacingAndGlyphs" >50</text>
<line x1="616.65" y1="377.50" x2="616.65" y2="380.50" stroke="#6a6a6a" stroke-width="0.9" />
<text x="616.6500000000001" y="389.8" font-size="7.2" fill="#222" text-anchor="middle" textLength="12.9" lengthAdjust="spacingAndGlyphs" >100</text>
<line x1="644.12" y1="377.50" x2="644.12" y2="380.50" stroke="#6a6a6a" stroke-width="0.9" />
<text x="644.125" y="389.8" font-size="7.2" fill="#222" text-anchor="middle" textLength="12.9" lengthAdjust="spacingAndGlyphs" >150</text>
<line x1="671.60" y1="377.50" x2="671.60" y2="380.50" stroke="#6a6a6a" stroke-width="0.9" />
<text x="671.6" y="389.8" font-size="7.2" fill="#222" text-anchor="middle" textLength="12.9" lengthAdjust="spacingAndGlyphs" >200</text>
<line x1="561.70" y1="334.50" x2="671.60" y2="334.50" stroke="#333" stroke-width="0.8" stroke-dasharray="4 2.5"/>
<polygon points="564.4,274.9 566.1,278.1 568.3,283.5 570.5,297.6 572.7,310.6 575.4,324.6 578.2,332.2 580.9,338.7 583.7,343.6 586.4,344.6 589.2,345.7 591.9,347.3 594.7,343.6 597.4,345.7 600.2,344.6 602.9,345.2 605.7,344.6 608.4,345.2 611.2,346.3 613.9,347.3 616.7,347.3 619.4,345.7 622.1,343.0 624.9,340.3 627.6,343.6 630.4,346.8 633.1,345.7 635.9,344.6 638.6,345.2 641.4,339.2 644.1,342.5 646.9,339.0 649.6,338.5 652.4,334.7 655.1,339.6 657.9,338.5 660.6,337.4 663.4,336.9 666.1,337.4 668.9,335.2 671.6,332.5 671.6,339.7 668.9,342.4 666.1,344.6 663.4,344.1 660.6,344.6 657.9,345.7 655.1,346.8 652.4,341.9 649.6,345.7 646.9,346.2 644.1,347.1 641.4,343.8 638.6,349.8 635.9,349.2 633.1,350.3 630.4,351.4 627.6,348.2 624.9,344.9 622.1,347.6 619.4,350.3 616.7,351.9 613.9,351.9 611.2,350.9 608.4,349.8 605.7,349.2 602.9,349.8 600.2,349.2 597.4,350.3 594.7,348.2 591.9,351.9 589.2,350.3 586.4,349.2 583.7,348.2 580.9,343.3 578.2,336.8 575.4,329.2 572.7,315.2 570.5,302.2 568.3,288.1 566.1,282.7 564.4,279.5" fill="#f2963c" opacity="0.45"/>
<polyline points="564.4,277.2 566.1,280.4 568.3,285.8 570.5,299.9 572.7,312.9 575.4,326.9 578.2,334.5 580.9,341.0 583.7,345.9 586.4,346.9 589.2,348.0 591.9,349.6 594.7,345.9 597.4,348.0 600.2,346.9 602.9,347.5 605.7,346.9 608.4,347.5 611.2,348.6 613.9,349.6 616.7,349.6 619.4,348.0 622.1,345.3 624.9,342.6 627.6,345.9 630.4,349.1 633.1,348.0 635.9,346.9 638.6,347.5 641.4,341.5 644.1,344.8 646.9,342.6 649.6,342.1 652.4,338.3 655.1,343.2 657.9,342.1 660.6,341.0 663.4,340.5 666.1,341.0 668.9,338.8 671.6,336.1" fill="none" stroke="#e8883a" stroke-width="1.2" stroke-linejoin="round" stroke-linecap="round" />
<polygon points="564.4,278.8 567.2,283.1 572.7,293.9 578.2,304.8 583.7,313.4 589.2,317.8 594.7,322.1 600.2,325.3 605.7,328.6 611.2,332.9 616.7,336.1 622.1,339.4 627.6,342.6 633.1,345.3 638.6,348.0 641.4,347.6 644.1,347.0 649.6,347.0 652.4,348.1 655.1,347.6 657.9,349.2 660.6,348.1 663.4,347.6 666.1,348.1 668.9,349.2 671.6,351.4 671.6,356.6 668.9,354.4 666.1,353.3 663.4,352.8 660.6,353.3 657.9,354.4 655.1,352.8 652.4,353.3 649.6,352.2 644.1,352.2 641.4,352.8 638.6,351.2 633.1,348.5 627.6,345.8 622.1,342.6 616.7,339.3 611.2,336.1 605.7,331.8 600.2,328.5 594.7,325.3 589.2,321.0 583.7,316.6 578.2,308.0 572.7,297.1 567.2,286.3 564.4,282.0" fill="#3a50e0" opacity="0.4"/>
<polyline points="564.4,280.4 567.2,284.7 572.7,295.5 578.2,306.4 583.7,315.0 589.2,319.4 594.7,323.7 600.2,326.9 605.7,330.2 611.2,334.5 616.7,337.7 622.1,341.0 627.6,344.2 633.1,346.9 638.6,349.6 641.4,350.2 644.1,349.6 649.6,349.6 652.4,350.7 655.1,350.2 657.9,351.8 660.6,350.7 663.4,350.2 666.1,350.7 668.9,351.8 671.6,354.0" fill="none" stroke="#3247d6" stroke-width="1.6" stroke-linejoin="round" stroke-linecap="round" />
<rect x="595" y="267" width="9" height="7.2" fill="#3a50e0" opacity="0.4"/>
<line x1="595.00" y1="270.60" x2="604.00" y2="270.60" stroke="#3247d6" stroke-width="1.2" />
<rect x="595" y="282.7" width="9" height="7.2" fill="#f2963c" opacity="0.45"/>
<line x1="595.00" y1="286.30" x2="604.00" y2="286.30" stroke="#e8883a" stroke-width="1.2" />
<text x="607" y="273.5" font-size="8.3" fill="#222" text-anchor="start" textLength="37.0" lengthAdjust="spacingAndGlyphs" >Munc13-1</text>
<text x="607" y="289.2" font-size="8.3" fill="#222" text-anchor="start" textLength="25.0" lengthAdjust="spacingAndGlyphs" >Ca<tspan font-size="70%" dy="1.5">V</tspan><tspan dy="-1.5">2.1</tspan></text>
<text x="616.9" y="404.3" font-size="8.5" fill="#222" text-anchor="middle" textLength="65.0" lengthAdjust="spacingAndGlyphs" >Shift radius (nm)</text>
<text x="538.6" y="319.5" font-size="8.5" fill="#222" text-anchor="middle" textLength="89" lengthAdjust="spacingAndGlyphs" transform="rotate(-90 538.6 319.5)">Autocorrelation (g<tspan font-size="70%" dy="1.5">a</tspan><tspan dy="-1.5">(r))</tspan></text>
<line x1="37.60" y1="430.00" x2="37.60" y2="548.40" stroke="#6a6a6a" stroke-width="0.9" />
<line x1="34.30" y1="548.40" x2="37.60" y2="548.40" stroke="#6a6a6a" stroke-width="0.9" />
<text x="31" y="551.0" font-size="7.2" fill="#222" text-anchor="end" textLength="4.3" lengthAdjust="spacingAndGlyphs" >0</text>
<line x1="34.30" y1="511.40" x2="37.60" y2="511.40" stroke="#6a6a6a" stroke-width="0.9" />
<text x="31" y="514.0" font-size="7.2" fill="#222" text-anchor="end" textLength="4.3" lengthAdjust="spacingAndGlyphs" >5</text>
<line x1="34.30" y1="474.40" x2="37.60" y2="474.40" stroke="#6a6a6a" stroke-width="0.9" />
<text x="31" y="477.0" font-size="7.2" fill="#222" text-anchor="end" textLength="8.6" lengthAdjust="spacingAndGlyphs" >10</text>
<line x1="34.30" y1="437.40" x2="37.60" y2="437.40" stroke="#6a6a6a" stroke-width="0.9" />
<text x="31" y="440.0" font-size="7.2" fill="#222" text-anchor="end" textLength="8.6" lengthAdjust="spacingAndGlyphs" >15</text>
<path d="M52.2,429.3 L52.2,459.6 L52.0,481.8 L51.8,492.9 L51.5,496.6 L50.8,504.0 L49.6,511.4 L47.4,518.8 L44.8,526.2 L43.6,529.9 L42.8,533.6 L42.2,537.3 L42.0,541.0 L42.2,544.0 L43.2,546.2 L44.9,547.7 L46.9,548.4 L57.9,548.4 L59.9,547.7 L61.6,546.2 L62.6,544.0 L62.8,541.0 L62.6,537.3 L62.0,533.6 L61.2,529.9 L60.0,526.2 L57.4,518.8 L55.2,511.4 L54.0,504.0 L53.3,496.6 L53.0,492.9 L52.8,481.8 L52.6,459.6 L52.5,429.3 Z" fill="#b0b8f6" stroke="#777" stroke-width="0.5" stroke-linejoin="round"/>
<path d="M88.5,495.9 L88.5,504.0 L88.2,509.9 L87.8,511.4 L86.9,515.1 L85.9,518.8 L83.9,526.2 L82.5,529.9 L80.2,533.6 L76.2,537.3 L73.2,539.5 L71.9,541.0 L71.1,543.2 L71.5,545.4 L72.5,546.9 L74.2,548.0 L76.2,548.4 L101.2,548.4 L103.2,548.0 L104.9,546.9 L105.9,545.4 L106.3,543.2 L105.5,541.0 L104.2,539.5 L101.2,537.3 L97.2,533.6 L94.9,529.9 L93.5,526.2 L91.5,518.8 L90.5,515.1 L89.6,511.4 L89.2,509.9 L89.0,504.0 L88.9,495.9 Z" fill="#fbcba3" stroke="#777" stroke-width="0.5" stroke-linejoin="round"/>
<line x1="40.30" y1="530.20" x2="64.50" y2="530.20" stroke="#000" stroke-width="1.1" />
<line x1="52.40" y1="529.00" x2="52.40" y2="531.40" stroke="#111" stroke-width="0.6" />
<line x1="48.40" y1="529.00" x2="56.40" y2="529.00" stroke="#111" stroke-width="0.6" />
<line x1="48.40" y1="531.40" x2="56.40" y2="531.40" stroke="#111" stroke-width="0.6" />
<line x1="79.00" y1="539.30" x2="98.40" y2="539.30" stroke="#000" stroke-width="1.1" />
<line x1="88.70" y1="538.70" x2="88.70" y2="539.90" stroke="#111" stroke-width="0.6" />
<line x1="84.70" y1="538.70" x2="92.70" y2="538.70" stroke="#111" stroke-width="0.6" />
<line x1="84.70" y1="539.90" x2="92.70" y2="539.90" stroke="#111" stroke-width="0.6" />
<text x="88.7" y="495" font-size="10.5" fill="#111" text-anchor="middle" textLength="13.1" lengthAdjust="spacingAndGlyphs" >***</text>
<text x="61" y="553.5" font-size="8" fill="#222" text-anchor="end" transform="rotate(-45 61 553.5)" textLength="38.8" lengthAdjust="spacingAndGlyphs" >Munc13-1</text>
<text x="98" y="553.5" font-size="8" fill="#222" text-anchor="end" transform="rotate(-45 98 553.5)" textLength="27.9" lengthAdjust="spacingAndGlyphs" >Ca<tspan font-size="70%" dy="1.5">V</tspan><tspan dy="-1.5">2.1</tspan></text>
<text x="7.6" y="490.6" font-size="8.5" fill="#222" text-anchor="middle" transform="rotate(-90 7.6 490.6)" textLength="50.4" lengthAdjust="spacingAndGlyphs" >Nanoclusters</text>
<text x="17.4" y="490.5" font-size="8.5" fill="#222" text-anchor="middle" transform="rotate(-90 17.4 490.5)" textLength="47.0" lengthAdjust="spacingAndGlyphs" >per synapse</text>
<line x1="155.40" y1="440.30" x2="155.40" y2="548.00" stroke="#6a6a6a" stroke-width="0.9" />
<line x1="152.00" y1="548.00" x2="155.40" y2="548.00" stroke="#6a6a6a" stroke-width="0.9" />
<text x="149.6" y="550.6" font-size="7.2" fill="#222" text-anchor="end" textLength="4.3" lengthAdjust="spacingAndGlyphs" >0</text>
<line x1="152.00" y1="521.12" x2="155.40" y2="521.12" stroke="#6a6a6a" stroke-width="0.9" />
<text x="149.6" y="523.725" font-size="7.2" fill="#222" text-anchor="end" textLength="8.6" lengthAdjust="spacingAndGlyphs" >25</text>
<line x1="152.00" y1="494.25" x2="155.40" y2="494.25" stroke="#6a6a6a" stroke-width="0.9" />
<text x="149.6" y="496.85" font-size="7.2" fill="#222" text-anchor="end" textLength="8.6" lengthAdjust="spacingAndGlyphs" >50</text>
<line x1="152.00" y1="467.38" x2="155.40" y2="467.38" stroke="#6a6a6a" stroke-width="0.9" />
<text x="149.6" y="469.975" font-size="7.2" fill="#222" text-anchor="end" textLength="8.6" lengthAdjust="spacingAndGlyphs" >75</text>
<line x1="152.00" y1="440.50" x2="155.40" y2="440.50" stroke="#6a6a6a" stroke-width="0.9" />
<text x="149.6" y="443.1" font-size="7.2" fill="#222" text-anchor="end" textLength="12.9" lengthAdjust="spacingAndGlyphs" >100</text>
<path d="M174.4,484.6 L174.1,487.8 L173.6,492.1 L172.4,499.6 L170.8,507.1 L168.6,515.8 L166.6,521.1 L164.1,526.5 L161.1,531.9 L159.1,535.1 L157.6,538.3 L157.0,540.5 L158.1,542.6 L161.6,544.2 L166.6,545.9 L171.6,546.9 L174.1,547.4 L175.1,547.4 L177.6,546.9 L182.6,545.9 L187.6,544.2 L191.1,542.6 L192.2,540.5 L191.6,538.3 L190.1,535.1 L188.1,531.9 L185.1,526.5 L182.6,521.1 L180.6,515.8 L178.4,507.1 L176.8,499.6 L175.6,492.1 L175.1,487.8 L174.8,484.6 Z" fill="#b0b8f6" stroke="#777" stroke-width="0.5" stroke-linejoin="round"/>
<path d="M208.8,448.0 L208.6,451.2 L208.2,456.6 L207.4,467.4 L206.6,478.1 L205.4,488.9 L204.0,499.6 L202.8,507.1 L201.0,515.8 L199.6,521.1 L198.4,526.5 L198.0,531.9 L198.8,536.2 L200.8,539.4 L204.0,542.6 L206.2,544.2 L208.2,545.3 L209.8,545.3 L211.8,544.2 L214.0,542.6 L217.2,539.4 L219.2,536.2 L220.0,531.9 L219.6,526.5 L218.4,521.1 L217.0,515.8 L215.2,507.1 L214.0,499.6 L212.6,488.9 L211.4,478.1 L210.6,467.4 L209.8,456.6 L209.4,451.2 L209.2,448.0 Z" fill="#fbcba3" stroke="#777" stroke-width="0.5" stroke-linejoin="round"/>
<line x1="161.60" y1="529.70" x2="187.40" y2="529.70" stroke="#000" stroke-width="1.1" />
<line x1="174.50" y1="529.20" x2="174.50" y2="530.20" stroke="#111" stroke-width="0.6" />
<line x1="170.50" y1="529.20" x2="178.50" y2="529.20" stroke="#111" stroke-width="0.6" />
<line x1="170.50" y1="530.20" x2="178.50" y2="530.20" stroke="#111" stroke-width="0.6" />
<line x1="195.60" y1="517.00" x2="222.00" y2="517.00" stroke="#000" stroke-width="1.1" />
<line x1="208.80" y1="515.40" x2="208.80" y2="518.60" stroke="#111" stroke-width="0.6" />
<line x1="204.80" y1="515.40" x2="212.80" y2="515.40" stroke="#111" stroke-width="0.6" />
<line x1="204.80" y1="518.60" x2="212.80" y2="518.60" stroke="#111" stroke-width="0.6" />
<text x="209" y="448" font-size="10.5" fill="#111" text-anchor="middle" textLength="13.1" lengthAdjust="spacingAndGlyphs" >***</text>
<text x="182" y="553.5" font-size="8" fill="#222" text-anchor="end" transform="rotate(-45 182 553.5)" textLength="38.8" lengthAdjust="spacingAndGlyphs" >Munc13-1</text>
<text x="217" y="553.5" font-size="8" fill="#222" text-anchor="end" transform="rotate(-45 217 553.5)" textLength="27.9" lengthAdjust="spacingAndGlyphs" >Ca<tspan font-size="70%" dy="1.5">V</tspan><tspan dy="-1.5">2.1</tspan></text>
<text x="122.4" y="494" font-size="8.5" fill="#222" text-anchor="middle" transform="rotate(-90 122.4 494)" textLength="47.0" lengthAdjust="spacingAndGlyphs" >Nanocluster</text>
<text x="132" y="494" font-size="8.5" fill="#222" text-anchor="middle" textLength="60.4" lengthAdjust="spacingAndGlyphs" transform="rotate(-90 132 494)">area (nm<tspan font-size="70%" dy="-2.5">2</tspan><tspan dy="2.5"> × 100)</tspan></text>
<rect x="275.9" y="511.1" width="125" height="44.5" fill="#d9d9d9"/>
<line x1="272.20" y1="423.20" x2="272.20" y2="541.00" stroke="#6a6a6a" stroke-width="0.9" />
<line x1="272.20" y1="545.50" x2="272.20" y2="555.60" stroke="#6a6a6a" stroke-width="0.9" />
<line x1="270.00" y1="542.30" x2="274.50" y2="540.10" stroke="#6a6a6a" stroke-width="0.9" />
<line x1="270.00" y1="546.40" x2="274.50" y2="544.20" stroke="#6a6a6a" stroke-width="0.9" />
<line x1="269.20" y1="510.90" x2="272.20" y2="510.90" stroke="#6a6a6a" stroke-width="0.9" />
<text x="266" y="513.5" font-size="7.2" fill="#222" text-anchor="end" textLength="10.7" lengthAdjust="spacingAndGlyphs" >1.0</text>
<line x1="269.20" y1="439.60" x2="272.20" y2="439.60" stroke="#6a6a6a" stroke-width="0.9" />
<text x="266" y="442.2" font-size="7.2" fill="#222" text-anchor="end" textLength="10.7" lengthAdjust="spacingAndGlyphs" >1.5</text>
<line x1="269.20" y1="555.60" x2="272.20" y2="555.60" stroke="#6a6a6a" stroke-width="0.9" />
<text x="266" y="558.2" font-size="7.2" fill="#222" text-anchor="end" textLength="4.3" lengthAdjust="spacingAndGlyphs" >0</text>
<line x1="276.00" y1="561.20" x2="276.00" y2="563.80" stroke="#6a6a6a" stroke-width="0.9" />
<text x="276" y="572.8" font-size="7.2" fill="#222" text-anchor="middle" textLength="8.6" lengthAdjust="spacingAndGlyphs" >15</text>
<line x1="308.00" y1="561.20" x2="308.00" y2="563.80" stroke="#6a6a6a" stroke-width="0.9" />
<text x="308" y="572.8" font-size="7.2" fill="#222" text-anchor="middle" textLength="8.6" lengthAdjust="spacingAndGlyphs" >50</text>
<line x1="353.70" y1="561.20" x2="353.70" y2="563.80" stroke="#6a6a6a" stroke-width="0.9" />
<text x="353.7" y="572.8" font-size="7.2" fill="#222" text-anchor="middle" textLength="12.9" lengthAdjust="spacingAndGlyphs" >100</text>
<line x1="399.30" y1="561.20" x2="399.30" y2="563.80" stroke="#6a6a6a" stroke-width="0.9" />
<text x="399.3" y="572.8" font-size="7.2" fill="#222" text-anchor="middle" textLength="12.9" lengthAdjust="spacingAndGlyphs" >150</text>
<line x1="275.90" y1="561.20" x2="399.60" y2="561.20" stroke="#6a6a6a" stroke-width="0.9" />
<line x1="275.90" y1="510.90" x2="400.90" y2="510.90" stroke="#555" stroke-width="0.8" stroke-dasharray="4 2.5"/>
<text x="279.8" y="522" font-size="8.5" fill="#8a8a8a" text-anchor="start" textLength="51.7" lengthAdjust="spacingAndGlyphs" >Not enriched</text>
<polygon points="276.6,434.7 285.6,451.6 295.3,475.1 303.8,488.0 312.3,491.6 322.0,500.8 331.7,493.6 340.2,497.0 349.9,497.0 359.6,507.4 369.3,515.9 377.8,518.3 386.2,506.7 395.9,504.2 400.8,505.0 400.8,516.6 395.9,515.8 386.2,518.3 377.8,525.1 369.3,522.7 359.6,514.2 349.9,503.8 340.2,503.8 331.7,500.4 322.0,507.6 312.3,498.4 303.8,494.8 295.3,481.9 285.6,460.8 276.6,447.7" fill="#f2963c" opacity="0.45"/>
<polyline points="276.6,441.2 285.6,456.2 295.3,478.5 303.8,491.4 312.3,495.0 322.0,504.2 331.7,497.0 340.2,500.4 349.9,500.4 359.6,510.8 369.3,519.3 377.8,521.7 386.2,512.5 395.9,510.0 400.8,510.8" fill="none" stroke="#e8883a" stroke-width="1.0" stroke-linejoin="round" stroke-linecap="round" />
<polygon points="276.6,428.8 285.6,441.5 295.3,468.8 303.8,480.4 312.3,479.7 322.0,488.2 332.9,487.5 341.0,489.8 349.9,493.0 359.6,502.0 369.3,506.4 379.0,513.6 388.7,515.6 400.8,518.5 400.8,524.9 388.7,522.0 379.0,520.0 369.3,512.8 359.6,508.4 349.9,499.4 341.0,496.2 332.9,493.9 322.0,494.6 312.3,486.1 303.8,486.8 295.3,475.2 285.6,451.5 276.6,443.8" fill="#3a50e0" opacity="0.4"/>
<polyline points="276.6,436.3 285.6,446.5 295.3,472.0 303.8,483.6 312.3,482.9 322.0,491.4 332.9,490.7 341.0,493.0 349.9,496.2 359.6,505.2 369.3,509.6 379.0,516.8 388.7,518.8 400.8,521.7" fill="none" stroke="#3247d6" stroke-width="1.5" stroke-linejoin="round" stroke-linecap="round" />
<rect x="292" y="421.5" width="8.4" height="7.6" fill="#3a50e0" opacity="0.4"/>
<line x1="292.00" y1="425.30" x2="300.40" y2="425.30" stroke="#3247d6" stroke-width="1.4" />
<rect x="292" y="436.6" width="8.4" height="7.6" fill="#f2963c" opacity="0.45"/>
<line x1="292.00" y1="440.40" x2="300.40" y2="440.40" stroke="#e8883a" stroke-width="1.4" />
<text x="303.5" y="428.2" font-size="8.5" fill="#222" text-anchor="start" textLength="68.4" lengthAdjust="spacingAndGlyphs" >Munc13-1 density</text>
<text x="303.5" y="442.7" font-size="8.5" fill="#222" text-anchor="start" textLength="56.4" lengthAdjust="spacingAndGlyphs" >Ca<tspan font-size="70%" dy="1.5">V</tspan><tspan dy="-1.5">2.1</tspan> density</text>
<text x="338.8" y="584.6" font-size="8.5" fill="#222" text-anchor="middle" textLength="106.5" lengthAdjust="spacingAndGlyphs" >Distance from nanocluster</text>
<text x="339" y="594" font-size="8.5" fill="#222" text-anchor="middle" textLength="104.0" lengthAdjust="spacingAndGlyphs" >peak of other protein (nm)</text>
<text x="238.6" y="495" font-size="8.5" fill="#222" text-anchor="middle" transform="rotate(-90 238.6 495)" textLength="109.0" lengthAdjust="spacingAndGlyphs" >Protein density (normalized</text>
<text x="247.6" y="495.3" font-size="8.5" fill="#222" text-anchor="middle" transform="rotate(-90 247.6 495.3)" textLength="96.7" lengthAdjust="spacingAndGlyphs" >to random distributions)</text>
<rect x="464.5" y="429.2" width="110.8" height="112.9" fill="#aeb7f8"/>
<line x1="446.00" y1="429.20" x2="446.00" y2="542.30" stroke="#6a6a6a" stroke-width="0.9" />
<line x1="446.00" y1="542.30" x2="575.30" y2="542.30" stroke="#6a6a6a" stroke-width="0.9" />
<line x1="442.80" y1="542.10" x2="446.00" y2="542.10" stroke="#6a6a6a" stroke-width="0.9" />
<text x="438.5" y="544.7" font-size="7.2" fill="#222" text-anchor="end" textLength="4.3" lengthAdjust="spacingAndGlyphs" >0</text>
<line x1="442.80" y1="485.65" x2="446.00" y2="485.65" stroke="#6a6a6a" stroke-width="0.9" />
<text x="438.5" y="488.25000000000006" font-size="7.2" fill="#222" text-anchor="end" textLength="8.6" lengthAdjust="spacingAndGlyphs" >50</text>
<line x1="442.80" y1="429.20" x2="446.00" y2="429.20" stroke="#6a6a6a" stroke-width="0.9" />
<text x="438.5" y="431.80000000000007" font-size="7.2" fill="#222" text-anchor="end" textLength="12.9" lengthAdjust="spacingAndGlyphs" >100</text>
<line x1="446.00" y1="542.10" x2="446.00" y2="545.30" stroke="#6a6a6a" stroke-width="0.9" />
<text x="446.0" y="555.6" font-size="7.2" fill="#222" text-anchor="middle" textLength="4.3" lengthAdjust="spacingAndGlyphs" >0</text>
<line x1="464.47" y1="542.10" x2="464.47" y2="545.30" stroke="#6a6a6a" stroke-width="0.9" />
<text x="464.47" y="555.6" font-size="7.2" fill="#222" text-anchor="middle" textLength="4.3" lengthAdjust="spacingAndGlyphs" >1</text>
<line x1="482.94" y1="542.10" x2="482.94" y2="545.30" stroke="#6a6a6a" stroke-width="0.9" />
<text x="482.94" y="555.6" font-size="7.2" fill="#222" text-anchor="middle" textLength="4.3" lengthAdjust="spacingAndGlyphs" >2</text>
<line x1="501.41" y1="542.10" x2="501.41" y2="545.30" stroke="#6a6a6a" stroke-width="0.9" />
<text x="501.40999999999997" y="555.6" font-size="7.2" fill="#222" text-anchor="middle" textLength="4.3" lengthAdjust="spacingAndGlyphs" >3</text>
<line x1="519.88" y1="542.10" x2="519.88" y2="545.30" stroke="#6a6a6a" stroke-width="0.9" />
<text x="519.88" y="555.6" font-size="7.2" fill="#222" text-anchor="middle" textLength="4.3" lengthAdjust="spacingAndGlyphs" >4</text>
<line x1="538.35" y1="542.10" x2="538.35" y2="545.30" stroke="#6a6a6a" stroke-width="0.9" />
<text x="538.35" y="555.6" font-size="7.2" fill="#222" text-anchor="middle" textLength="4.3" lengthAdjust="spacingAndGlyphs" >5</text>
<line x1="556.82" y1="542.10" x2="556.82" y2="545.30" stroke="#6a6a6a" stroke-width="0.9" />
<text x="556.8199999999999" y="555.6" font-size="7.2" fill="#222" text-anchor="middle" textLength="4.3" lengthAdjust="spacingAndGlyphs" >6</text>
<line x1="575.29" y1="542.10" x2="575.29" y2="545.30" stroke="#6a6a6a" stroke-width="0.9" />
<text x="575.29" y="555.6" font-size="7.2" fill="#222" text-anchor="middle" textLength="4.3" lengthAdjust="spacingAndGlyphs" >7</text>
<polyline points="446.0,542.1 447.8,541.5 449.7,539.8 451.5,535.3 453.4,528.6 455.2,522.9 457.1,517.3 458.9,513.9 460.8,509.4 462.6,503.7 464.5,499.2 466.3,493.6 468.2,489.0 470.0,483.4 471.9,478.9 473.7,476.6 475.6,472.1 477.4,468.7 479.2,465.3 481.1,461.9 482.9,459.7 484.8,456.3 486.6,452.9 488.5,451.8 490.3,450.1 492.2,449.5 494.0,447.3 497.7,444.4 501.4,441.6 503.3,439.9 507.0,437.7 510.6,436.5 514.3,435.4 518.0,433.7 519.9,432.6 523.6,431.5 529.1,430.8 538.4,430.3 547.6,429.9 556.8,429.5 566.1,429.3 575.3,429.2" fill="none" stroke="#2b3fd4" stroke-width="1.5" stroke-linejoin="round" stroke-linecap="round" />
<text x="510.2" y="567.6" font-size="8.5" fill="#222" text-anchor="middle" textLength="110.0" lengthAdjust="spacingAndGlyphs" >Separation index (Munc13-1</text>
<text x="509.7" y="577.2" font-size="8.5" fill="#222" text-anchor="middle" textLength="90.3" lengthAdjust="spacingAndGlyphs" >nanocluster to nearest</text>
<text x="509.8" y="586.8" font-size="8.5" fill="#222" text-anchor="middle" textLength="78.3" lengthAdjust="spacingAndGlyphs" >Ca<tspan font-size="70%" dy="1.5">V</tspan><tspan dy="-1.5">2.1</tspan> nanocluster)</text>
<text x="420.2" y="486.5" font-size="8.5" fill="#222" text-anchor="middle" transform="rotate(-90 420.2 486.5)" textLength="67.9" lengthAdjust="spacingAndGlyphs" >% of nanoclusters</text>
<circle cx="635" cy="482" r="49.6" fill="#fff" stroke="#444" stroke-width="0.5"/>
<path d="M635,482 L607.3,440.9 A49.6,49.6 0 1 1 625.5,530.7 Z" fill="#0b33e6"/>
<text x="661.1" y="487.2" font-size="9" fill="#cfdcff" text-anchor="middle" textLength="24.6" lengthAdjust="spacingAndGlyphs" >62.5%</text>
<text x="610.7" y="490.2" font-size="9" fill="#222" text-anchor="middle" textLength="23.7" lengthAdjust="spacingAndGlyphs" >37.5%</text>
<line x1="604.40" y1="521.50" x2="604.40" y2="545.50" stroke="#222" stroke-width="0.7" />
<path d="M602.8,544.3 L606.0,544.3 L604.4,547.5 Z" fill="#222"/>
<line x1="669.20" y1="519.50" x2="669.20" y2="575.00" stroke="#222" stroke-width="0.7" />
<path d="M667.6,573.8 L670.8000000000001,573.8 L669.2,577 Z" fill="#222"/>
<text x="590.6" y="557.9" font-size="8.5" fill="#222" text-anchor="start" textLength="67.4" lengthAdjust="spacingAndGlyphs" >Separation index</text>
<text x="590.6" y="567.4" font-size="8.5" fill="#222" text-anchor="start" textLength="45.7" lengthAdjust="spacingAndGlyphs" >&lt;1 (overlap)</text>
<text x="615.1" y="587.2" font-size="8.5" fill="#222" text-anchor="start" textLength="67.9" lengthAdjust="spacingAndGlyphs" >Separation index</text>
<text x="615.1" y="596.4" font-size="8.5" fill="#222" text-anchor="start" textLength="52.0" lengthAdjust="spacingAndGlyphs" >&gt;1 (no overlap)</text>
</svg></body></html>
